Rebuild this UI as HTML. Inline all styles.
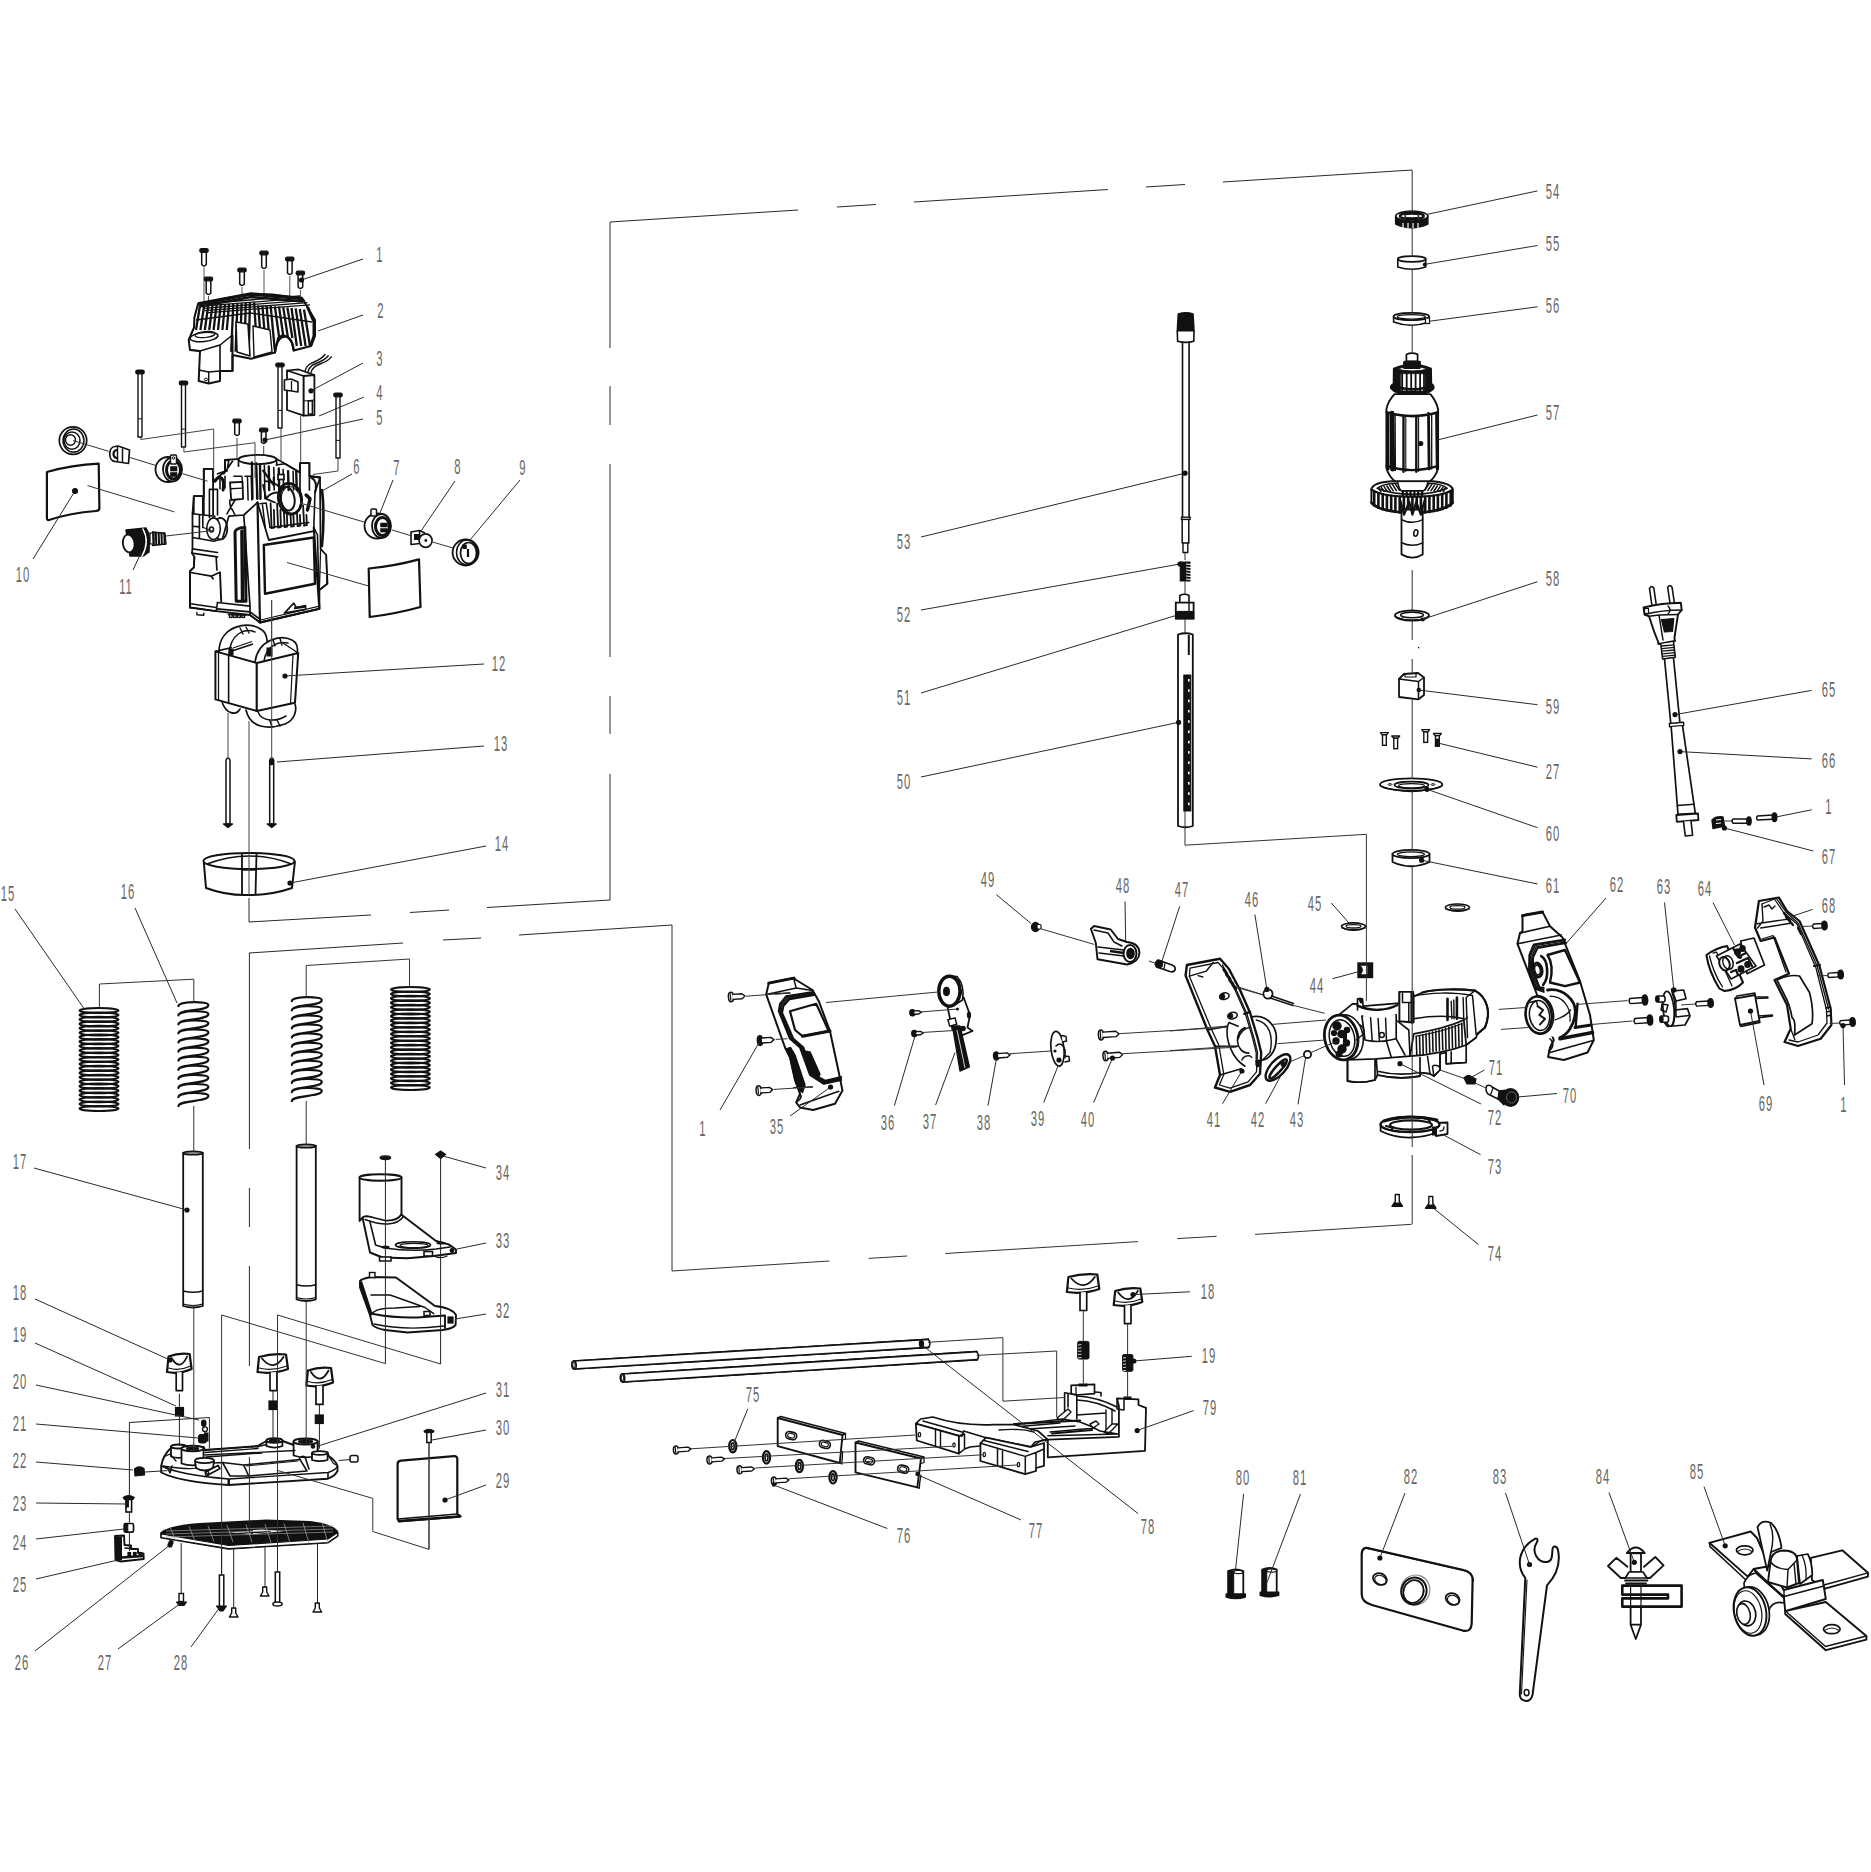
<!DOCTYPE html>
<html><head><meta charset="utf-8"><title>Exploded parts diagram</title>
<style>
html,body{margin:0;padding:0;background:#fff;}
svg{display:block}
text{font-family:"Liberation Sans",sans-serif;font-size:22.5px;fill:#666;letter-spacing:2px;}
</style></head><body>
<svg width="1871" height="1872" viewBox="0 0 1871 1872">
<rect x="0" y="0" width="1871" height="1872" fill="#fff"/>
<rect x="199.8" y="248.7" width="8.4" height="3.6" rx="1.6" fill="#111" stroke="#111" stroke-width="1.2"/>
<path d="M201.7,252.3 V264.5 Q204,267.5 206.3,264.5 V252.3" fill="none" stroke="#111" stroke-width="1.5" stroke-linejoin="round" stroke-linecap="round"/>
<line x1="204" y1="267.5" x2="204" y2="302" stroke="#555" stroke-width="1"/>
<rect x="204.3" y="277.2" width="8.4" height="3.6" rx="1.6" fill="#111" stroke="#111" stroke-width="1.2"/>
<path d="M206.2,280.8 V293 Q208.5,296 210.8,293 V280.8" fill="none" stroke="#111" stroke-width="1.5" stroke-linejoin="round" stroke-linecap="round"/>
<line x1="208.5" y1="296" x2="208.5" y2="303" stroke="#555" stroke-width="1"/>
<rect x="237.8" y="268.2" width="8.4" height="3.6" rx="1.6" fill="#111" stroke="#111" stroke-width="1.2"/>
<path d="M239.7,271.8 V284 Q242,287 244.3,284 V271.8" fill="none" stroke="#111" stroke-width="1.5" stroke-linejoin="round" stroke-linecap="round"/>
<line x1="242" y1="287" x2="242" y2="297" stroke="#555" stroke-width="1"/>
<rect x="259.8" y="251.2" width="8.4" height="3.6" rx="1.6" fill="#111" stroke="#111" stroke-width="1.2"/>
<path d="M261.7,254.8 V267 Q264,270 266.3,267 V254.8" fill="none" stroke="#111" stroke-width="1.5" stroke-linejoin="round" stroke-linecap="round"/>
<line x1="264" y1="270" x2="264" y2="295" stroke="#555" stroke-width="1"/>
<rect x="285.6" y="257.2" width="8.4" height="3.6" rx="1.6" fill="#111" stroke="#111" stroke-width="1.2"/>
<path d="M287.5,260.8 V273 Q289.8,276 292.1,273 V260.8" fill="none" stroke="#111" stroke-width="1.5" stroke-linejoin="round" stroke-linecap="round"/>
<line x1="289.8" y1="276" x2="289.8" y2="297" stroke="#555" stroke-width="1"/>
<rect x="296.2" y="271.2" width="8.4" height="3.6" rx="1.6" fill="#111" stroke="#111" stroke-width="1.2"/>
<path d="M298.1,274.8 V287 Q300.4,290 302.7,287 V274.8" fill="none" stroke="#111" stroke-width="1.5" stroke-linejoin="round" stroke-linecap="round"/>
<line x1="300.4" y1="290" x2="300.4" y2="298" stroke="#555" stroke-width="1"/>
<polygon points="198,304 222,299 251,294 272.5,294.5 302.5,298.5 307.5,307.5 315,320 315,336 311,346 293.7,350.5 292,343 288,337 282.5,335 278,338 275,352.5 251,358.7 232.5,355 232.5,371 220,371 220,381 208.7,383.5 198.7,381 200,351 190,350 188.7,340 194,327.5 194.4,317.5" fill="#fff" stroke="#111" stroke-width="2" stroke-linejoin="round"/>
<line x1="200" y1="305.5" x2="196" y2="330" stroke="#111" stroke-width="2.3"/>
<line x1="204.2" y1="305.3" x2="200.4" y2="330" stroke="#111" stroke-width="2.3"/>
<line x1="208.3" y1="305" x2="204.8" y2="330" stroke="#111" stroke-width="2.3"/>
<line x1="212.5" y1="304.8" x2="209.2" y2="330" stroke="#111" stroke-width="2.3"/>
<line x1="216.6" y1="304.5" x2="213.6" y2="330" stroke="#111" stroke-width="2.3"/>
<line x1="220.8" y1="304.3" x2="218" y2="330" stroke="#111" stroke-width="2.3"/>
<line x1="225" y1="304.1" x2="222.4" y2="330" stroke="#111" stroke-width="2.3"/>
<line x1="229.1" y1="303.8" x2="226.8" y2="330" stroke="#111" stroke-width="2.3"/>
<line x1="233.3" y1="303.6" x2="231.2" y2="351.9" stroke="#111" stroke-width="2.3"/>
<line x1="237.4" y1="303.3" x2="235.6" y2="351.7" stroke="#111" stroke-width="2.3"/>
<line x1="241.6" y1="303.1" x2="240" y2="351.5" stroke="#111" stroke-width="2.3"/>
<line x1="245.8" y1="302.9" x2="244.4" y2="351.3" stroke="#111" stroke-width="2.3"/>
<line x1="249.9" y1="302.6" x2="248.8" y2="351.1" stroke="#111" stroke-width="2.3"/>
<line x1="254.1" y1="302.4" x2="257.2" y2="350.9" stroke="#111" stroke-width="2.3"/>
<line x1="258.2" y1="305.3" x2="261.6" y2="350.7" stroke="#111" stroke-width="2.3"/>
<line x1="262.4" y1="305.5" x2="266" y2="350.5" stroke="#111" stroke-width="2.3"/>
<line x1="266.6" y1="305.8" x2="270.4" y2="350.3" stroke="#111" stroke-width="2.3"/>
<line x1="270.7" y1="306" x2="274.8" y2="350.1" stroke="#111" stroke-width="2.3"/>
<line x1="274.9" y1="306.4" x2="279.2" y2="338" stroke="#111" stroke-width="2.3"/>
<line x1="279" y1="306.7" x2="283.6" y2="338" stroke="#111" stroke-width="2.3"/>
<line x1="283.2" y1="307.1" x2="288" y2="338" stroke="#111" stroke-width="2.3"/>
<line x1="287.4" y1="307.5" x2="292.4" y2="338" stroke="#111" stroke-width="2.3"/>
<line x1="291.5" y1="308" x2="296.8" y2="346" stroke="#111" stroke-width="2.3"/>
<line x1="295.7" y1="308.4" x2="301.2" y2="346" stroke="#111" stroke-width="2.3"/>
<line x1="299.8" y1="309" x2="305.6" y2="346" stroke="#111" stroke-width="2.3"/>
<line x1="304" y1="309.5" x2="310" y2="346" stroke="#111" stroke-width="2.3"/>
<line x1="200" y1="304" x2="300" y2="296" stroke="#111" stroke-width="1.3"/>
<line x1="201.5" y1="306.2" x2="302.5" y2="298.2" stroke="#111" stroke-width="1.3"/>
<line x1="203" y1="308.4" x2="305" y2="300.4" stroke="#111" stroke-width="1.3"/>
<line x1="204.5" y1="310.6" x2="307.5" y2="302.6" stroke="#111" stroke-width="1.3"/>
<line x1="206" y1="312.8" x2="310" y2="304.8" stroke="#111" stroke-width="1.3"/>
<polyline points="198,304 251,294 302.5,298.5" fill="none" stroke="#111" stroke-width="3.4" stroke-linejoin="round"/>
<polyline points="200,306.5 251,297 303,301.5" fill="none" stroke="#111" stroke-width="2.4" stroke-linejoin="round"/>
<polyline points="196,320 250,313 312,322" fill="none" stroke="#111" stroke-width="1.4" stroke-linejoin="round"/>
<polyline points="232.5,335 232.5,371" fill="none" stroke="#111" stroke-width="2" stroke-linejoin="round"/>
<polygon points="236,322 237,352 250,356 248,324" fill="#fff" stroke="#111" stroke-width="1.6" stroke-linejoin="round"/>
<polygon points="253,326 254,357 272,352 270,330" fill="#fff" stroke="#111" stroke-width="1.4" stroke-linejoin="round"/>
<polyline points="190,350 200,351 220,345 232.5,335" fill="none" stroke="#111" stroke-width="1.6" stroke-linejoin="round"/>
<ellipse cx="204" cy="337" rx="14" ry="4.5" fill="#fff" stroke="#111" stroke-width="1.6" transform="rotate(-6 204 337)"/>
<ellipse cx="205" cy="334.5" rx="10" ry="3" fill="none" stroke="#111" stroke-width="1.2" transform="rotate(-6 205 334.5)"/>
<polyline points="220,345 220,371" fill="none" stroke="#111" stroke-width="1.6" stroke-linejoin="round"/>
<polyline points="208.7,383.5 208.7,372 220,371" fill="none" stroke="#111" stroke-width="1.4" stroke-linejoin="round"/>
<polyline points="198.7,370 208.7,372" fill="none" stroke="#111" stroke-width="1.4" stroke-linejoin="round"/>
<ellipse cx="206" cy="379.5" rx="1.6" ry="1.3" fill="none" stroke="#111" stroke-width="1"/>
<path d="M275,352.5 C276,333 292,330 293.7,350.5" fill="none" stroke="#111" stroke-width="2.2" stroke-linejoin="round" stroke-linecap="round"/>
<path d="M308,308 L314,322 L314,336 L311,345" fill="none" stroke="#111" stroke-width="3" stroke-linejoin="round" stroke-linecap="round"/>
<polygon points="287,370.5 303.7,376 303.7,415.6 287,410" fill="#fff" stroke="#111" stroke-width="1.8" stroke-linejoin="round"/>
<polygon points="303.7,376 314.4,375 314.4,415 303.7,415.6" fill="#fff" stroke="#111" stroke-width="1.8" stroke-linejoin="round"/>
<polyline points="287,370.5 298.7,369.4 314.4,375" fill="none" stroke="#111" stroke-width="1.6" stroke-linejoin="round"/>
<polygon points="284.4,380 291,379 298,382 298,392 291.5,391 284.4,390" fill="#fff" stroke="#111" stroke-width="1.6" stroke-linejoin="round"/>
<line x1="291.5" y1="381" x2="291.5" y2="391" stroke="#111" stroke-width="1.3"/>
<rect x="308.3" y="401" width="4" height="13" rx="0" fill="none" stroke="#111" stroke-width="1.4"/>
<line x1="303.7" y1="401" x2="314.4" y2="400" stroke="#111" stroke-width="1.2"/>
<path d="M305,371.0 C308,360 318,364 325.0,354.5" fill="none" stroke="#111" stroke-width="1.4" stroke-linejoin="round" stroke-linecap="round"/>
<path d="M308,371.8 C311,361 321,365 328.2,355.7" fill="none" stroke="#111" stroke-width="1.4" stroke-linejoin="round" stroke-linecap="round"/>
<path d="M311,372.6 C314,362 324,366 331.4,356.9" fill="none" stroke="#111" stroke-width="1.4" stroke-linejoin="round" stroke-linecap="round"/>
<line x1="300.7" y1="416" x2="300.7" y2="462" stroke="#444" stroke-width="1"/>
<rect x="135.8" y="370" width="8.4" height="3.8" rx="1.6" fill="#111" stroke="#111" stroke-width="1.2"/>
<path d="M138,374 V437 H142 V374" fill="none" stroke="#111" stroke-width="1.4" stroke-linejoin="round" stroke-linecap="round"/>
<line x1="138" y1="418.8" x2="142" y2="418.8" stroke="#111" stroke-width="1"/>
<rect x="179.3" y="381" width="8.4" height="3.8" rx="1.6" fill="#111" stroke="#111" stroke-width="1.2"/>
<path d="M181.5,385 V447 H185.5 V385" fill="none" stroke="#111" stroke-width="1.4" stroke-linejoin="round" stroke-linecap="round"/>
<line x1="181.5" y1="429.1" x2="185.5" y2="429.1" stroke="#111" stroke-width="1"/>
<rect x="275.8" y="363" width="8.4" height="3.8" rx="1.6" fill="#111" stroke="#111" stroke-width="1.2"/>
<path d="M278,367 V428 H282 V367" fill="none" stroke="#111" stroke-width="1.4" stroke-linejoin="round" stroke-linecap="round"/>
<line x1="278" y1="410.4" x2="282" y2="410.4" stroke="#111" stroke-width="1"/>
<rect x="333.8" y="393" width="8.4" height="3.8" rx="1.6" fill="#111" stroke="#111" stroke-width="1.2"/>
<path d="M336,397 V458 H340 V397" fill="none" stroke="#111" stroke-width="1.4" stroke-linejoin="round" stroke-linecap="round"/>
<line x1="336" y1="440.4" x2="340" y2="440.4" stroke="#111" stroke-width="1"/>
<rect x="232.8" y="419.2" width="8.4" height="3.6" rx="1.6" fill="#111" stroke="#111" stroke-width="1.2"/>
<path d="M234.7,422.8 V434 Q237,437 239.3,434 V422.8" fill="none" stroke="#111" stroke-width="1.5" stroke-linejoin="round" stroke-linecap="round"/>
<rect x="259.5" y="428.2" width="8.4" height="3.6" rx="1.6" fill="#111" stroke="#111" stroke-width="1.2"/>
<path d="M261.4,431.8 V442 Q263.7,445 266,442 V431.8" fill="none" stroke="#111" stroke-width="1.5" stroke-linejoin="round" stroke-linecap="round"/>
<line x1="237" y1="438" x2="237" y2="492" stroke="#444" stroke-width="1"/>
<line x1="263.7" y1="446" x2="263.7" y2="484" stroke="#444" stroke-width="1"/>
<path d="M190 571.2 L193.8 567.5 L194.4 556.9 L191.9 553.1 L192.5 548.8 L192.5 513.8 L193.8 496.2 L203.8 496.2 L203.8 468.8 L213.1 468.8 L213.1 481.2 L225 471.2 L225 460 L240 458.8 Q257.5 453.8 276.2 458.8 L285 463.8 L300 472.5 L300 463.1 L309.4 463.1 L309.4 476.2 L320 477.5 L320.6 548.8 L326.2 555 L327.5 583.8 L319.4 590 L319.4 608.8 L260 622.5 L250 615 L216.2 611.2 L190 607.5 Z" fill="#fff" stroke="#111" stroke-width="1.8" stroke-linejoin="round" stroke-linecap="round"/>
<path d="M257.5 502.5 L260 622.5 L319.4 608.8 L313.8 527.5" fill="none" stroke="#111" stroke-width="2.2" stroke-linejoin="round" stroke-linecap="round"/>
<path d="M257.5 502.5 L268.8 540 L313.8 531.2" fill="none" stroke="#111" stroke-width="1.8" stroke-linejoin="round" stroke-linecap="round"/>
<path d="M263.8 545 L313.8 537.5 L315 583.8 L265 593.8 Z" fill="none" stroke="#111" stroke-width="2.4" stroke-linejoin="round" stroke-linecap="round"/>
<path d="M260.6 620 L319.4 606.2" fill="none" stroke="#111" stroke-width="1.2" stroke-linejoin="round" stroke-linecap="round"/>
<path d="M284.4 613.1 L293.8 603.1 L296.2 607.5 L305.6 605.6 L305.6 609.4 Z" fill="none" stroke="#111" stroke-width="1.6" stroke-linejoin="round" stroke-linecap="round"/>
<path d="M295 608.1 L305 606.6" fill="none" stroke="#111" stroke-width="2.4" stroke-linejoin="round" stroke-linecap="round"/>
<path d="M313.8 527.5 L317.5 535 L318.8 590 L319.4 590 M320 477.5 L315 492.5 L313.8 527.5" fill="none" stroke="#111" stroke-width="1.6" stroke-linejoin="round" stroke-linecap="round"/>
<path d="M320.6 548.8 L319.4 590 M326.2 555 L326.9 583.8 L320 589.4" fill="none" stroke="#111" stroke-width="1.3" stroke-linejoin="round" stroke-linecap="round"/>
<path d="M321.9 490 C323.8 502.5 324 527.5 321.9 546.2" fill="none" stroke="#111" stroke-width="2.6" stroke-linejoin="round" stroke-linecap="round"/>
<path d="M310 476.2 L320 477.5 M311.2 477.5 Q318.1 481.2 315 492.5" fill="none" stroke="#111" stroke-width="2" stroke-linejoin="round" stroke-linecap="round"/>
<path d="M270.6 503.1 L271.6 528.1 L274.4 527.5 L273.9 510" fill="none" stroke="#111" stroke-width="1.8" stroke-linejoin="round" stroke-linecap="round"/>
<path d="M277.1 503.6 L278.1 527.6 L280.9 527 L280.4 510" fill="none" stroke="#111" stroke-width="1.8" stroke-linejoin="round" stroke-linecap="round"/>
<path d="M283.6 504.1 L284.6 527.1 L287.4 526.5 L286.9 515" fill="none" stroke="#111" stroke-width="1.8" stroke-linejoin="round" stroke-linecap="round"/>
<path d="M290.1 504.6 L291.1 526.6 L293.9 526 L293.4 515" fill="none" stroke="#111" stroke-width="1.8" stroke-linejoin="round" stroke-linecap="round"/>
<path d="M296.6 505.1 L297.6 526.1 L300.4 525.5 L299.9 515" fill="none" stroke="#111" stroke-width="1.8" stroke-linejoin="round" stroke-linecap="round"/>
<path d="M303.1 505.6 L304.1 525.6 L306.9 525 L306.4 515" fill="none" stroke="#111" stroke-width="1.8" stroke-linejoin="round" stroke-linecap="round"/>
<path d="M270 527.5 L308.8 522.5" fill="none" stroke="#111" stroke-width="1.6" stroke-linejoin="round" stroke-linecap="round"/>
<path d="M260 503.8 L266.2 503.1 L270 527.5 M262.5 505 L265.2 527.5" fill="none" stroke="#111" stroke-width="1.5" stroke-linejoin="round" stroke-linecap="round"/>
<ellipse cx="290" cy="498.7" rx="11.5" ry="15.5" fill="#fff" stroke="#111" stroke-width="2.8" transform="rotate(-10 290 498.7)"/>
<ellipse cx="287.5" cy="498.7" rx="7" ry="12" fill="#fff" stroke="#111" stroke-width="2" transform="rotate(-10 287.5 498.7)"/>
<ellipse cx="291" cy="500" rx="9.5" ry="13.5" fill="none" stroke="#111" stroke-width="1" transform="rotate(-10 291 500)"/>
<path d="M265 481.2 Q273.8 481.2 280 487.5 M266.2 498.8 Q270 492.5 277.5 492.5 M263.1 485 L266.2 498.8 L275 502.5" fill="none" stroke="#111" stroke-width="1.8" stroke-linejoin="round" stroke-linecap="round"/>
<path d="M306.2 495 L310 498.8 L307.5 510" fill="none" stroke="#111" stroke-width="3.4" stroke-linejoin="round" stroke-linecap="round"/>
<ellipse cx="257.5" cy="459.5" rx="19" ry="4.6" fill="#fff" stroke="#111" stroke-width="1.9"/>
<path d="M238.5 460 L238.5 466.2 M276.5 460 L276.9 465" fill="none" stroke="#111" stroke-width="1.7" stroke-linejoin="round" stroke-linecap="round"/>
<path d="M251.9 462.5 L252.4 498.8" fill="none" stroke="#111" stroke-width="2.4" stroke-linejoin="round" stroke-linecap="round"/>
<path d="M256.2 463.5 L256.8 498.8" fill="none" stroke="#111" stroke-width="1.6" stroke-linejoin="round" stroke-linecap="round"/>
<path d="M260 464.5 L260.5 498.8" fill="none" stroke="#111" stroke-width="2.4" stroke-linejoin="round" stroke-linecap="round"/>
<path d="M264.4 465.5 L264.9 498.8" fill="none" stroke="#111" stroke-width="1.6" stroke-linejoin="round" stroke-linecap="round"/>
<path d="M268.8 466.5 L269.2 490" fill="none" stroke="#111" stroke-width="2.4" stroke-linejoin="round" stroke-linecap="round"/>
<path d="M273.8 467.5 L274.2 490" fill="none" stroke="#111" stroke-width="1.6" stroke-linejoin="round" stroke-linecap="round"/>
<path d="M278.8 468.5 L279.2 490" fill="none" stroke="#111" stroke-width="2.4" stroke-linejoin="round" stroke-linecap="round"/>
<path d="M283.1 469.5 L283.6 490" fill="none" stroke="#111" stroke-width="1.6" stroke-linejoin="round" stroke-linecap="round"/>
<path d="M288.1 471.2 L288.6 490" fill="none" stroke="#111" stroke-width="2.4" stroke-linejoin="round" stroke-linecap="round"/>
<path d="M293.1 471.2 L293.6 490" fill="none" stroke="#111" stroke-width="1.6" stroke-linejoin="round" stroke-linecap="round"/>
<path d="M296.2 471.2 L296.8 490" fill="none" stroke="#111" stroke-width="2.4" stroke-linejoin="round" stroke-linecap="round"/>
<path d="M263.1 470.6 L273.8 485 L273.8 477.5 M256.2 463.1 L257.5 498.8" fill="none" stroke="#111" stroke-width="2.2" stroke-linejoin="round" stroke-linecap="round"/>
<rect x="278" y="474.5" width="6" height="5" rx="0" fill="#fff" stroke="#111" stroke-width="1.7"/>
<path d="M276.2 465 L285 463.8 L300 472.5" fill="none" stroke="#111" stroke-width="1.6" stroke-linejoin="round" stroke-linecap="round"/>
<path d="M300 463.1 L300 492.5 M309.4 463.1 L309.4 490 M300 463.1 L309.4 463.1" fill="none" stroke="#111" stroke-width="1.7" stroke-linejoin="round" stroke-linecap="round"/>
<path d="M225 460 L225 471.2 L217.5 473.8 M225 460 L228.8 460.6 L226.9 471.2 M232.5 461.2 L223.8 473.8" fill="none" stroke="#111" stroke-width="1.7" stroke-linejoin="round" stroke-linecap="round"/>
<path d="M215 481.2 C220 473.8 225 477.5 223.1 490" fill="none" stroke="#111" stroke-width="3" stroke-linejoin="round" stroke-linecap="round"/>
<path d="M220 477.5 L220 488.8 M225 476.2 L225 488.1" fill="none" stroke="#111" stroke-width="1.6" stroke-linejoin="round" stroke-linecap="round"/>
<path d="M230 482.5 L242.5 481.9 L243.1 498.8 L231.2 500 Z" fill="#fff" stroke="#111" stroke-width="1.8" stroke-linejoin="round" stroke-linecap="round"/>
<path d="M233.8 476.2 L241.9 476.2 L242.5 481.9 M230.6 488.8 L242.8 488.1" fill="none" stroke="#111" stroke-width="1.4" stroke-linejoin="round" stroke-linecap="round"/>
<path d="M245 476.2 L251.2 476.2 L251.9 500 M247.5 477.5 L248.1 500" fill="none" stroke="#111" stroke-width="1.5" stroke-linejoin="round" stroke-linecap="round"/>
<path d="M230 500 Q228.8 505 232.5 510 L235 515 M226.9 513.8 L235 500" fill="none" stroke="#111" stroke-width="1.6" stroke-linejoin="round" stroke-linecap="round"/>
<path d="M203.8 468.8 L203.8 515 M213.1 468.8 L213.1 515 M203.8 468.8 L213.1 468.8" fill="none" stroke="#111" stroke-width="1.8" stroke-linejoin="round" stroke-linecap="round"/>
<path d="M209.4 489.4 L209.4 517.5 M217.5 489.4 L217.5 515 M209.4 489.4 L217.5 489.4" fill="none" stroke="#111" stroke-width="1.6" stroke-linejoin="round" stroke-linecap="round"/>
<path d="M193.8 496.2 L193.8 513.8 M193.8 496.2 L203.8 496.2 M202.8 496.9 L202.8 513.8" fill="none" stroke="#111" stroke-width="1.7" stroke-linejoin="round" stroke-linecap="round"/>
<path d="M192.5 513.8 L215 516.2 M192.5 526.2 L199.4 526.9 M199.4 515 L199.4 537.5 M202.8 515.6 L202.8 527.5 M192.5 537.5 L200 538.8 L213.8 541.2 L222.5 538.8" fill="none" stroke="#111" stroke-width="1.6" stroke-linejoin="round" stroke-linecap="round"/>
<ellipse cx="220.5" cy="528.7" rx="6.8" ry="10.8" fill="#fff" stroke="#111" stroke-width="1.8"/>
<ellipse cx="213.5" cy="528.7" rx="6.8" ry="10.8" fill="#fff" stroke="#111" stroke-width="1.6"/>
<ellipse cx="211.5" cy="529.5" rx="2" ry="2.4" fill="none" stroke="#111" stroke-width="1.5"/>
<path d="M203.1 527.5 L210 530" fill="none" stroke="#111" stroke-width="1.3" stroke-linejoin="round" stroke-linecap="round"/>
<path d="M192.5 548.8 L217.5 552.5 M191.9 553.1 L217.5 556.9 M194.4 556.9 L193.8 567.5 M216.2 557.5 L216.9 570" fill="none" stroke="#111" stroke-width="1.7" stroke-linejoin="round" stroke-linecap="round"/>
<path d="M190 571.2 L193.8 567.5 M190.6 572.5 L211.2 576.2 L219.4 572.5 L220 572.5 M211.2 576.2 L213.1 578.8" fill="none" stroke="#111" stroke-width="1.7" stroke-linejoin="round" stroke-linecap="round"/>
<path d="M190 571.2 L190 607.5 M220 572.5 L221.2 601.2" fill="none" stroke="#111" stroke-width="1.9" stroke-linejoin="round" stroke-linecap="round"/>
<path d="M190 607.5 L216.2 611.2 M190.6 603.8 L216.2 607.5 M216.2 611.2 L217.5 602.5" fill="none" stroke="#111" stroke-width="1.6" stroke-linejoin="round" stroke-linecap="round"/>
<path d="M196.9 612.5 L196.9 614.8 L203.8 615.2 L203.8 613.1" fill="none" stroke="#111" stroke-width="1.4" stroke-linejoin="round" stroke-linecap="round"/>
<path d="M222.5 538.8 L228.8 516.2 L243.8 515 L257.5 502.5 M243.8 515 L250 606.2" fill="none" stroke="#111" stroke-width="1.7" stroke-linejoin="round" stroke-linecap="round"/>
<path d="M235 532.5 Q235 529.4 240 528.1 L244.8 527.5 L246 601.2 L236.2 601.2 Z" fill="none" stroke="#111" stroke-width="3" stroke-linejoin="round" stroke-linecap="round"/>
<path d="M241.9 531.2 L242.5 600" fill="none" stroke="#111" stroke-width="3.4" stroke-linejoin="round" stroke-linecap="round"/>
<path d="M217.5 602.5 L250 606.2 M216.9 608.8 L250 611.9 M250 606.2 L250 615 L260 622.5 M250 611.9 L259.4 618.8" fill="none" stroke="#111" stroke-width="1.7" stroke-linejoin="round" stroke-linecap="round"/>
<path d="M229.4 614.4 L229.4 617.2 L232.1 617.5 L232.1 614.8" fill="none" stroke="#111" stroke-width="1.4" stroke-linejoin="round" stroke-linecap="round"/>
<path d="M233.5 614.4 L233.5 617.2 L236.2 617.5 L236.2 614.8" fill="none" stroke="#111" stroke-width="1.4" stroke-linejoin="round" stroke-linecap="round"/>
<path d="M237.6 614.4 L237.6 617.2 L240.4 617.5 L240.4 614.8" fill="none" stroke="#111" stroke-width="1.4" stroke-linejoin="round" stroke-linecap="round"/>
<path d="M241.8 614.4 L241.8 617.2 L244.5 617.5 L244.5 614.8" fill="none" stroke="#111" stroke-width="1.4" stroke-linejoin="round" stroke-linecap="round"/>
<path d="M228.5 614.4 L245.6 615" fill="none" stroke="#111" stroke-width="1.8" stroke-linejoin="round" stroke-linecap="round"/>
<line x1="271.6" y1="600" x2="271.6" y2="640" stroke="#444" stroke-width="1"/>
<ellipse cx="73" cy="440.6" rx="13.7" ry="13.7" fill="#fff" stroke="#111" stroke-width="1.7"/>
<ellipse cx="73.5" cy="440.6" rx="10.5" ry="11.5" fill="none" stroke="#111" stroke-width="1.5"/>
<ellipse cx="72" cy="440.6" rx="8" ry="8.7" fill="none" stroke="#111" stroke-width="1.5"/>
<ellipse cx="70.5" cy="440" rx="5" ry="5.3" fill="none" stroke="#111" stroke-width="1.4"/>
<path d="M115,446.5 C108,447 108,461 115,461.5 L128.5,463.5 L129.5,450 L118,446 Z" fill="#fff" stroke="#111" stroke-width="1.7" stroke-linejoin="round" stroke-linecap="round"/>
<polyline points="117.5,447 117.5,461.8" fill="none" stroke="#111" stroke-width="1.5" stroke-linejoin="round"/>
<polyline points="122.5,448.5 122.5,462.5" fill="none" stroke="#111" stroke-width="1.5" stroke-linejoin="round"/>
<path d="M116.5,450 C112.5,451 112.5,457 116.5,458" fill="none" stroke="#111" stroke-width="2.2" stroke-linejoin="round" stroke-linecap="round"/>
<ellipse cx="168" cy="469.5" rx="12.5" ry="12.5" fill="#fff" stroke="#111" stroke-width="1.8"/>
<ellipse cx="172.5" cy="469.5" rx="9.5" ry="12" fill="#fff" stroke="#111" stroke-width="1.8"/>
<ellipse cx="173.5" cy="470" rx="7" ry="9" fill="#fff" stroke="#111" stroke-width="3"/>
<rect x="170.5" y="455" width="6" height="9" rx="1" fill="#fff" stroke="#111" stroke-width="1.5"/>
<ellipse cx="173.5" cy="458" rx="1.2" ry="1.2" fill="none" stroke="#111" stroke-width="1"/>
<rect x="171" y="467" width="5.5" height="3.5" rx="0" fill="#111" stroke="#111" stroke-width="1.6"/>
<rect x="171" y="473" width="5.5" height="3" rx="0" fill="#111" stroke="#111" stroke-width="1.6"/>
<path d="M46.9,472 Q72,465 98.7,463.7 L99.4,508 Q99.4,510.8 96,511 Q70,513 49,520 Q46.9,520.6 46.9,518 Z" fill="#fff" stroke="#111" stroke-width="2.2" stroke-linejoin="round" stroke-linecap="round"/>
<circle cx="75" cy="491" r="3" fill="#111"/>
<path d="M126,530 L146,528 L149,534 L149,552 L143,556 L130,556 Z" fill="#111" stroke="#111" stroke-width="1.5" stroke-linejoin="round" stroke-linecap="round"/>
<ellipse cx="128.7" cy="543.5" rx="5.8" ry="9" fill="#fff" stroke="#111" stroke-width="1.8" transform="rotate(-8 128.7 543.5)"/>
<path d="M143,529 Q150,542 142,556" fill="none" stroke="#fff" stroke-width="1.5" stroke-linejoin="round" stroke-linecap="round"/>
<path d="M145,529.5 C151,533 151,552 144,555.5" fill="none" stroke="#111" stroke-width="1.4" stroke-linejoin="round" stroke-linecap="round"/>
<rect x="150" y="533" width="4" height="11" rx="0" fill="#fff" stroke="#111" stroke-width="1.2"/>
<line x1="153" y1="531.5" x2="153.5" y2="545.5" stroke="#111" stroke-width="2"/>
<line x1="155.8" y1="531.7" x2="156.3" y2="545.3" stroke="#111" stroke-width="2"/>
<line x1="158.6" y1="531.9" x2="159.1" y2="545.1" stroke="#111" stroke-width="2"/>
<line x1="161.4" y1="532.1" x2="161.9" y2="544.9" stroke="#111" stroke-width="2"/>
<line x1="164.2" y1="532.3" x2="164.7" y2="544.7" stroke="#111" stroke-width="2"/>
<polyline points="152,532 165,533.5 166,544 152,545.5" fill="none" stroke="#111" stroke-width="1.3" stroke-linejoin="round"/>
<ellipse cx="377" cy="526" rx="12.5" ry="12.5" fill="#fff" stroke="#111" stroke-width="1.8"/>
<ellipse cx="381.5" cy="526" rx="9.5" ry="12" fill="#fff" stroke="#111" stroke-width="1.8"/>
<ellipse cx="382.5" cy="526.5" rx="7" ry="9" fill="#fff" stroke="#111" stroke-width="3"/>
<rect x="371" y="509" width="5.5" height="7" rx="1" fill="#fff" stroke="#111" stroke-width="1.5"/>
<rect x="381" y="523.5" width="6" height="3" rx="0" fill="#111" stroke="#111" stroke-width="1.5"/>
<rect x="381" y="529" width="6" height="2.6" rx="0" fill="#111" stroke="#111" stroke-width="1.5"/>
<polygon points="411,532 419.5,530.5 420,543.5 411,544.5" fill="#fff" stroke="#111" stroke-width="1.6" stroke-linejoin="round"/>
<ellipse cx="425.6" cy="540.6" rx="6.5" ry="6.8" fill="#fff" stroke="#111" stroke-width="1.7"/>
<circle cx="425.8" cy="540.5" r="1.4" fill="#111"/>
<rect x="414.5" y="534.5" width="4.5" height="5" rx="0" fill="#111" stroke="#111" stroke-width="1"/>
<polyline points="419.5,530.5 425,533" fill="none" stroke="#111" stroke-width="1.4" stroke-linejoin="round"/>
<ellipse cx="465.6" cy="552.5" rx="13" ry="13" fill="#fff" stroke="#111" stroke-width="1.8"/>
<ellipse cx="467" cy="552.5" rx="10.5" ry="12.5" fill="none" stroke="#111" stroke-width="1.5"/>
<ellipse cx="468.5" cy="553" rx="8" ry="10.5" fill="none" stroke="#111" stroke-width="1.7"/>
<line x1="468" y1="549" x2="468" y2="557" stroke="#111" stroke-width="2.2"/>
<rect x="463" y="545" width="3.2" height="3.5" rx="0" fill="#111" stroke="#111" stroke-width="1"/>
<path d="M368.7,568.5 Q395,566 419,559.4 L420.5,607 Q395,614 369.7,617 Z" fill="#fff" stroke="#111" stroke-width="2.2" stroke-linejoin="round" stroke-linecap="round"/>
<path d="M219,652 C219,625 250,620 262,630 C268,634 268,645 266,652" fill="#fff" stroke="#111" stroke-width="1.7" stroke-linejoin="round" stroke-linecap="round"/>
<path d="M229,655 C230,633 245,628 255,632" fill="none" stroke="#111" stroke-width="1.5" stroke-linejoin="round" stroke-linecap="round"/>
<path d="M240,628 L243,634 M246,627 L249,633" fill="none" stroke="#111" stroke-width="1.4" stroke-linejoin="round" stroke-linecap="round"/>
<path d="M255,662 C258,640 280,634 292,640 C298,643 298,650 297,655" fill="#fff" stroke="#111" stroke-width="1.7" stroke-linejoin="round" stroke-linecap="round"/>
<path d="M264,661 C266,646 278,641 288,643" fill="none" stroke="#111" stroke-width="1.5" stroke-linejoin="round" stroke-linecap="round"/>
<path d="M273,640 L275,646 M280,638.5 L282,645" fill="none" stroke="#111" stroke-width="1.4" stroke-linejoin="round" stroke-linecap="round"/>
<polyline points="232,651 253,644" fill="none" stroke="#111" stroke-width="1.6" stroke-linejoin="round"/>
<polyline points="233,648 252,641.5" fill="none" stroke="#111" stroke-width="1.2" stroke-linejoin="round"/>
<path d="M222,702 C226,714 236,716 240,709" fill="none" stroke="#111" stroke-width="1.6" stroke-linejoin="round" stroke-linecap="round"/>
<path d="M246,710 C250,728 268,730 285,724 C295,720 297,710 295,704" fill="#fff" stroke="#111" stroke-width="1.7" stroke-linejoin="round" stroke-linecap="round"/>
<path d="M258,712 C262,722 276,722 286,716" fill="none" stroke="#111" stroke-width="1.5" stroke-linejoin="round" stroke-linecap="round"/>
<path d="M270,721 L272,727 M277,720 L280,726" fill="none" stroke="#111" stroke-width="1.4" stroke-linejoin="round" stroke-linecap="round"/>
<polygon points="215.4,651.4 256.8,663 256.8,711 215.4,699.4" fill="#fff" stroke="#111" stroke-width="2" stroke-linejoin="round"/>
<polygon points="256.8,663 298.2,653 295,702.7 256.8,711" fill="#fff" stroke="#111" stroke-width="2" stroke-linejoin="round"/>
<polyline points="215.4,651.4 232,647.5" fill="none" stroke="#111" stroke-width="1.6" stroke-linejoin="round"/>
<polyline points="283,643 298.2,653" fill="none" stroke="#111" stroke-width="1.4" stroke-linejoin="round"/>
<line x1="228.6" y1="655" x2="228.6" y2="703" stroke="#111" stroke-width="1.6"/>
<line x1="218.5" y1="652.5" x2="218.5" y2="700.5" stroke="#111" stroke-width="1.3"/>
<line x1="293" y1="654.5" x2="290.5" y2="703.5" stroke="#111" stroke-width="1.2"/>
<rect x="229" y="649" width="4" height="6" rx="0" fill="#111" stroke="#111" stroke-width="1"/>
<rect x="267" y="648" width="5" height="8" rx="0" fill="#111" stroke="#111" stroke-width="1"/>
<path d="M226,760 V824 H230 V760 Q228,756 226,760" fill="#fff" stroke="#111" stroke-width="1.5" stroke-linejoin="round" stroke-linecap="round"/>
<path d="M223.5,824 H232.5 L228,827.5 Z" fill="#111" stroke="#111" stroke-width="1.3" stroke-linejoin="round" stroke-linecap="round"/>
<path d="M269.7,760 V824 H273.7 V760 Q271.7,756 269.7,760" fill="#fff" stroke="#111" stroke-width="1.5" stroke-linejoin="round" stroke-linecap="round"/>
<path d="M267.2,824 H276.2 L271.7,827.5 Z" fill="#111" stroke="#111" stroke-width="1.3" stroke-linejoin="round" stroke-linecap="round"/>
<ellipse cx="271.7" cy="762" rx="2" ry="3" fill="#111" stroke="#111" stroke-width="1"/>
<path d="M203.8,862 L206,888 Q228,896 249,895 Q272,895 292,888 L294.9,862" fill="#fff" stroke="#111" stroke-width="2" stroke-linejoin="round" stroke-linecap="round"/>
<ellipse cx="249" cy="861" rx="45.6" ry="8" fill="#fff" stroke="#111" stroke-width="2"/>
<path d="M207,864 Q249,848 291.5,864" fill="none" stroke="#111" stroke-width="1.5" stroke-linejoin="round" stroke-linecap="round"/>
<polyline points="242,853.5 242,895" fill="none" stroke="#111" stroke-width="1.8" stroke-linejoin="round"/>
<polyline points="256.5,853.5 255.5,895" fill="none" stroke="#111" stroke-width="1.8" stroke-linejoin="round"/>
<polyline points="242,870 256,870" fill="none" stroke="#111" stroke-width="1.4" stroke-linejoin="round"/>
<line x1="249" y1="853" x2="249" y2="895" stroke="#444" stroke-width="1"/>
<ellipse cx="99" cy="1010.5" rx="19.5" ry="2.6" fill="none" stroke="#111" stroke-width="2"/>
<ellipse cx="99" cy="1015" rx="19.5" ry="2.6" fill="none" stroke="#111" stroke-width="2"/>
<ellipse cx="99" cy="1019.4" rx="19.5" ry="2.6" fill="none" stroke="#111" stroke-width="2"/>
<ellipse cx="99" cy="1023.9" rx="19.5" ry="2.6" fill="none" stroke="#111" stroke-width="2"/>
<ellipse cx="99" cy="1028.3" rx="19.5" ry="2.6" fill="none" stroke="#111" stroke-width="2"/>
<ellipse cx="99" cy="1032.8" rx="19.5" ry="2.6" fill="none" stroke="#111" stroke-width="2"/>
<ellipse cx="99" cy="1037.2" rx="19.5" ry="2.6" fill="none" stroke="#111" stroke-width="2"/>
<ellipse cx="99" cy="1041.7" rx="19.5" ry="2.6" fill="none" stroke="#111" stroke-width="2"/>
<ellipse cx="99" cy="1046.1" rx="19.5" ry="2.6" fill="none" stroke="#111" stroke-width="2"/>
<ellipse cx="99" cy="1050.6" rx="19.5" ry="2.6" fill="none" stroke="#111" stroke-width="2"/>
<ellipse cx="99" cy="1055" rx="19.5" ry="2.6" fill="none" stroke="#111" stroke-width="2"/>
<ellipse cx="99" cy="1059.5" rx="19.5" ry="2.6" fill="none" stroke="#111" stroke-width="2"/>
<ellipse cx="99" cy="1064" rx="19.5" ry="2.6" fill="none" stroke="#111" stroke-width="2"/>
<ellipse cx="99" cy="1068.4" rx="19.5" ry="2.6" fill="none" stroke="#111" stroke-width="2"/>
<ellipse cx="99" cy="1072.9" rx="19.5" ry="2.6" fill="none" stroke="#111" stroke-width="2"/>
<ellipse cx="99" cy="1077.3" rx="19.5" ry="2.6" fill="none" stroke="#111" stroke-width="2"/>
<ellipse cx="99" cy="1081.8" rx="19.5" ry="2.6" fill="none" stroke="#111" stroke-width="2"/>
<ellipse cx="99" cy="1086.2" rx="19.5" ry="2.6" fill="none" stroke="#111" stroke-width="2"/>
<ellipse cx="99" cy="1090.7" rx="19.5" ry="2.6" fill="none" stroke="#111" stroke-width="2"/>
<ellipse cx="99" cy="1095.1" rx="19.5" ry="2.6" fill="none" stroke="#111" stroke-width="2"/>
<ellipse cx="99" cy="1099.6" rx="19.5" ry="2.6" fill="none" stroke="#111" stroke-width="2"/>
<ellipse cx="99" cy="1104" rx="19.5" ry="2.6" fill="none" stroke="#111" stroke-width="2"/>
<ellipse cx="99" cy="1108.5" rx="19.5" ry="2.6" fill="none" stroke="#111" stroke-width="2"/>
<ellipse cx="410.4" cy="989.5" rx="19.5" ry="2.6" fill="none" stroke="#111" stroke-width="2"/>
<ellipse cx="410.4" cy="994" rx="19.5" ry="2.6" fill="none" stroke="#111" stroke-width="2"/>
<ellipse cx="410.4" cy="998.4" rx="19.5" ry="2.6" fill="none" stroke="#111" stroke-width="2"/>
<ellipse cx="410.4" cy="1002.9" rx="19.5" ry="2.6" fill="none" stroke="#111" stroke-width="2"/>
<ellipse cx="410.4" cy="1007.3" rx="19.5" ry="2.6" fill="none" stroke="#111" stroke-width="2"/>
<ellipse cx="410.4" cy="1011.8" rx="19.5" ry="2.6" fill="none" stroke="#111" stroke-width="2"/>
<ellipse cx="410.4" cy="1016.2" rx="19.5" ry="2.6" fill="none" stroke="#111" stroke-width="2"/>
<ellipse cx="410.4" cy="1020.7" rx="19.5" ry="2.6" fill="none" stroke="#111" stroke-width="2"/>
<ellipse cx="410.4" cy="1025.1" rx="19.5" ry="2.6" fill="none" stroke="#111" stroke-width="2"/>
<ellipse cx="410.4" cy="1029.6" rx="19.5" ry="2.6" fill="none" stroke="#111" stroke-width="2"/>
<ellipse cx="410.4" cy="1034" rx="19.5" ry="2.6" fill="none" stroke="#111" stroke-width="2"/>
<ellipse cx="410.4" cy="1038.5" rx="19.5" ry="2.6" fill="none" stroke="#111" stroke-width="2"/>
<ellipse cx="410.4" cy="1043" rx="19.5" ry="2.6" fill="none" stroke="#111" stroke-width="2"/>
<ellipse cx="410.4" cy="1047.4" rx="19.5" ry="2.6" fill="none" stroke="#111" stroke-width="2"/>
<ellipse cx="410.4" cy="1051.9" rx="19.5" ry="2.6" fill="none" stroke="#111" stroke-width="2"/>
<ellipse cx="410.4" cy="1056.3" rx="19.5" ry="2.6" fill="none" stroke="#111" stroke-width="2"/>
<ellipse cx="410.4" cy="1060.8" rx="19.5" ry="2.6" fill="none" stroke="#111" stroke-width="2"/>
<ellipse cx="410.4" cy="1065.2" rx="19.5" ry="2.6" fill="none" stroke="#111" stroke-width="2"/>
<ellipse cx="410.4" cy="1069.7" rx="19.5" ry="2.6" fill="none" stroke="#111" stroke-width="2"/>
<ellipse cx="410.4" cy="1074.1" rx="19.5" ry="2.6" fill="none" stroke="#111" stroke-width="2"/>
<ellipse cx="410.4" cy="1078.6" rx="19.5" ry="2.6" fill="none" stroke="#111" stroke-width="2"/>
<ellipse cx="410.4" cy="1083" rx="19.5" ry="2.6" fill="none" stroke="#111" stroke-width="2"/>
<ellipse cx="410.4" cy="1087.5" rx="19.5" ry="2.6" fill="none" stroke="#111" stroke-width="2"/>
<path d="M178.4,1006.3 C178.4,1001 208.4,1001 208.4,1004.9 C208.4,1011.5 178.4,1008.8 178.4,1015.4 M178.4,1015.4 C178.4,1010.1 208.4,1010.1 208.4,1014 C208.4,1020.6 178.4,1017.9 178.4,1024.5 M178.4,1024.5 C178.4,1019.2 208.4,1019.2 208.4,1023.1 C208.4,1029.7 178.4,1027 178.4,1033.5 M178.4,1033.5 C178.4,1028.3 208.4,1028.3 208.4,1032.2 C208.4,1038.8 178.4,1036.1 178.4,1042.6 M178.4,1042.6 C178.4,1037.4 208.4,1037.4 208.4,1041.3 C208.4,1047.9 178.4,1045.2 178.4,1051.7 M178.4,1051.7 C178.4,1046.5 208.4,1046.5 208.4,1050.4 C208.4,1057 178.4,1054.3 178.4,1060.8 M178.4,1060.8 C178.4,1055.5 208.4,1055.5 208.4,1059.5 C208.4,1066.1 178.4,1063.4 178.4,1069.9 M178.4,1069.9 C178.4,1064.6 208.4,1064.6 208.4,1068.5 C208.4,1075.2 178.4,1072.5 178.4,1079 M178.4,1079 C178.4,1073.7 208.4,1073.7 208.4,1077.6 C208.4,1084.3 178.4,1081.5 178.4,1088.1 M178.4,1088.1 C178.4,1082.8 208.4,1082.8 208.4,1086.7 C208.4,1093.4 178.4,1090.6 178.4,1097.2 M178.4,1097.2 C178.4,1091.9 208.4,1091.9 208.4,1095.8 C208.4,1102.5 178.4,1099.7 178.4,1106.3 " fill="none" stroke="#111" stroke-width="2.1" stroke-linejoin="round" stroke-linecap="round"/>
<path d="M291.8,1001.3 C291.8,996 321.8,996 321.8,999.9 C321.8,1006.5 291.8,1003.8 291.8,1010.4 M291.8,1010.4 C291.8,1005.1 321.8,1005.1 321.8,1009 C321.8,1015.6 291.8,1012.9 291.8,1019.5 M291.8,1019.5 C291.8,1014.2 321.8,1014.2 321.8,1018.1 C321.8,1024.7 291.8,1022 291.8,1028.5 M291.8,1028.5 C291.8,1023.3 321.8,1023.3 321.8,1027.2 C321.8,1033.8 291.8,1031.1 291.8,1037.6 M291.8,1037.6 C291.8,1032.4 321.8,1032.4 321.8,1036.3 C321.8,1042.9 291.8,1040.2 291.8,1046.7 M291.8,1046.7 C291.8,1041.5 321.8,1041.5 321.8,1045.4 C321.8,1052 291.8,1049.3 291.8,1055.8 M291.8,1055.8 C291.8,1050.5 321.8,1050.5 321.8,1054.5 C321.8,1061.1 291.8,1058.4 291.8,1064.9 M291.8,1064.9 C291.8,1059.6 321.8,1059.6 321.8,1063.5 C321.8,1070.2 291.8,1067.5 291.8,1074 M291.8,1074 C291.8,1068.7 321.8,1068.7 321.8,1072.6 C321.8,1079.3 291.8,1076.5 291.8,1083.1 M291.8,1083.1 C291.8,1077.8 321.8,1077.8 321.8,1081.7 C321.8,1088.4 291.8,1085.6 291.8,1092.2 M291.8,1092.2 C291.8,1086.9 321.8,1086.9 321.8,1090.8 C321.8,1097.5 291.8,1094.7 291.8,1101.3 " fill="none" stroke="#111" stroke-width="2.1" stroke-linejoin="round" stroke-linecap="round"/>
<path d="M183.2,1153 V1306 Q193.0,1309 202.8,1306 V1153" fill="#fff" stroke="#111" stroke-width="1.8" stroke-linejoin="round" stroke-linecap="round"/>
<ellipse cx="193" cy="1153" rx="9.8" ry="1.6" fill="#fff" stroke="#111" stroke-width="2"/>
<path d="M183.2,1291 Q193.0,1293.5 202.8,1291" fill="none" stroke="#111" stroke-width="1.4" stroke-linejoin="round" stroke-linecap="round"/>
<path d="M183.2,1304 Q193.0,1307 202.8,1304" fill="none" stroke="#111" stroke-width="1.2" stroke-linejoin="round" stroke-linecap="round"/>
<path d="M296.6,1146 V1299.5 Q306.20000000000005,1302.5 315.8,1299.5 V1146" fill="#fff" stroke="#111" stroke-width="1.8" stroke-linejoin="round" stroke-linecap="round"/>
<ellipse cx="306.2" cy="1146" rx="9.6" ry="1.6" fill="#fff" stroke="#111" stroke-width="2"/>
<path d="M296.6,1284.7 Q306.20000000000005,1287.2 315.8,1284.7" fill="none" stroke="#111" stroke-width="1.4" stroke-linejoin="round" stroke-linecap="round"/>
<path d="M296.6,1297.5 Q306.20000000000005,1300.5 315.8,1297.5" fill="none" stroke="#111" stroke-width="1.2" stroke-linejoin="round" stroke-linecap="round"/>
<path d="M359.6,1177.5 V1221 L362.5,1217.5 L370,1252.5 L382.5,1257.5 L407.5,1258.3 L433.7,1256 L456,1253 L456,1249.5 L448.7,1244.4 L436,1241 L402.5,1215.6 L401.5,1215 V1177.5 Z" fill="#fff" stroke="#111" stroke-width="1.9" stroke-linejoin="round" stroke-linecap="round"/>
<ellipse cx="380.5" cy="1177.5" rx="21" ry="3.2" fill="#fff" stroke="#111" stroke-width="1.9"/>
<path d="M362.5,1217.5 C366,1214 372,1218 385,1220.5 C394,1221 399,1219 401.5,1214" fill="none" stroke="#111" stroke-width="1.7" stroke-linejoin="round" stroke-linecap="round"/>
<path d="M370,1222 L375.6,1245 L385,1248 Q410,1252 436,1249 L450,1247" fill="none" stroke="#111" stroke-width="1.6" stroke-linejoin="round" stroke-linecap="round"/>
<path d="M365,1219.5 C372,1222 380,1224.5 388,1224 C396,1223.5 401,1220 403,1217" fill="none" stroke="#111" stroke-width="1.4" stroke-linejoin="round" stroke-linecap="round"/>
<ellipse cx="413" cy="1245" rx="17.5" ry="3.2" fill="none" stroke="#111" stroke-width="1.6"/>
<ellipse cx="414" cy="1245.5" rx="14" ry="2.2" fill="none" stroke="#111" stroke-width="1.2"/>
<ellipse cx="385.5" cy="1247" rx="3.5" ry="1" fill="#111" stroke="#111" stroke-width="1.2"/>
<ellipse cx="441" cy="1243" rx="4" ry="1" fill="#111" stroke="#111" stroke-width="1.2"/>
<rect x="379.5" y="1257" width="11.5" height="4" rx="0" fill="#fff" stroke="#111" stroke-width="1.5"/>
<rect x="424" y="1251.5" width="8.5" height="4.5" rx="0" fill="#fff" stroke="#111" stroke-width="1.6"/>
<path d="M435,1256.5 Q441,1259 447,1256" fill="none" stroke="#111" stroke-width="1.3" stroke-linejoin="round" stroke-linecap="round"/>
<circle cx="452" cy="1250.5" r="2.4" fill="#111"/>
<path d="M360,1281 Q361,1279 371,1277 L396,1277.5 L435,1306 Q452,1308 456,1315 L455.6,1325 Q452,1329 442.5,1330 L407.5,1332.5 L385,1330 Q375,1328 372.5,1325 L370,1315 L360,1287.5 Z" fill="#fff" stroke="#111" stroke-width="1.9" stroke-linejoin="round" stroke-linecap="round"/>
<path d="M361,1283 L371,1314" fill="none" stroke="#111" stroke-width="3.2" stroke-linejoin="round" stroke-linecap="round"/>
<path d="M371,1295 L390,1295 Q410,1302 425,1307.5 L433.7,1313.7" fill="none" stroke="#111" stroke-width="1.5" stroke-linejoin="round" stroke-linecap="round"/>
<path d="M372,1313.7 Q376,1308 395,1308 L420,1306.5" fill="none" stroke="#111" stroke-width="1.4" stroke-linejoin="round" stroke-linecap="round"/>
<path d="M372,1313.7 Q400,1319 424,1317 L445,1315.5 L445,1328" fill="none" stroke="#111" stroke-width="1.9" stroke-linejoin="round" stroke-linecap="round"/>
<path d="M374,1324 Q405,1331 444,1326" fill="none" stroke="#111" stroke-width="1.3" stroke-linejoin="round" stroke-linecap="round"/>
<rect x="369.5" y="1272.5" width="5.5" height="5" rx="0" fill="#fff" stroke="#111" stroke-width="1.4"/>
<rect x="424" y="1311.5" width="6" height="4" rx="0" fill="#fff" stroke="#111" stroke-width="1.5"/>
<rect x="448" y="1317" width="5" height="6" rx="0" fill="#111" stroke="#111" stroke-width="1.2"/>
<ellipse cx="385.4" cy="1157.7" rx="5.2" ry="1.8" fill="#111" stroke="#111" stroke-width="1.3"/>
<path d="M435.5,1154.4 L440.6,1151 L445.7,1154.4 L440.6,1158.5 Z" fill="#111" stroke="#111" stroke-width="1.2" stroke-linejoin="round" stroke-linecap="round"/>
<path d="M168.5,1356.5 Q179.05,1352.5 189.6,1354 L191.6,1369 Q179.05,1374.5 167.0,1372 Z" fill="#fff" stroke="#111" stroke-width="2.2" stroke-linejoin="round" stroke-linecap="round"/>
<path d="M171.5,1358 Q180.05,1372 187.1,1356.5" fill="none" stroke="#111" stroke-width="1.8" stroke-linejoin="round" stroke-linecap="round"/>
<path d="M168.5,1368 Q179.05,1371.5 190.6,1366" fill="none" stroke="#111" stroke-width="1.2" stroke-linejoin="round" stroke-linecap="round"/>
<path d="M176.2,1372.5 V1390.6 H182.5 V1372" fill="#fff" stroke="#111" stroke-width="1.7" stroke-linejoin="round" stroke-linecap="round"/>
<path d="M259,1357.0 Q272.5,1353.0 286,1354.5 L288,1369 Q272.5,1374.5 257.5,1372 Z" fill="#fff" stroke="#111" stroke-width="2.2" stroke-linejoin="round" stroke-linecap="round"/>
<path d="M262,1358.5 Q273.5,1372.5 283.5,1357.0" fill="none" stroke="#111" stroke-width="1.8" stroke-linejoin="round" stroke-linecap="round"/>
<path d="M259,1368 Q272.5,1371.5 287,1366" fill="none" stroke="#111" stroke-width="1.2" stroke-linejoin="round" stroke-linecap="round"/>
<path d="M270,1372.5 V1390.6 H276.9 V1372" fill="#fff" stroke="#111" stroke-width="1.7" stroke-linejoin="round" stroke-linecap="round"/>
<path d="M307.9,1370.5 Q319.45,1366.5 331,1368 L333,1382.5 Q319.45,1388.0 306.4,1385.5 Z" fill="#fff" stroke="#111" stroke-width="2.2" stroke-linejoin="round" stroke-linecap="round"/>
<path d="M310.9,1372 Q320.45,1386 328.5,1370.5" fill="none" stroke="#111" stroke-width="1.8" stroke-linejoin="round" stroke-linecap="round"/>
<path d="M307.9,1381.5 Q319.45,1385.0 332,1379.5" fill="none" stroke="#111" stroke-width="1.2" stroke-linejoin="round" stroke-linecap="round"/>
<path d="M316,1386.0 V1404.4 H323 V1385.5" fill="#fff" stroke="#111" stroke-width="1.7" stroke-linejoin="round" stroke-linecap="round"/>
<rect x="175.5" y="1407.5" width="8" height="8.5" rx="0" fill="#111" stroke="#111" stroke-width="1.2"/>
<rect x="269" y="1401" width="8" height="8.5" rx="0" fill="#111" stroke="#111" stroke-width="1.2"/>
<rect x="315.3" y="1415" width="8" height="8.5" rx="0" fill="#111" stroke="#111" stroke-width="1.2"/>
<rect x="201.5" y="1420" width="4.5" height="6.5" rx="2" fill="#111" stroke="#111" stroke-width="1"/>
<ellipse cx="205" cy="1429.3" rx="2.4" ry="2.4" fill="#fff" stroke="#111" stroke-width="1.4"/>
<rect x="198.5" y="1434.5" width="8" height="8.5" rx="2" fill="#111" stroke="#111" stroke-width="1"/>
<rect x="204.5" y="1433" width="3.5" height="8" rx="0" fill="#111" stroke="#111" stroke-width="1"/>
<path d="M134.5,1469 Q139,1465 144,1468.5 L144.5,1475 L135,1476 Z" fill="#111" stroke="#111" stroke-width="1.2" stroke-linejoin="round" stroke-linecap="round"/>
<path d="M123.2,1497.5 Q128.7,1493.5 134.2,1497.5 L133,1499.5 H124.5 Z" fill="#111" stroke="#111" stroke-width="1.2" stroke-linejoin="round" stroke-linecap="round"/>
<rect x="126" y="1499.5" width="5.6" height="12.5" rx="0" fill="#fff" stroke="#111" stroke-width="1.6"/>
<rect x="126" y="1500" width="2.4" height="7" rx="0" fill="#111" stroke="#111" stroke-width="1"/>
<rect x="124.3" y="1523.5" width="9.2" height="8.7" rx="1.5" fill="#fff" stroke="#111" stroke-width="1.7"/>
<rect x="124.3" y="1524" width="3.5" height="7.5" rx="0" fill="#111" stroke="#111" stroke-width="1"/>
<path d="M115,1536 L124,1535.5 L124.5,1545 L131,1545.5 V1549 L138,1549 L138,1553 L143.5,1553.5 L143.7,1559 L121,1561.5 L115.5,1560 Z" fill="#fff" stroke="#111" stroke-width="1.9" stroke-linejoin="round" stroke-linecap="round"/>
<rect x="116.5" y="1537" width="5" height="23" rx="0" fill="#111" stroke="#111" stroke-width="1"/>
<line x1="122" y1="1557.5" x2="143" y2="1556" stroke="#111" stroke-width="2.4"/>
<rect x="128" y="1552.5" width="2.6" height="3.6" rx="0" fill="#111" stroke="#111" stroke-width="1.2"/>
<rect x="133.5" y="1552.5" width="2.6" height="3.6" rx="0" fill="#111" stroke="#111" stroke-width="1.2"/>
<rect x="139" y="1552.5" width="2.6" height="3.6" rx="0" fill="#111" stroke="#111" stroke-width="1.2"/>
<line x1="124.5" y1="1548" x2="131" y2="1548.5" stroke="#111" stroke-width="1.5"/>
<path d="M161.2,1466 Q163,1455 171,1448 L186,1446 L203.7,1447 L205,1450 L257.5,1446 L266.5,1441 L282.5,1441 L293.7,1445 L293.7,1441 L317.5,1441 L317.5,1452.5 L327.5,1452.5 L328.7,1456 Q336,1461 337.5,1466 L337.5,1471 Q335,1476 328,1478.7 L228.7,1485 Q180,1482 161.2,1472.5 Z" fill="#fff" stroke="#111" stroke-width="1.9" stroke-linejoin="round" stroke-linecap="round"/>
<path d="M161.2,1466 Q180,1475 228.7,1479 L328,1472.5 Q336,1470 337.5,1466" fill="none" stroke="#111" stroke-width="1.4" stroke-linejoin="round" stroke-linecap="round"/>
<line x1="228.7" y1="1479" x2="228.7" y2="1485" stroke="#111" stroke-width="2.4"/>
<line x1="328" y1="1472.5" x2="328" y2="1478.7" stroke="#111" stroke-width="1.6"/>
<path d="M171.0,1446.5 V1456.5 Q178.5,1459.1 186.0,1456.5 V1446.5" fill="#fff" stroke="#111" stroke-width="1.8" stroke-linejoin="round" stroke-linecap="round"/>
<ellipse cx="178.5" cy="1446.5" rx="7.5" ry="2" fill="#fff" stroke="#111" stroke-width="1.8"/>
<path d="M181.5,1448.5 V1463.5 Q192.5,1467.14 203.5,1463.5 V1448.5" fill="#fff" stroke="#111" stroke-width="1.8" stroke-linejoin="round" stroke-linecap="round"/>
<ellipse cx="192.5" cy="1448.5" rx="11" ry="2.8" fill="#fff" stroke="#111" stroke-width="1.8"/>
<path d="M266.4,1440.5 V1446.0 Q274.4,1449.12 282.4,1446.0 V1440.5" fill="#fff" stroke="#111" stroke-width="1.8" stroke-linejoin="round" stroke-linecap="round"/>
<ellipse cx="274.4" cy="1440.5" rx="8" ry="2.4" fill="#fff" stroke="#111" stroke-width="1.8"/>
<path d="M293.6,1441.5 V1455.5 Q305.6,1459.4 317.6,1455.5 V1441.5" fill="#fff" stroke="#111" stroke-width="1.8" stroke-linejoin="round" stroke-linecap="round"/>
<ellipse cx="305.6" cy="1441.5" rx="12" ry="3" fill="#fff" stroke="#111" stroke-width="1.8"/>
<path d="M312.0,1453 V1460 Q319.8,1462.34 327.6,1460 V1453" fill="#fff" stroke="#111" stroke-width="1.8" stroke-linejoin="round" stroke-linecap="round"/>
<ellipse cx="319.8" cy="1453" rx="7.8" ry="1.8" fill="#fff" stroke="#111" stroke-width="1.8"/>
<ellipse cx="192.5" cy="1448.5" rx="6" ry="1.6" fill="#111" stroke="#111" stroke-width="1.3"/>
<ellipse cx="305.6" cy="1441.5" rx="7" ry="1.8" fill="#111" stroke="#111" stroke-width="1.3"/>
<ellipse cx="274.4" cy="1440.5" rx="5" ry="1.4" fill="#111" stroke="#111" stroke-width="1.2"/>
<path d="M195,1461 Q204.5,1456 214,1460.5 L213,1468 Q204,1473 196,1468 Z" fill="#fff" stroke="#111" stroke-width="1.8" stroke-linejoin="round" stroke-linecap="round"/>
<ellipse cx="204.5" cy="1460.5" rx="9.5" ry="2.6" fill="#fff" stroke="#111" stroke-width="1.6"/>
<path d="M205,1450 L257.5,1446.5 M205,1452.5 L258,1448.5 M205,1455 L295,1450.5 M206,1457 L262,1453" fill="none" stroke="#111" stroke-width="1.3" stroke-linejoin="round" stroke-linecap="round"/>
<polyline points="258,1446.5 267,1444.5" fill="none" stroke="#111" stroke-width="1.3" stroke-linejoin="round"/>
<ellipse cx="255" cy="1447.5" rx="3" ry="1" fill="none" stroke="#111" stroke-width="1"/>
<polyline points="222.5,1462.5 230,1476 248.7,1476 243.7,1465" fill="none" stroke="#111" stroke-width="1.6" stroke-linejoin="round"/>
<polyline points="214,1463 222.5,1462.5 243.7,1465 300,1459.5 307,1471 248.7,1476" fill="none" stroke="#111" stroke-width="1.5" stroke-linejoin="round"/>
<polyline points="246,1466 298,1461" fill="none" stroke="#111" stroke-width="1.1" stroke-linejoin="round"/>
<path d="M299,1459.5 Q301,1455 305,1457 L309,1469" fill="none" stroke="#111" stroke-width="1.6" stroke-linejoin="round" stroke-linecap="round"/>
<path d="M166,1456 L170,1454 L176,1461 M163,1466 Q190,1470 196,1468" fill="none" stroke="#111" stroke-width="1.3" stroke-linejoin="round" stroke-linecap="round"/>
<path d="M205.5,1472 L218,1465.5 L220,1468.5 L208,1475 Z" fill="#fff" stroke="#111" stroke-width="1.7" stroke-linejoin="round" stroke-linecap="round"/>
<ellipse cx="207" cy="1473.5" rx="1.8" ry="2.3" fill="none" stroke="#111" stroke-width="1.2"/>
<path d="M167,1467 L170,1473 L172,1466" fill="none" stroke="#111" stroke-width="1.5" stroke-linejoin="round" stroke-linecap="round"/>
<polyline points="328.7,1456 333,1463 336,1465" fill="none" stroke="#111" stroke-width="1.3" stroke-linejoin="round"/>
<circle cx="313" cy="1446.5" r="2.3" fill="#111"/>
<rect x="350" y="1455.5" width="8" height="6.5" rx="2" fill="#fff" stroke="#111" stroke-width="1.5"/>
<line x1="339" y1="1460.5" x2="350" y2="1459.5" stroke="#222" stroke-width="1"/>
<path d="M161.2,1533 Q170,1526 200,1524 L266,1520.6 L310,1522 Q334,1525 337.5,1532.5 L337.5,1536 L328,1542.5 L228.7,1548.7 L161.2,1537.5 Z" fill="#111" stroke="#111" stroke-width="2" stroke-linejoin="round" stroke-linecap="round"/>
<path d="M161.2,1537.5 L228.7,1548.7 L328,1542.5 L337.5,1536 L337.5,1532.5 L328,1539 L228.7,1545.5 L161.2,1534 Z" fill="#fff" stroke="#111" stroke-width="1.2" stroke-linejoin="round" stroke-linecap="round"/>
<path d="M218,1531.5 L262,1529 L290,1531 L250,1535 Z" fill="#fff" stroke="#111" stroke-width="1" stroke-linejoin="round" stroke-linecap="round"/>
<path d="M222,1532 L250,1530.5 M230,1534 L270,1531.5 M252,1528 L252,1535" fill="none" stroke="#111" stroke-width="1.4" stroke-linejoin="round" stroke-linecap="round"/>
<line x1="170" y1="1527" x2="176" y2="1541" stroke="#999" stroke-width="0.8"/>
<line x1="189" y1="1526.4" x2="195" y2="1541.3" stroke="#999" stroke-width="0.8"/>
<line x1="208" y1="1525.8" x2="214" y2="1541.6" stroke="#999" stroke-width="0.8"/>
<line x1="227" y1="1525.2" x2="233" y2="1541.9" stroke="#999" stroke-width="0.8"/>
<line x1="246" y1="1524.6" x2="252" y2="1542.2" stroke="#999" stroke-width="0.8"/>
<line x1="265" y1="1524" x2="271" y2="1542.5" stroke="#999" stroke-width="0.8"/>
<line x1="284" y1="1523.4" x2="290" y2="1542.8" stroke="#999" stroke-width="0.8"/>
<line x1="303" y1="1522.8" x2="309" y2="1543.1" stroke="#999" stroke-width="0.8"/>
<line x1="322" y1="1522.2" x2="328" y2="1543.4" stroke="#999" stroke-width="0.8"/>
<line x1="166" y1="1531" x2="333" y2="1526" stroke="#999" stroke-width="0.7"/>
<line x1="166" y1="1534" x2="333" y2="1529" stroke="#999" stroke-width="0.7"/>
<line x1="166" y1="1537" x2="333" y2="1532" stroke="#999" stroke-width="0.7"/>
<circle cx="171" cy="1542.5" r="2.6" fill="#111"/>
<path d="M231.7,1608 V1613 L229.39999999999998,1617 H238.0 L235.7,1613 V1608 Z" fill="#fff" stroke="#111" stroke-width="1.4" stroke-linejoin="round" stroke-linecap="round"/>
<path d="M262.7,1587 V1592 L260.4,1596 H269.0 L266.7,1592 V1587 Z" fill="#fff" stroke="#111" stroke-width="1.4" stroke-linejoin="round" stroke-linecap="round"/>
<path d="M315.3,1603 V1608 L313.0,1612 H321.6 L319.3,1608 V1603 Z" fill="#fff" stroke="#111" stroke-width="1.4" stroke-linejoin="round" stroke-linecap="round"/>
<rect x="179" y="1593.5" width="4.5" height="8" rx="0" fill="#fff" stroke="#111" stroke-width="1.4"/>
<path d="M176.5,1602 H186.5 L184,1605.5 H179 Z" fill="#111" stroke="#111" stroke-width="1.2" stroke-linejoin="round" stroke-linecap="round"/>
<rect x="219.4" y="1575" width="4.4" height="32" rx="0" fill="#fff" stroke="#111" stroke-width="1.5"/>
<path d="M216.5,1606 H226.5 L223,1611 H220 Z" fill="#111" stroke="#111" stroke-width="1.2" stroke-linejoin="round" stroke-linecap="round"/>
<rect x="275.3" y="1572" width="4.4" height="31" rx="0" fill="#fff" stroke="#111" stroke-width="1.5"/>
<ellipse cx="277.5" cy="1604" rx="4.6" ry="2" fill="#fff" stroke="#111" stroke-width="1.5"/>
<path d="M397.6,1464 Q397.6,1461 401,1460.7 L454,1456.2 Q457.3,1456 457.3,1459 L457.3,1514 L460.6,1516.5 L399,1521.5 L397.6,1519 Z" fill="#fff" stroke="#111" stroke-width="2.2" stroke-linejoin="round" stroke-linecap="round"/>
<path d="M397.6,1519 L457.3,1514" fill="none" stroke="#111" stroke-width="1.4" stroke-linejoin="round" stroke-linecap="round"/>
<line x1="399" y1="1521" x2="460" y2="1516.5" stroke="#111" stroke-width="2.6"/>
<line x1="429" y1="1443" x2="429" y2="1549" stroke="#333" stroke-width="1"/>
<path d="M424,1431 Q429,1427.5 434,1431 L433,1432.5 H425 Z" fill="#111" stroke="#111" stroke-width="1.2" stroke-linejoin="round" stroke-linecap="round"/>
<rect x="426.8" y="1432.5" width="4.4" height="10" rx="0" fill="#fff" stroke="#111" stroke-width="1.5"/>
<path d="M1178.3,314 Q1186,311.5 1193,314 L1194,331.5 H1177.3 Z" fill="#111" stroke="#111" stroke-width="1.6" stroke-linejoin="round" stroke-linecap="round"/>
<path d="M1177.3,331.5 L1177.6,341.2 Q1186,343.5 1193.8,341.2 L1194,331.5" fill="#fff" stroke="#111" stroke-width="1.6" stroke-linejoin="round" stroke-linecap="round"/>
<path d="M1182.5,342 V517.6 M1189.1,342 V517.6" fill="none" stroke="#111" stroke-width="1.6" stroke-linejoin="round" stroke-linecap="round"/>
<rect x="1181.5" y="517.2" width="8.6" height="2.2" rx="0" fill="#fff" stroke="#111" stroke-width="1.4"/>
<path d="M1182.2,520 V543 H1188.8 V520" fill="none" stroke="#111" stroke-width="1.5" stroke-linejoin="round" stroke-linecap="round"/>
<path d="M1183,543 V552.5 H1187.8 V543" fill="none" stroke="#111" stroke-width="1.4" stroke-linejoin="round" stroke-linecap="round"/>
<rect x="1180.2" y="562" width="9.8" height="19" rx="0" fill="#111" stroke="#111" stroke-width="1"/>
<line x1="1186" y1="564" x2="1191" y2="564.5" stroke="#fff" stroke-width="1"/>
<line x1="1186" y1="567" x2="1191" y2="567.5" stroke="#fff" stroke-width="1"/>
<line x1="1186" y1="570" x2="1191" y2="570.5" stroke="#fff" stroke-width="1"/>
<line x1="1186" y1="573" x2="1191" y2="573.5" stroke="#fff" stroke-width="1"/>
<line x1="1186" y1="576" x2="1191" y2="576.5" stroke="#fff" stroke-width="1"/>
<line x1="1186" y1="579" x2="1191" y2="579.5" stroke="#fff" stroke-width="1"/>
<path d="M1179.8,595.5 Q1184.5,593 1189,595.5 V603 H1179.8 Z" fill="#fff" stroke="#111" stroke-width="1.6" stroke-linejoin="round" stroke-linecap="round"/>
<rect x="1175.8" y="602.6" width="17.8" height="16" rx="0" fill="#fff" stroke="#111" stroke-width="1.8"/>
<rect x="1175.8" y="611.5" width="17.8" height="7.2" rx="0" fill="#111" stroke="#111" stroke-width="1.2"/>
<line x1="1189" y1="603" x2="1189" y2="612" stroke="#111" stroke-width="1.4"/>
<path d="M1178,634.5 Q1185.5,632 1192.8,634.5 V826 Q1185.5,828.5 1178,826 Z" fill="#fff" stroke="#111" stroke-width="1.8" stroke-linejoin="round" stroke-linecap="round"/>
<line x1="1188.8" y1="635" x2="1188.8" y2="655" stroke="#111" stroke-width="2"/>
<rect x="1183.8" y="675" width="7" height="136" rx="0" fill="#111" stroke="#111" stroke-width="1"/>
<rect x="1188" y="679" width="1.6" height="2.6" rx="0" fill="#fff" stroke="none" stroke-width="0"/>
<rect x="1188" y="689.3" width="1.6" height="2.6" rx="0" fill="#fff" stroke="none" stroke-width="0"/>
<rect x="1188" y="699.6" width="1.6" height="2.6" rx="0" fill="#fff" stroke="none" stroke-width="0"/>
<rect x="1188" y="709.9" width="1.6" height="2.6" rx="0" fill="#fff" stroke="none" stroke-width="0"/>
<rect x="1188" y="720.2" width="1.6" height="2.6" rx="0" fill="#fff" stroke="none" stroke-width="0"/>
<rect x="1188" y="730.5" width="1.6" height="2.6" rx="0" fill="#fff" stroke="none" stroke-width="0"/>
<rect x="1188" y="740.8" width="1.6" height="2.6" rx="0" fill="#fff" stroke="none" stroke-width="0"/>
<rect x="1188" y="751.1" width="1.6" height="2.6" rx="0" fill="#fff" stroke="none" stroke-width="0"/>
<rect x="1188" y="761.4" width="1.6" height="2.6" rx="0" fill="#fff" stroke="none" stroke-width="0"/>
<rect x="1188" y="771.7" width="1.6" height="2.6" rx="0" fill="#fff" stroke="none" stroke-width="0"/>
<rect x="1188" y="782" width="1.6" height="2.6" rx="0" fill="#fff" stroke="none" stroke-width="0"/>
<rect x="1188" y="792.3" width="1.6" height="2.6" rx="0" fill="#fff" stroke="none" stroke-width="0"/>
<rect x="1188" y="802.6" width="1.6" height="2.6" rx="0" fill="#fff" stroke="none" stroke-width="0"/>
<line x1="1185" y1="811" x2="1185" y2="826" stroke="#333" stroke-width="1"/>
<path d="M1395.7,216 V224 Q1412,231.5 1427.8,224 V216" fill="#111" stroke="#111" stroke-width="1.6" stroke-linejoin="round" stroke-linecap="round"/>
<ellipse cx="1411.8" cy="216" rx="16" ry="5" fill="#fff" stroke="#111" stroke-width="1.7"/>
<ellipse cx="1411.8" cy="216" rx="12" ry="3.2" fill="none" stroke="#111" stroke-width="2.4"/>
<ellipse cx="1411.8" cy="216" rx="7" ry="1.8" fill="none" stroke="#111" stroke-width="1.2"/>
<line x1="1403" y1="223" x2="1403" y2="228" stroke="#fff" stroke-width="1.2"/>
<line x1="1408" y1="223" x2="1408" y2="228" stroke="#fff" stroke-width="1.2"/>
<line x1="1413" y1="223" x2="1413" y2="228" stroke="#fff" stroke-width="1.2"/>
<line x1="1418" y1="223" x2="1418" y2="228" stroke="#fff" stroke-width="1.2"/>
<path d="M1397.8,259 V267 Q1412,271.5 1425.7,267 V259" fill="#fff" stroke="#111" stroke-width="1.6" stroke-linejoin="round" stroke-linecap="round"/>
<ellipse cx="1411.8" cy="259" rx="14" ry="2.8" fill="#fff" stroke="#111" stroke-width="1.7"/>
<circle cx="1424.8" cy="264.5" r="2" fill="#111"/>
<path d="M1393.6,316.5 V322 Q1411,328.5 1429,322 V316.5" fill="#fff" stroke="#111" stroke-width="1.6" stroke-linejoin="round" stroke-linecap="round"/>
<ellipse cx="1411.3" cy="316.5" rx="17.7" ry="3.6" fill="#fff" stroke="#111" stroke-width="1.8"/>
<ellipse cx="1411.3" cy="316.8" rx="14" ry="2.2" fill="none" stroke="#111" stroke-width="1.2"/>
<rect x="1425.5" y="318" width="4" height="5.5" rx="0" fill="#fff" stroke="#111" stroke-width="1.2"/>
<path d="M1406.4 361.4 L1406.4 354.4 Q1411.8 351.8 1417.6 354.4 L1417.6 361.4 Z" fill="#fff" stroke="#111" stroke-width="1.7" stroke-linejoin="round" stroke-linecap="round"/>
<path d="M1404.1 361.4 L1420.1 361.4 L1420.1 369.7 L1404.1 369.7 Z" fill="#111" stroke="#111" stroke-width="1.2" stroke-linejoin="round" stroke-linecap="round"/>
<path d="M1393.8 368.5 Q1412.4 360.8 1431 368.5 L1431.3 383.8 Q1434.2 385.1 1433.6 388.3 Q1429.7 394.1 1412.4 395.4 Q1395.1 394.1 1390.9 388.3 Q1390.3 385.1 1393.6 383.8 Z" fill="#111" stroke="#111" stroke-width="1.8" stroke-linejoin="round" stroke-linecap="round"/>
<path d="M1401.5 374.2 L1424.6 374.2 L1424.6 390.3 L1401.5 390.3 Z" fill="#fff" stroke="#fff" stroke-width="0.5" stroke-linejoin="round" stroke-linecap="round"/>
<path d="M1402.2 373.6 L1402.2 390.9" fill="none" stroke="#111" stroke-width="1.8" stroke-linejoin="round" stroke-linecap="round"/>
<path d="M1406.7 373.6 L1406.7 390.9" fill="none" stroke="#111" stroke-width="1.8" stroke-linejoin="round" stroke-linecap="round"/>
<path d="M1411.2 373.6 L1411.2 390.9" fill="none" stroke="#111" stroke-width="1.8" stroke-linejoin="round" stroke-linecap="round"/>
<path d="M1415.6 373.6 L1415.6 390.9" fill="none" stroke="#111" stroke-width="1.8" stroke-linejoin="round" stroke-linecap="round"/>
<path d="M1420.1 373.6 L1420.1 390.9" fill="none" stroke="#111" stroke-width="1.8" stroke-linejoin="round" stroke-linecap="round"/>
<path d="M1424 373.6 L1424 390.9" fill="none" stroke="#111" stroke-width="1.8" stroke-linejoin="round" stroke-linecap="round"/>
<path d="M1396.4 369.1 Q1412.4 363.6 1428.5 369.1 Q1412.4 372.9 1396.4 369.1 Z" fill="#fff" stroke="#111" stroke-width="1" stroke-linejoin="round" stroke-linecap="round"/>
<path d="M1404.1 368.5 L1420.1 368.5 L1420.1 362.1 L1404.1 362.1 Z" fill="#111" stroke="#111" stroke-width="1" stroke-linejoin="round" stroke-linecap="round"/>
<path d="M1400.3 387.7 Q1412.4 390.9 1425.3 387.7" fill="none" stroke="#111" stroke-width="2.6" stroke-linejoin="round" stroke-linecap="round"/>
<path d="M1394.5 394.1 Q1387.4 401.8 1386.4 409.5 L1386.4 468.5 Q1389.4 477.4 1396.4 482.6 L1428.5 482.6 Q1435.5 477.4 1438.1 468.5 L1438.1 409.5 Q1436.8 401.8 1430.4 394.1 Z" fill="#fff" stroke="#111" stroke-width="1.9" stroke-linejoin="round" stroke-linecap="round"/>
<path d="M1386.4 412.1 Q1412.4 419.7 1438.1 412.1 M1386.4 465.9 Q1412.4 474.2 1438.1 465.9" fill="none" stroke="#111" stroke-width="2.2" stroke-linejoin="round" stroke-linecap="round"/>
<path d="M1388.1 413.3 Q1412.4 420.4 1436.8 413.3" fill="none" stroke="#111" stroke-width="1.1" stroke-linejoin="round" stroke-linecap="round"/>
<path d="M1391.9 413.3 L1392.6 469.1" fill="none" stroke="#111" stroke-width="5" stroke-linejoin="round" stroke-linecap="round"/>
<path d="M1428.5 413.3 L1429.1 469.1" fill="none" stroke="#111" stroke-width="2.8" stroke-linejoin="round" stroke-linecap="round"/>
<path d="M1436.4 413.3 L1437.1 469.1" fill="none" stroke="#111" stroke-width="2.6" stroke-linejoin="round" stroke-linecap="round"/>
<path d="M1387.7 413.3 L1388.3 469.1" fill="none" stroke="#111" stroke-width="2.6" stroke-linejoin="round" stroke-linecap="round"/>
<path d="M1403.5 417.2 L1403.5 471.7" fill="none" stroke="#111" stroke-width="2.4" stroke-linejoin="round" stroke-linecap="round"/>
<path d="M1405.8 417.4 L1405.8 471.4" fill="none" stroke="#111" stroke-width="1.1" stroke-linejoin="round" stroke-linecap="round"/>
<path d="M1416.3 417.2 L1416.3 471.7" fill="none" stroke="#111" stroke-width="2.4" stroke-linejoin="round" stroke-linecap="round"/>
<path d="M1418.6 417.4 L1418.6 471.4" fill="none" stroke="#111" stroke-width="1.1" stroke-linejoin="round" stroke-linecap="round"/>
<path d="M1395.1 414.6 L1395.4 470.4 M1431.7 414.6 L1431.7 469.1" fill="none" stroke="#111" stroke-width="1.3" stroke-linejoin="round" stroke-linecap="round"/>
<circle cx="1420.7" cy="443.5" r="2.6" fill="#111"/>
<path d="M1371.4 489 Q1373.3 482.6 1391.3 481.3 L1432.3 481.3 Q1451.5 483.2 1452.8 489.6 L1452.8 503.1 Q1445.1 512.1 1412.4 513.3 Q1378.5 512.1 1371.4 503.1 Z" fill="#fff" stroke="#111" stroke-width="1.9" stroke-linejoin="round" stroke-linecap="round"/>
<path d="M1371.4 489.6 Q1382.3 496.7 1412.4 496.7 Q1442.6 496.7 1452.8 489.6" fill="none" stroke="#111" stroke-width="2.2" stroke-linejoin="round" stroke-linecap="round"/>
<path d="M1377.2 488.3 Q1382.3 483.8 1396.4 483.2 M1428.5 483.2 Q1442.6 483.8 1447.1 488.3 M1377.2 488.3 Q1391.3 494.1 1412.4 494.4 Q1433.6 494.1 1447.1 488.3" fill="none" stroke="#111" stroke-width="1.6" stroke-linejoin="round" stroke-linecap="round"/>
<path d="M1374.2 492 L1374.2 505.6" fill="none" stroke="#111" stroke-width="2.6" stroke-linejoin="round" stroke-linecap="round"/>
<path d="M1378.4 493.5 L1378.4 507.7" fill="none" stroke="#111" stroke-width="2.6" stroke-linejoin="round" stroke-linecap="round"/>
<path d="M1382.7 494.5 L1382.7 509.1" fill="none" stroke="#111" stroke-width="2.6" stroke-linejoin="round" stroke-linecap="round"/>
<path d="M1386.9 495.3 L1386.9 510.3" fill="none" stroke="#111" stroke-width="2.6" stroke-linejoin="round" stroke-linecap="round"/>
<path d="M1391.2 495.9 L1391.2 511.1" fill="none" stroke="#111" stroke-width="2.6" stroke-linejoin="round" stroke-linecap="round"/>
<path d="M1395.4 496.4 L1395.4 511.9" fill="none" stroke="#111" stroke-width="2.6" stroke-linejoin="round" stroke-linecap="round"/>
<path d="M1399.7 496.8 L1399.7 512.4" fill="none" stroke="#111" stroke-width="2.6" stroke-linejoin="round" stroke-linecap="round"/>
<path d="M1403.9 497.1 L1403.9 512.8" fill="none" stroke="#111" stroke-width="2.6" stroke-linejoin="round" stroke-linecap="round"/>
<path d="M1408.2 497.3 L1408.2 513" fill="none" stroke="#111" stroke-width="2.6" stroke-linejoin="round" stroke-linecap="round"/>
<path d="M1412.4 497.3 L1412.4 513.1" fill="none" stroke="#111" stroke-width="2.6" stroke-linejoin="round" stroke-linecap="round"/>
<path d="M1416.7 497.3 L1416.7 513" fill="none" stroke="#111" stroke-width="2.6" stroke-linejoin="round" stroke-linecap="round"/>
<path d="M1420.9 497.1 L1420.9 512.8" fill="none" stroke="#111" stroke-width="2.6" stroke-linejoin="round" stroke-linecap="round"/>
<path d="M1425.2 496.8 L1425.2 512.4" fill="none" stroke="#111" stroke-width="2.6" stroke-linejoin="round" stroke-linecap="round"/>
<path d="M1429.4 496.4 L1429.4 511.9" fill="none" stroke="#111" stroke-width="2.6" stroke-linejoin="round" stroke-linecap="round"/>
<path d="M1433.7 495.9 L1433.7 511.1" fill="none" stroke="#111" stroke-width="2.6" stroke-linejoin="round" stroke-linecap="round"/>
<path d="M1437.9 495.3 L1437.9 510.3" fill="none" stroke="#111" stroke-width="2.6" stroke-linejoin="round" stroke-linecap="round"/>
<path d="M1442.2 494.5 L1442.2 509.1" fill="none" stroke="#111" stroke-width="2.6" stroke-linejoin="round" stroke-linecap="round"/>
<path d="M1446.4 493.5 L1446.4 507.7" fill="none" stroke="#111" stroke-width="2.6" stroke-linejoin="round" stroke-linecap="round"/>
<path d="M1450.7 492 L1450.7 505.6" fill="none" stroke="#111" stroke-width="2.6" stroke-linejoin="round" stroke-linecap="round"/>
<path d="M1371.4 502.4 Q1378.5 511.4 1412.4 513.1 Q1445.1 511.4 1452.8 502.4" fill="none" stroke="#111" stroke-width="2.4" stroke-linejoin="round" stroke-linecap="round"/>
<path d="M1378.5 487.9 L1381 491.8" fill="none" stroke="#111" stroke-width="1.5" stroke-linejoin="round" stroke-linecap="round"/>
<path d="M1445.8 487.9 L1443.2 491.8" fill="none" stroke="#111" stroke-width="1.5" stroke-linejoin="round" stroke-linecap="round"/>
<path d="M1381.3 487.3 L1384.1 491.5" fill="none" stroke="#111" stroke-width="1.5" stroke-linejoin="round" stroke-linecap="round"/>
<path d="M1442.9 487.3 L1440.1 491.5" fill="none" stroke="#111" stroke-width="1.5" stroke-linejoin="round" stroke-linecap="round"/>
<path d="M1384.1 486.7 L1387.2 491.3" fill="none" stroke="#111" stroke-width="1.5" stroke-linejoin="round" stroke-linecap="round"/>
<path d="M1440.1 486.7 L1437.1 491.3" fill="none" stroke="#111" stroke-width="1.5" stroke-linejoin="round" stroke-linecap="round"/>
<path d="M1386.9 486 L1390.3 491" fill="none" stroke="#111" stroke-width="1.5" stroke-linejoin="round" stroke-linecap="round"/>
<path d="M1437.3 486 L1434 491" fill="none" stroke="#111" stroke-width="1.5" stroke-linejoin="round" stroke-linecap="round"/>
<path d="M1389.7 485.4 L1393.3 490.8" fill="none" stroke="#111" stroke-width="1.5" stroke-linejoin="round" stroke-linecap="round"/>
<path d="M1434.5 485.4 L1430.9 490.8" fill="none" stroke="#111" stroke-width="1.5" stroke-linejoin="round" stroke-linecap="round"/>
<path d="M1392.6 484.7 L1396.4 490.5" fill="none" stroke="#111" stroke-width="1.5" stroke-linejoin="round" stroke-linecap="round"/>
<path d="M1431.7 484.7 L1427.8 490.5" fill="none" stroke="#111" stroke-width="1.5" stroke-linejoin="round" stroke-linecap="round"/>
<path d="M1395.4 484.1 L1399.5 490.3" fill="none" stroke="#111" stroke-width="1.5" stroke-linejoin="round" stroke-linecap="round"/>
<path d="M1428.8 484.1 L1424.7 490.3" fill="none" stroke="#111" stroke-width="1.5" stroke-linejoin="round" stroke-linecap="round"/>
<path d="M1397.7 482.6 Q1399 489 1401.5 490.9 L1423.3 490.9 Q1426.5 489 1427.8 482.6" fill="#fff" stroke="#111" stroke-width="1.6" stroke-linejoin="round" stroke-linecap="round"/>
<path d="M1402.8 491.8 L1402.8 495.4" fill="none" stroke="#111" stroke-width="2.2" stroke-linejoin="round" stroke-linecap="round"/>
<path d="M1406.7 491.8 L1406.7 495.4" fill="none" stroke="#111" stroke-width="2.2" stroke-linejoin="round" stroke-linecap="round"/>
<path d="M1410.5 491.8 L1410.5 495.4" fill="none" stroke="#111" stroke-width="2.2" stroke-linejoin="round" stroke-linecap="round"/>
<path d="M1414.4 491.8 L1414.4 495.4" fill="none" stroke="#111" stroke-width="2.2" stroke-linejoin="round" stroke-linecap="round"/>
<path d="M1418.2 491.8 L1418.2 495.4" fill="none" stroke="#111" stroke-width="2.2" stroke-linejoin="round" stroke-linecap="round"/>
<path d="M1422.1 491.8 L1422.1 495.4" fill="none" stroke="#111" stroke-width="2.2" stroke-linejoin="round" stroke-linecap="round"/>
<path d="M1401.5 509.5 L1401.5 554.4 Q1412.4 560.8 1422.7 554.4 L1422.7 509.5 Z" fill="#fff" stroke="#111" stroke-width="1.8" stroke-linejoin="round" stroke-linecap="round"/>
<path d="M1401.5 519.7 Q1412.4 524.9 1422.7 519.7 M1401.5 542.8 Q1412.4 547.9 1422.7 542.8" fill="none" stroke="#111" stroke-width="1.5" stroke-linejoin="round" stroke-linecap="round"/>
<path d="M1400.3 500.5 L1404.1 514.6 L1409.2 501.8 L1412.4 514.6 L1416.3 501.8 L1420.8 514.6 L1424.6 500.5" fill="none" stroke="#111" stroke-width="2.2" stroke-linejoin="round" stroke-linecap="round"/>
<ellipse cx="1415.8" cy="533" rx="2" ry="3.2" fill="none" stroke="#111" stroke-width="1.5" transform="rotate(15 1415.8 533)"/>
<ellipse cx="1412" cy="615.5" rx="17" ry="5" fill="#fff" stroke="#111" stroke-width="1.8"/>
<ellipse cx="1412" cy="615" rx="11.5" ry="2.8" fill="none" stroke="#111" stroke-width="1.5"/>
<path d="M1395,616.5 Q1412,624 1429,616.5" fill="none" stroke="#111" stroke-width="1.3" stroke-linejoin="round" stroke-linecap="round"/>
<circle cx="1422.8" cy="619.4" r="2" fill="#111"/>
<rect x="1418" y="647" width="1.3" height="1.3" rx="0" fill="#111" stroke="none" stroke-width="0"/>
<path d="M1399,679 L1404,674 L1418,673 L1424,677.5 V695 L1418.5,699.3 L1399,697 Z" fill="#fff" stroke="#111" stroke-width="1.8" stroke-linejoin="round" stroke-linecap="round"/>
<path d="M1399,679 L1418.5,681.5 L1424,677.5 M1418.5,681.5 V699.3" fill="none" stroke="#111" stroke-width="1.5" stroke-linejoin="round" stroke-linecap="round"/>
<path d="M1405,673.5 V677 H1416 V673" fill="none" stroke="#111" stroke-width="1.2" stroke-linejoin="round" stroke-linecap="round"/>
<circle cx="1418.8" cy="690" r="2.3" fill="#111"/>
<path d="M1380.4,732.6 H1388.4 L1386.6000000000001,734.8000000000001 H1382.2 Z" fill="#fff" stroke="#111" stroke-width="1.3" stroke-linejoin="round" stroke-linecap="round"/>
<rect x="1382.5" y="734.8" width="3.8" height="10.5" rx="0" fill="#fff" stroke="#111" stroke-width="1.4"/>
<path d="M1391.7,736 H1399.7 L1397.9,738.2 H1393.5 Z" fill="#fff" stroke="#111" stroke-width="1.3" stroke-linejoin="round" stroke-linecap="round"/>
<rect x="1393.8" y="738.2" width="3.8" height="10.5" rx="0" fill="#fff" stroke="#111" stroke-width="1.4"/>
<path d="M1421.7,729.7 H1429.7 L1427.9,731.9000000000001 H1423.5 Z" fill="#fff" stroke="#111" stroke-width="1.3" stroke-linejoin="round" stroke-linecap="round"/>
<rect x="1423.8" y="731.9" width="3.8" height="10.5" rx="0" fill="#fff" stroke="#111" stroke-width="1.4"/>
<path d="M1433.4,733.5 H1441.4 L1439.6000000000001,735.7 H1435.2 Z" fill="#fff" stroke="#111" stroke-width="1.3" stroke-linejoin="round" stroke-linecap="round"/>
<rect x="1435.5" y="735.7" width="3.8" height="10.5" rx="0" fill="#fff" stroke="#111" stroke-width="1.4"/>
<rect x="1436" y="739" width="2.8" height="7" rx="0" fill="#111" stroke="#111" stroke-width="0.8"/>
<ellipse cx="1411.2" cy="784.5" rx="31.2" ry="6.2" fill="#fff" stroke="#111" stroke-width="1.8"/>
<path d="M1380.5,786 Q1411,797 1442,786" fill="none" stroke="#111" stroke-width="1.3" stroke-linejoin="round" stroke-linecap="round"/>
<ellipse cx="1411.5" cy="785" rx="17" ry="3.4" fill="none" stroke="#111" stroke-width="1.6"/>
<ellipse cx="1411.5" cy="785.8" rx="13" ry="2.2" fill="none" stroke="#111" stroke-width="1.2"/>
<ellipse cx="1390" cy="784.5" rx="2" ry="0.8" fill="none" stroke="#111" stroke-width="1"/>
<ellipse cx="1433" cy="784.5" rx="2" ry="0.8" fill="none" stroke="#111" stroke-width="1"/>
<path d="M1392.5,854 V862 Q1411,870.5 1429.5,862 V854" fill="#fff" stroke="#111" stroke-width="1.8" stroke-linejoin="round" stroke-linecap="round"/>
<ellipse cx="1411" cy="854" rx="18.5" ry="4.2" fill="#fff" stroke="#111" stroke-width="1.8"/>
<ellipse cx="1411" cy="854.2" rx="13.5" ry="2.4" fill="none" stroke="#111" stroke-width="1.3"/>
<ellipse cx="1353.5" cy="926.3" rx="12" ry="3.4" fill="#fff" stroke="#111" stroke-width="1.6"/>
<ellipse cx="1353.5" cy="926.3" rx="7.5" ry="1.7" fill="none" stroke="#111" stroke-width="1.3"/>
<path d="M1342,928 Q1354,933 1365,928" fill="none" stroke="#111" stroke-width="1.2" stroke-linejoin="round" stroke-linecap="round"/>
<ellipse cx="1457.4" cy="907.4" rx="12" ry="3.4" fill="#fff" stroke="#111" stroke-width="1.6"/>
<ellipse cx="1457.4" cy="907.4" rx="7.5" ry="1.7" fill="none" stroke="#111" stroke-width="1.3"/>
<path d="M1446,909 Q1458,914 1469,909" fill="none" stroke="#111" stroke-width="1.2" stroke-linejoin="round" stroke-linecap="round"/>
<rect x="1358" y="963" width="14.5" height="14.5" rx="0" fill="#111" stroke="#111" stroke-width="1.4"/>
<path d="M1361.5,966 H1367 V974 H1361.5 Q1365,970 1361.5,966" fill="#fff" stroke="#fff" stroke-width="0.5" stroke-linejoin="round" stroke-linecap="round"/>
<path d="M1649.5,588.5 Q1651.7,584.5 1653.9,588.5 L1656.7,608 H1652.3 Z" fill="#fff" stroke="#111" stroke-width="1.6" stroke-linejoin="round" stroke-linecap="round"/>
<path d="M1667.7,587.5 Q1669.9,583.5 1672.1000000000001,587.5 L1675.0,607 H1670.6 Z" fill="#fff" stroke="#111" stroke-width="1.6" stroke-linejoin="round" stroke-linecap="round"/>
<path d="M1643.6,607.5 Q1662,603 1680.8,602.7 L1681.7,610 L1678,614.5 L1674.4,638 L1675,641 L1658.5,644 L1658,641.5 L1654.5,632.7 L1649,616.3 L1644.5,614.5 Z" fill="#fff" stroke="#111" stroke-width="1.9" stroke-linejoin="round" stroke-linecap="round"/>
<path d="M1644.5,614.5 Q1662,610 1681.7,610 M1649,616.3 L1659,615 L1678,614.5 M1659,615 L1663,640" fill="none" stroke="#111" stroke-width="1.5" stroke-linejoin="round" stroke-linecap="round"/>
<path d="M1661.5,619.5 L1673.8,618.5 L1672.5,631.5 L1664.5,632 Z" fill="#111" stroke="#111" stroke-width="1.2" stroke-linejoin="round" stroke-linecap="round"/>
<path d="M1668,606 Q1672,610 1668,614" fill="none" stroke="#111" stroke-width="1.4" stroke-linejoin="round" stroke-linecap="round"/>
<rect x="1644.5" y="608.5" width="4" height="5" rx="0" fill="none" stroke="#111" stroke-width="1.2"/>
<path d="M1660.8,644 L1662.6,659 L1675.3,657.2 L1673.5,642" fill="#fff" stroke="#111" stroke-width="1.6" stroke-linejoin="round" stroke-linecap="round"/>
<line x1="1661.5" y1="646" x2="1674" y2="644.8" stroke="#111" stroke-width="1.3"/>
<line x1="1661.8" y1="648.6" x2="1674.3" y2="647.4" stroke="#111" stroke-width="1.3"/>
<line x1="1662.1" y1="651.2" x2="1674.6" y2="650" stroke="#111" stroke-width="1.3"/>
<line x1="1662.4" y1="653.8" x2="1674.9" y2="652.6" stroke="#111" stroke-width="1.3"/>
<line x1="1662.7" y1="656.4" x2="1675.2" y2="655.2" stroke="#111" stroke-width="1.3"/>
<path d="M1664.5,659 L1670.8,723.5 M1673.5,658 L1679.9,722.6" fill="none" stroke="#111" stroke-width="1.7" stroke-linejoin="round" stroke-linecap="round"/>
<path d="M1669.3,723.5 L1683.5,722.3 L1683.8,725.5 L1669.6,726.8 Z" fill="#fff" stroke="#111" stroke-width="1.4" stroke-linejoin="round" stroke-linecap="round"/>
<path d="M1671.2,727 L1678,814.3 L1695.3,813.4 L1682.6,726.2" fill="#fff" stroke="#111" stroke-width="1.7" stroke-linejoin="round" stroke-linecap="round"/>
<path d="M1677.3,805.5 L1694,804.3" fill="none" stroke="#111" stroke-width="1.4" stroke-linejoin="round" stroke-linecap="round"/>
<path d="M1676.3,815 L1698,813.5 L1698.4,820 L1676.8,821.8 Z" fill="#fff" stroke="#111" stroke-width="1.8" stroke-linejoin="round" stroke-linecap="round"/>
<path d="M1683.5,821.6 L1685.3,836 L1692.6,835.2 L1691,821" fill="#fff" stroke="#111" stroke-width="1.6" stroke-linejoin="round" stroke-linecap="round"/>
<path d="M1712,820 Q1716,816 1723,817 L1724.5,826 L1713,828.5 Z" fill="#111" stroke="#111" stroke-width="1.4" stroke-linejoin="round" stroke-linecap="round"/>
<line x1="1716" y1="820" x2="1721" y2="819.5" stroke="#fff" stroke-width="1"/>
<line x1="1716" y1="823.5" x2="1721" y2="823" stroke="#fff" stroke-width="1"/>
<line x1="1724" y1="821" x2="1733" y2="821" stroke="#333" stroke-width="1"/>
<path d="M1733,819 H1748 M1733,823.2 H1748 M1733,819 Q1731,821 1733,823.2" fill="none" stroke="#111" stroke-width="1.4" stroke-linejoin="round" stroke-linecap="round"/>
<ellipse cx="1749" cy="821" rx="2.2" ry="4.2" fill="#111" stroke="#111" stroke-width="1.3"/>
<path d="M1757.5,816 L1773,815 M1757.5,820 L1773,819.3 M1757.5,816 Q1755.5,818 1757.5,820" fill="none" stroke="#111" stroke-width="1.4" stroke-linejoin="round" stroke-linecap="round"/>
<ellipse cx="1774.5" cy="817.2" rx="2.4" ry="4.4" fill="#111" stroke="#111" stroke-width="1.3"/>
<path d="M768.8 983.1 L793.8 978.1 L796.2 980 L812.5 990 L818.8 1001.2 L830 1031.2 L838.8 1072.5 L842.5 1090.6 L835 1103.8 L813.1 1110 L800 1107.5 L796.2 1102.5 L800 1093.8 L795 1080 L790 1057.5 L785 1047.5 L766.2 994.4 Z" fill="#fff" stroke="#111" stroke-width="2" stroke-linejoin="round" stroke-linecap="round"/>
<path d="M768.8 983.1 L793.8 978.1" fill="none" stroke="#111" stroke-width="3" stroke-linejoin="round" stroke-linecap="round"/>
<path d="M766.2 994.4 L796.2 988.1 L793.8 978.8 M796.2 988.1 L812.5 990.6 M775 993.8 L790 993.1" fill="none" stroke="#111" stroke-width="1.5" stroke-linejoin="round" stroke-linecap="round"/>
<path d="M813.1 991.9 L786.2 996.2 L780 1003.8 L778.8 1011.2 L790 1038.8 L800 1047.5 L810 1075 L823.8 1083.8 L841.2 1080" fill="none" stroke="#111" stroke-width="2.0" stroke-linejoin="round" stroke-linecap="round"/>
<path d="M813.5 992.9 L787.4 997.2 L781.1 1004.5 L779.9 1011.8 L791.1 1038.8 L801.1 1047.5 L811.1 1074.7 L824.3 1082.8 L841.2 1079" fill="none" stroke="#111" stroke-width="1.5" stroke-linejoin="round" stroke-linecap="round"/>
<path d="M813.8 993.9 L788.5 998.2 L782.2 1005.4 L781 1012.2 L792.2 1038.8 L802.2 1047.5 L812.2 1074.4 L824.9 1081.8 L841.2 1078" fill="none" stroke="#111" stroke-width="1.5" stroke-linejoin="round" stroke-linecap="round"/>
<path d="M814.1 994.9 L789.6 999.2 L783.4 1006.1 L782.1 1012.8 L793.4 1038.8 L803.4 1047.5 L813.4 1074.1 L825.4 1080.8 L841.2 1077" fill="none" stroke="#111" stroke-width="2.0" stroke-linejoin="round" stroke-linecap="round"/>
<path d="M790 1011.2 L816.2 1003.8 L828.8 1031.2 L802.5 1036.2 L795 1030 Z" fill="#fff" stroke="#111" stroke-width="2.2" stroke-linejoin="round" stroke-linecap="round"/>
<path d="M802.5 1036.2 L830 1031" fill="none" stroke="#111" stroke-width="3" stroke-linejoin="round" stroke-linecap="round"/>
<path d="M786.2 1048.8 L790.6 1047.5 L795 1055 L805 1085 L802.5 1092.5 L798.8 1090 L795 1080 L790 1057.5 Z" fill="#111" stroke="#111" stroke-width="1.4" stroke-linejoin="round" stroke-linecap="round"/>
<path d="M805 1051.2 L810 1051.9 L820 1074.4 L818.8 1076.2 L810 1073.1 Z" fill="#111" stroke="#111" stroke-width="1.4" stroke-linejoin="round" stroke-linecap="round"/>
<path d="M800 1105 L838.8 1091.2 M800 1093.8 Q803.1 1097.5 796.9 1101.9" fill="none" stroke="#111" stroke-width="1.6" stroke-linejoin="round" stroke-linecap="round"/>
<path d="M793.8 1087.5 L812.5 1086.9" fill="none" stroke="#111" stroke-width="1.2" stroke-linejoin="round" stroke-linecap="round"/>
<g transform="rotate(-4 731 997)">
<ellipse cx="731" cy="997" rx="2.6" ry="4.8" fill="#fff" stroke="#111" stroke-width="1.5"/>
<line x1="730.5" y1="993.2" x2="730.5" y2="1000.8" stroke="#111" stroke-width="1.2"/>
<path d="M733,994.5 H742 L745,997 L742,999.5 H733" fill="#fff" stroke="#111" stroke-width="1.4" stroke-linejoin="round" stroke-linecap="round"/>
</g>
<g transform="rotate(-4 760 1040.6)">
<ellipse cx="760" cy="1040.6" rx="2.6" ry="4.8" fill="#111" stroke="#111" stroke-width="1.5"/>
<path d="M762,1038.1 H771 L774,1040.6 L771,1043.1 H762" fill="#fff" stroke="#111" stroke-width="1.4" stroke-linejoin="round" stroke-linecap="round"/>
</g>
<g transform="rotate(-4 758.7 1090.6)">
<ellipse cx="758.7" cy="1090.6" rx="2.6" ry="4.8" fill="#fff" stroke="#111" stroke-width="1.5"/>
<line x1="758.2" y1="1086.8" x2="758.2" y2="1094.3" stroke="#111" stroke-width="1.2"/>
<path d="M760.7,1088.1 H769.7 L772.7,1090.6 L769.7,1093.1 H760.7" fill="#fff" stroke="#111" stroke-width="1.4" stroke-linejoin="round" stroke-linecap="round"/>
</g>
<g transform="rotate(-4 912.5 1012.7)">
<ellipse cx="912.5" cy="1012.7" rx="2.6" ry="3" fill="#111" stroke="#111" stroke-width="1.5"/>
<path d="M914.5,1011 H918.5 L921.5,1012.7 L918.5,1014.4 H914.5" fill="#fff" stroke="#111" stroke-width="1.4" stroke-linejoin="round" stroke-linecap="round"/>
</g>
<g transform="rotate(-4 914.4 1033.5)">
<ellipse cx="914.4" cy="1033.5" rx="2.6" ry="3" fill="#111" stroke="#111" stroke-width="1.5"/>
<path d="M916.4,1031.8 H920.4 L923.4,1033.5 L920.4,1035.2 H916.4" fill="#fff" stroke="#111" stroke-width="1.4" stroke-linejoin="round" stroke-linecap="round"/>
</g>
<path d="M947.5,1006.9 L963.7,997.5 L970,1015 L967.5,1027.5 L972.5,1031 L961.2,1035.6 L952.5,1030 Z" fill="#fff" stroke="#111" stroke-width="1.8" stroke-linejoin="round" stroke-linecap="round"/>
<path d="M952.5,1026 L960,1071 L969.4,1066.9 L960,1026 Z" fill="#111" stroke="#111" stroke-width="1.4" stroke-linejoin="round" stroke-linecap="round"/>
<line x1="957" y1="1030" x2="965" y2="1068" stroke="#fff" stroke-width="0.8"/>
<rect x="948.7" y="1018.7" width="7.3" height="6.5" rx="0" fill="#fff" stroke="#111" stroke-width="1.5" transform="rotate(-15 952.4 1022)"/>
<path d="M949,976 L957,976.5 Q965,985 962.5,1000 L953,1006" fill="#fff" stroke="#111" stroke-width="1.6" stroke-linejoin="round" stroke-linecap="round"/>
<rect x="956.5" y="981" width="3" height="4" rx="0" fill="#111" stroke="#111" stroke-width="1"/>
<rect x="958.5" y="990" width="3" height="4" rx="0" fill="#111" stroke="#111" stroke-width="1"/>
<ellipse cx="949.4" cy="991.2" rx="10.6" ry="15" fill="#fff" stroke="#111" stroke-width="3.4"/>
<ellipse cx="946.5" cy="991.5" rx="2.8" ry="4" fill="#111" stroke="#111" stroke-width="1.3"/>
<circle cx="963" cy="1028.5" r="2.8" fill="#111"/>
<circle cx="957.5" cy="1009" r="1.6" fill="#111"/>
<ellipse cx="969" cy="1015" rx="1.5" ry="3" fill="#111" stroke="#111" stroke-width="1.2"/>
<g transform="rotate(-5 996.2 1056)">
<ellipse cx="996.2" cy="1056" rx="2.6" ry="4" fill="#111" stroke="#111" stroke-width="1.5"/>
<path d="M998.2,1053.8 H1007.2 L1010.2,1056 L1007.2,1058.2 H998.2" fill="#fff" stroke="#111" stroke-width="1.4" stroke-linejoin="round" stroke-linecap="round"/>
</g>
<ellipse cx="1057.5" cy="1048.7" rx="6.5" ry="17.5" fill="#fff" stroke="#111" stroke-width="1.7" transform="rotate(-6 1057.5 1048.7)"/>
<path d="M1062,1035.5 L1066,1036.5 L1066.5,1041 L1062.5,1042" fill="#fff" stroke="#111" stroke-width="1.5" stroke-linejoin="round" stroke-linecap="round"/>
<path d="M1064,1056 L1069,1056.5 L1069.4,1061 L1065,1062" fill="#fff" stroke="#111" stroke-width="1.5" stroke-linejoin="round" stroke-linecap="round"/>
<path d="M1056,1046 Q1060,1042 1063,1046 L1065,1050 L1065,1058" fill="none" stroke="#111" stroke-width="1.6" stroke-linejoin="round" stroke-linecap="round"/>
<circle cx="1059" cy="1060" r="2.6" fill="#111"/>
<circle cx="1055" cy="1051" r="1.6" fill="#111"/>
<g transform="rotate(-4 1101 1035)">
<ellipse cx="1101" cy="1035" rx="2.6" ry="5" fill="#fff" stroke="#111" stroke-width="1.5"/>
<line x1="1100.5" y1="1031" x2="1100.5" y2="1039" stroke="#111" stroke-width="1.2"/>
<path d="M1103,1032.3 H1116 L1119,1035 L1116,1037.7 H1103" fill="#fff" stroke="#111" stroke-width="1.4" stroke-linejoin="round" stroke-linecap="round"/>
</g>
<g transform="rotate(-5 1105.6 1056)">
<ellipse cx="1105.6" cy="1056" rx="2.6" ry="4.8" fill="#fff" stroke="#111" stroke-width="1.5"/>
<line x1="1105.1" y1="1052.2" x2="1105.1" y2="1059.8" stroke="#111" stroke-width="1.2"/>
<path d="M1107.6,1053.4 H1119.6 L1122.6,1056 L1119.6,1058.6 H1107.6" fill="#fff" stroke="#111" stroke-width="1.4" stroke-linejoin="round" stroke-linecap="round"/>
</g>
<ellipse cx="1035.5" cy="927" rx="4" ry="4.5" fill="#111" stroke="#111" stroke-width="1.3"/>
<rect x="1037" y="924.5" width="4" height="4.5" rx="1" fill="#fff" stroke="#111" stroke-width="1.2"/>
<path d="M1090.9,929 L1094,926 L1110.7,929.5 L1118,939 L1127,942 Q1139,943 1139.5,953 Q1139,962 1127,964.5 L1097.5,959.3 L1095.8,942.8 Z" fill="#fff" stroke="#111" stroke-width="1.9" stroke-linejoin="round" stroke-linecap="round"/>
<path d="M1094,930 L1108,933 L1114,942 L1122,946" fill="none" stroke="#111" stroke-width="1.5" stroke-linejoin="round" stroke-linecap="round"/>
<path d="M1098,947 L1124,950 L1124,956 L1099,953" fill="none" stroke="#111" stroke-width="1.5" stroke-linejoin="round" stroke-linecap="round"/>
<ellipse cx="1130" cy="953.5" rx="6.5" ry="8.5" fill="#fff" stroke="#111" stroke-width="2"/>
<ellipse cx="1130.5" cy="953.5" rx="3.5" ry="5" fill="#111" stroke="#111" stroke-width="1.6"/>
<line x1="1110" y1="951" x2="1124" y2="953" stroke="#111" stroke-width="2.6"/>
<path d="M1158,960 L1172,965 Q1176,966.5 1175,970 Q1173.5,972.5 1170,971.5 L1156.5,967 Q1153.5,963.5 1158,960 Z" fill="#fff" stroke="#111" stroke-width="1.7" stroke-linejoin="round" stroke-linecap="round"/>
<ellipse cx="1159.5" cy="964" rx="3" ry="3.6" fill="#111" stroke="#111" stroke-width="1.2"/>
<line x1="1165" y1="962.5" x2="1164" y2="969.5" stroke="#111" stroke-width="1.2"/>
<ellipse cx="1268" cy="994" rx="4.6" ry="4.6" fill="#fff" stroke="#111" stroke-width="1.8"/>
<path d="M1270,998 L1293,1005.5 M1271.5,996 L1293.5,1003.5" fill="none" stroke="#111" stroke-width="1.5" stroke-linejoin="round" stroke-linecap="round"/>
<path d="M1251.2 1016.9 C1267.5 1013.8 1277.5 1027.5 1276.2 1040 C1275.6 1052.5 1268.8 1060 1260 1060.6 Z" fill="#fff" stroke="#111" stroke-width="1.8" stroke-linejoin="round" stroke-linecap="round"/>
<path d="M1256.2 1020 C1268.8 1022.5 1273.8 1035 1270 1052.5 L1263.1 1059.4" fill="none" stroke="#111" stroke-width="1.4" stroke-linejoin="round" stroke-linecap="round"/>
<path d="M1186.9 965 L1220 958.8 L1228.8 968.8 L1240 990 L1250 1012.5 L1257.5 1037.5 L1261.2 1052.5 L1260 1073.8 L1250 1085 L1230 1091.9 L1215 1087.5 L1220 1075 L1215 1046.2 L1207.5 1030 L1185.6 975.6 Z" fill="#fff" stroke="#111" stroke-width="2.4" stroke-linejoin="round" stroke-linecap="round"/>
<path d="M1190 968.1 L1218.1 962.5 L1225.6 971.2 L1236.9 991.2 L1246.9 1013.8 L1254 1038.1 L1257.5 1052.5 L1256.5 1071.9 L1248.1 1081.9 L1230 1088.1 L1219.4 1085 L1223.8 1074.4 L1218.8 1045 L1211.2 1028.8 L1189.4 976.2 Z" fill="none" stroke="#111" stroke-width="1.3" stroke-linejoin="round" stroke-linecap="round"/>
<path d="M1189.4 976.2 L1206.2 971.2 L1213.1 962.5 M1198.1 975.6 L1202.8 977" fill="none" stroke="#111" stroke-width="1.4" stroke-linejoin="round" stroke-linecap="round"/>
<path d="M1222.5 965 L1235 990 L1245 1012.5 L1252.5 1037.5 L1256.2 1052.5 L1256.2 1065" fill="none" stroke="#111" stroke-width="1.3" stroke-linejoin="round" stroke-linecap="round"/>
<path d="M1223.8 969.4 L1226.9 973.8 M1226.5 974.5 L1230 979 M1229.6 979.8 L1232.8 984 M1232.8 984.8 L1235.9 988.5" fill="none" stroke="#111" stroke-width="3" stroke-linejoin="round" stroke-linecap="round"/>
<path d="M1244.4 1013.8 L1250 1011.9" fill="none" stroke="#111" stroke-width="2.4" stroke-linejoin="round" stroke-linecap="round"/>
<path d="M1207.5 1030 L1227.5 1026.2 L1229 1022.5 L1238.1 1026.2 M1215 1046.2 L1237.5 1046.2 M1227.5 1026.2 C1225 1040 1232.5 1058.8 1245 1066.2 M1220 1075 L1241.2 1068.8" fill="none" stroke="#111" stroke-width="1.6" stroke-linejoin="round" stroke-linecap="round"/>
<path d="M1245 1027.5 C1234.4 1031.2 1234.4 1052.5 1248.8 1053.1 M1250 1027.5 C1245 1027.5 1240 1032.5 1238.1 1038.8" fill="none" stroke="#111" stroke-width="1.6" stroke-linejoin="round" stroke-linecap="round"/>
<path d="M1241.9 1060 C1243.8 1055.6 1250 1054.4 1251.9 1057.5" fill="none" stroke="#111" stroke-width="1.4" stroke-linejoin="round" stroke-linecap="round"/>
<ellipse cx="1224.4" cy="996.2" rx="4.8" ry="3.2" fill="#fff" stroke="#111" stroke-width="1.6" transform="rotate(-15 1224.4 996.2)"/>
<ellipse cx="1222.6" cy="996.5" rx="2.2" ry="2.4" fill="#111" stroke="#111" stroke-width="1"/>
<ellipse cx="1232.5" cy="1015.6" rx="4.8" ry="3.2" fill="#fff" stroke="#111" stroke-width="1.6" transform="rotate(-15 1232.5 1015.6)"/>
<ellipse cx="1230.7" cy="1015.9" rx="2.2" ry="2.4" fill="#111" stroke="#111" stroke-width="1"/>
<path d="M1256.2 1060.6 L1259.4 1060 L1259.8 1066.2 L1256.9 1066.9 Z" fill="#111" stroke="#111" stroke-width="1" stroke-linejoin="round" stroke-linecap="round"/>
<g transform="rotate(-48 1278 1067.5)">
<ellipse cx="1278" cy="1067.5" rx="16.5" ry="7.5" fill="#fff" stroke="#111" stroke-width="2.4"/>
<ellipse cx="1277" cy="1068.5" rx="12.5" ry="3" fill="none" stroke="#111" stroke-width="2.4"/>
<ellipse cx="1284" cy="1069.5" rx="2.5" ry="2.2" fill="#111" stroke="#111" stroke-width="1"/>
</g>
<ellipse cx="1307.5" cy="1054.4" rx="3.6" ry="3.6" fill="#fff" stroke="#111" stroke-width="1.8"/>
<path d="M1338.8 1015 L1352.5 1003.8 L1357.5 1003.8 L1357.5 998.8 L1362.5 998.8 L1363.1 1006.2 L1399.4 1003.1 L1399.4 991.9 L1413.1 991.9 L1413.8 996.2 L1422.5 992.5 C1435 988.8 1460 988.8 1475 990.6 C1487.5 997.5 1491.2 1012.5 1485 1027.5 L1477.5 1033.8 L1476.2 1037.5 L1466.2 1045 L1466.2 1062.5 L1446.2 1063.8 L1446.2 1052.5 L1440 1053.8 L1440 1070 L1433.8 1076.2 L1430 1073.8 L1420 1072.5 L1420 1076.2 Q1397.5 1080 1377.5 1075 L1375 1080 Q1361.2 1083.8 1347.5 1081.2 L1347.5 1060 L1335 1055 L1325 1040 Z" fill="#fff" stroke="#111" stroke-width="1.7" stroke-linejoin="round" stroke-linecap="round"/>
<path d="M1422.5 992.5 C1435 988.8 1460 988.8 1475 990.6 C1487.5 997.5 1491.2 1012.5 1485 1027.5 L1477.5 1033.8" fill="none" stroke="#111" stroke-width="2.2" stroke-linejoin="round" stroke-linecap="round"/>
<path d="M1413.8 996.2 C1428.8 992.5 1453.8 991.9 1472.5 995.6 L1476.2 1035 M1475 990.6 L1466.2 997.5 L1467.5 1037.5 M1413.8 1018.8 C1428.8 1016.2 1447.5 1015 1463.8 1018.8 M1413.8 996.2 L1413.8 1022.5" fill="none" stroke="#111" stroke-width="1.5" stroke-linejoin="round" stroke-linecap="round"/>
<path d="M1447.5 998.8 L1447.5 1020 M1456.9 997.5 L1456.9 1018.8" fill="none" stroke="#111" stroke-width="2.6" stroke-linejoin="round" stroke-linecap="round"/>
<path d="M1451.2 1001.2 L1451.9 1018.8 M1463.1 997.5 L1463.8 1020 M1453.8 1000 L1454 1018.8" fill="none" stroke="#111" stroke-width="1.4" stroke-linejoin="round" stroke-linecap="round"/>
<path d="M1399.4 991.9 L1413.1 991.9 L1413.1 1022.5 L1399.4 1021.2 Z" fill="#fff" stroke="#111" stroke-width="1.9" stroke-linejoin="round" stroke-linecap="round"/>
<path d="M1402.5 993.1 L1402.5 1002.5 L1411.9 1002.5 M1408.8 1002.5 L1408.8 1022.5" fill="none" stroke="#111" stroke-width="1.5" stroke-linejoin="round" stroke-linecap="round"/>
<path d="M1411.9 992.8 L1411.9 1021.9" fill="none" stroke="#111" stroke-width="3" stroke-linejoin="round" stroke-linecap="round"/>
<path d="M1357.5 1005.6 C1372.5 1012.5 1387.5 1010 1397.5 1005" fill="none" stroke="#111" stroke-width="2.4" stroke-linejoin="round" stroke-linecap="round"/>
<path d="M1352.5 1003.8 L1357.5 1003.8 L1357.5 1010 M1361.9 1016.2 C1375 1020 1387.5 1018.8 1396.2 1015" fill="none" stroke="#111" stroke-width="1.6" stroke-linejoin="round" stroke-linecap="round"/>
<path d="M1361.9 1016.2 L1365 1040 C1375 1042.5 1387.5 1041.2 1396.2 1038.8 L1396.2 1015" fill="#fff" stroke="#111" stroke-width="1.7" stroke-linejoin="round" stroke-linecap="round"/>
<path d="M1370.6 1017.8 L1372.2 1040.6 M1378.1 1018.5 L1379.4 1041.2 M1385.6 1018.2 L1386.5 1041" fill="none" stroke="#111" stroke-width="1.5" stroke-linejoin="round" stroke-linecap="round"/>
<ellipse cx="1381.9" cy="1035" rx="2.4" ry="2.4" fill="none" stroke="#111" stroke-width="1.5"/>
<path d="M1360 999 L1361.2 1001.9" fill="none" stroke="#111" stroke-width="3" stroke-linejoin="round" stroke-linecap="round"/>
<path d="M1397.5 1021.2 L1408.8 1030 L1410 1056.2 M1396.2 1038.8 L1405 1055 M1386.2 1040.6 L1391.2 1056.9" fill="none" stroke="#111" stroke-width="1.6" stroke-linejoin="round" stroke-linecap="round"/>
<path d="M1413.8 1033.8 C1428.8 1031.2 1447.5 1027.5 1463.8 1020 L1466.2 1045 C1453.8 1050 1428.8 1055 1410 1056.2 Z" fill="#fff" stroke="#111" stroke-width="1.8" stroke-linejoin="round" stroke-linecap="round"/>
<path d="M1416.2 1036.2 C1428.8 1034 1447.5 1030.2 1461.9 1023.5" fill="none" stroke="#111" stroke-width="1.2" stroke-linejoin="round" stroke-linecap="round"/>
<path d="M1416.2 1036.5 L1416.8 1055" fill="none" stroke="#111" stroke-width="1.6" stroke-linejoin="round" stroke-linecap="round"/>
<path d="M1419.5 1035.6 L1420 1054.3" fill="none" stroke="#111" stroke-width="1.6" stroke-linejoin="round" stroke-linecap="round"/>
<path d="M1422.8 1034.6 L1423.2 1053.7" fill="none" stroke="#111" stroke-width="1.6" stroke-linejoin="round" stroke-linecap="round"/>
<path d="M1426 1033.7 L1426.5 1053" fill="none" stroke="#111" stroke-width="1.6" stroke-linejoin="round" stroke-linecap="round"/>
<path d="M1429.2 1032.8 L1429.8 1052.4" fill="none" stroke="#111" stroke-width="1.6" stroke-linejoin="round" stroke-linecap="round"/>
<path d="M1432.5 1031.8 L1433 1051.8" fill="none" stroke="#111" stroke-width="1.6" stroke-linejoin="round" stroke-linecap="round"/>
<path d="M1435.8 1030.9 L1436.2 1051.1" fill="none" stroke="#111" stroke-width="1.6" stroke-linejoin="round" stroke-linecap="round"/>
<path d="M1439 1029.9 L1439.5 1050.5" fill="none" stroke="#111" stroke-width="1.6" stroke-linejoin="round" stroke-linecap="round"/>
<path d="M1442.2 1029 L1442.8 1049.8" fill="none" stroke="#111" stroke-width="1.6" stroke-linejoin="round" stroke-linecap="round"/>
<path d="M1445.5 1028.1 L1446 1049.2" fill="none" stroke="#111" stroke-width="1.6" stroke-linejoin="round" stroke-linecap="round"/>
<path d="M1448.8 1027.1 L1449.2 1048.5" fill="none" stroke="#111" stroke-width="1.6" stroke-linejoin="round" stroke-linecap="round"/>
<path d="M1452 1026.2 L1452.5 1047.8" fill="none" stroke="#111" stroke-width="1.6" stroke-linejoin="round" stroke-linecap="round"/>
<path d="M1455.2 1025.2 L1455.8 1047.2" fill="none" stroke="#111" stroke-width="1.6" stroke-linejoin="round" stroke-linecap="round"/>
<path d="M1458.5 1024.3 L1459 1046.5" fill="none" stroke="#111" stroke-width="1.6" stroke-linejoin="round" stroke-linecap="round"/>
<path d="M1461.8 1023.4 L1462.2 1045.9" fill="none" stroke="#111" stroke-width="1.6" stroke-linejoin="round" stroke-linecap="round"/>
<path d="M1466.2 1045 L1476.2 1037.5 M1463.8 1020 L1467.5 1017.5" fill="none" stroke="#111" stroke-width="1.5" stroke-linejoin="round" stroke-linecap="round"/>
<path d="M1335 1055 L1346.2 1060 L1376.2 1058.8 L1410 1056.2" fill="none" stroke="#111" stroke-width="1.7" stroke-linejoin="round" stroke-linecap="round"/>
<path d="M1347.5 1060 L1347.5 1081.2 Q1361.2 1083.8 1375 1080 L1375 1060 M1376.2 1058.8 L1377.5 1075 Q1397.5 1080 1420 1076.2 L1420 1057.5 M1377.5 1071.2 Q1397.5 1076.2 1420 1072.5" fill="none" stroke="#111" stroke-width="1.7" stroke-linejoin="round" stroke-linecap="round"/>
<path d="M1420 1072.5 L1430 1073.8 L1427.5 1056.2 M1432.5 1066.2 C1435 1063.8 1441.2 1066.2 1440 1070 L1433.8 1076.2 Z" fill="none" stroke="#111" stroke-width="1.5" stroke-linejoin="round" stroke-linecap="round"/>
<path d="M1446.2 1052.5 L1446.2 1063.8 L1466.2 1062.5 M1451.2 1051.9 L1451.2 1063.1 M1440 1053.8 L1440 1067.5" fill="none" stroke="#111" stroke-width="1.6" stroke-linejoin="round" stroke-linecap="round"/>
<ellipse cx="1346.5" cy="1037" rx="16.5" ry="22.5" fill="#fff" stroke="#111" stroke-width="1.6" transform="rotate(-12 1346.5 1037)"/>
<ellipse cx="1341.2" cy="1037.5" rx="16.5" ry="22.5" fill="#fff" stroke="#111" stroke-width="2.8" transform="rotate(-12 1341.2 1037.5)"/>
<ellipse cx="1342" cy="1038" rx="12.5" ry="18.5" fill="none" stroke="#111" stroke-width="1.5" transform="rotate(-12 1342 1038)"/>
<ellipse cx="1337" cy="1026" rx="3.6" ry="3.6" fill="#111" stroke="#111" stroke-width="2.2"/>
<ellipse cx="1341.5" cy="1034" rx="3.2" ry="3.2" fill="#111" stroke="#111" stroke-width="2.2"/>
<ellipse cx="1336" cy="1041" rx="2.6" ry="2.6" fill="#111" stroke="#111" stroke-width="2.2"/>
<ellipse cx="1342" cy="1049" rx="3.6" ry="3.6" fill="#111" stroke="#111" stroke-width="2.2"/>
<ellipse cx="1346.5" cy="1043" rx="2.6" ry="2.6" fill="#111" stroke="#111" stroke-width="2.2"/>
<ellipse cx="1339" cy="1054" rx="2.4" ry="2.4" fill="#111" stroke="#111" stroke-width="2.2"/>
<ellipse cx="1347" cy="1030" rx="2.2" ry="2.2" fill="#111" stroke="#111" stroke-width="2.2"/>
<ellipse cx="1334" cy="1033" rx="2" ry="2" fill="#111" stroke="#111" stroke-width="2.2"/>
<rect x="1343.5" y="1032" width="3" height="13" rx="0" fill="#111" stroke="#111" stroke-width="1"/>
<path d="M1360 1025 Q1365 1027.5 1363.8 1033.8 L1356.2 1040" fill="none" stroke="#111" stroke-width="1.4" stroke-linejoin="round" stroke-linecap="round"/>
<path d="M1464,1078 Q1468,1073.5 1472,1077 L1476,1079 L1475,1084 L1467,1084 Z" fill="#111" stroke="#111" stroke-width="1.2" stroke-linejoin="round" stroke-linecap="round"/>
<path d="M1486.5,1086 Q1490,1084 1492,1087 L1501,1092 L1498,1099 L1488,1094 Q1485,1091 1486.5,1086 Z" fill="#fff" stroke="#111" stroke-width="1.5" stroke-linejoin="round" stroke-linecap="round"/>
<line x1="1493" y1="1088" x2="1490.5" y2="1095" stroke="#111" stroke-width="1.2"/>
<path d="M1499,1091 L1505,1090 L1504,1105 L1498,1099 Z" fill="#111" stroke="#111" stroke-width="1.2" stroke-linejoin="round" stroke-linecap="round"/>
<ellipse cx="1510.5" cy="1097.5" rx="8" ry="8.8" fill="#111" stroke="#111" stroke-width="1.5"/>
<ellipse cx="1511.5" cy="1097.5" rx="5" ry="5.6" fill="none" stroke="#777" stroke-width="0.8"/>
<path d="M1380.6,1124 V1131 Q1395,1138 1411,1137.5 Q1425,1137 1435,1133 L1436,1136 L1447.5,1134 V1122.5 L1436,1123" fill="#fff" stroke="#111" stroke-width="1.8" stroke-linejoin="round" stroke-linecap="round"/>
<ellipse cx="1410" cy="1124.5" rx="29.5" ry="7.5" fill="#fff" stroke="#111" stroke-width="2.4"/>
<ellipse cx="1411" cy="1125" rx="21" ry="4.6" fill="none" stroke="#111" stroke-width="2.2"/>
<path d="M1384,1121 Q1410,1113.5 1437,1120" fill="none" stroke="#111" stroke-width="3" stroke-linejoin="round" stroke-linecap="round"/>
<path d="M1386,1126 L1392,1127.5 L1392,1130 M1395,1119 L1405,1117.5 M1418,1117 L1428,1119 L1430,1122" fill="none" stroke="#111" stroke-width="2.2" stroke-linejoin="round" stroke-linecap="round"/>
<rect x="1432.5" y="1127" width="4" height="8" rx="0" fill="#111" stroke="#111" stroke-width="1"/>
<path d="M1440,1131 Q1444,1131 1444,1127" fill="none" stroke="#111" stroke-width="1.3" stroke-linejoin="round" stroke-linecap="round"/>
<path d="M1522.5 915.6 L1542.5 911.9 L1550 926.2 L1562.5 937.5 L1580 981.2 L1590 1015 L1593.8 1040 L1587.5 1052.5 L1563.8 1060 L1548.1 1056.9 L1550 1047.5 L1553.8 1040 L1536.2 992.5 L1517.5 943.8 L1520 933.1 L1522.5 931.2 Z" fill="#fff" stroke="#111" stroke-width="2" stroke-linejoin="round" stroke-linecap="round"/>
<path d="M1522.5 915.6 L1542.5 911.9" fill="none" stroke="#111" stroke-width="3" stroke-linejoin="round" stroke-linecap="round"/>
<path d="M1520 933.1 L1550 926.2 M1517.5 943.8 L1561.2 935" fill="none" stroke="#111" stroke-width="1.6" stroke-linejoin="round" stroke-linecap="round"/>
<path d="M1565 939.4 L1533.8 944.4 L1529.4 955 L1529 970 L1535.6 988.8 L1543.8 991.9" fill="none" stroke="#111" stroke-width="2.0" stroke-linejoin="round" stroke-linecap="round"/>
<path d="M1565.4 940.6 L1535 945.6 L1530.6 955.8 L1530.2 970 L1536.9 988.2 L1543.8 990.6" fill="none" stroke="#111" stroke-width="1.4" stroke-linejoin="round" stroke-linecap="round"/>
<path d="M1565.8 941.9 L1536.2 946.9 L1531.9 956.5 L1531.5 970 L1538.1 987.8 L1543.8 989.4" fill="none" stroke="#111" stroke-width="1.4" stroke-linejoin="round" stroke-linecap="round"/>
<path d="M1566.1 943.1 L1537.5 948.1 L1533.1 957.2 L1532.8 970 L1539.4 987.2 L1543.8 988.1" fill="none" stroke="#111" stroke-width="2.0" stroke-linejoin="round" stroke-linecap="round"/>
<path d="M1541.2 956.2 C1548.1 960 1549.4 977.5 1543.1 985" fill="none" stroke="#111" stroke-width="2.6" stroke-linejoin="round" stroke-linecap="round"/>
<ellipse cx="1537.5" cy="970" rx="4.4" ry="7" fill="#fff" stroke="#111" stroke-width="3" transform="rotate(-12 1537.5 970)"/>
<ellipse cx="1537.5" cy="970" rx="2.6" ry="4.8" fill="none" stroke="#111" stroke-width="1.3" transform="rotate(-12 1537.5 970)"/>
<path d="M1547.5 955 L1565 950 L1580 982.5 L1565 986.2 L1550 982.5 C1552.5 972.5 1552.5 962.5 1547.5 955 Z" fill="#fff" stroke="#111" stroke-width="2.4" stroke-linejoin="round" stroke-linecap="round"/>
<path d="M1547.5 990 C1562.5 987.5 1577.5 1000 1575 1015 C1573.8 1025 1567.5 1035 1560 1037.5 L1541.2 1033.8 Z" fill="#fff" stroke="#fff" stroke-width="1" stroke-linejoin="round" stroke-linecap="round"/>
<path d="M1547.5 990 C1562.5 987.5 1577.5 1000 1575 1015 C1573.8 1025 1567.5 1035 1560 1037.5" fill="none" stroke="#111" stroke-width="2.8" stroke-linejoin="round" stroke-linecap="round"/>
<path d="M1550 996.2 C1562.5 996.2 1571.2 1006.2 1570 1021.2 M1555 1020 Q1566.2 1016.2 1570.6 1010" fill="none" stroke="#111" stroke-width="1.3" stroke-linejoin="round" stroke-linecap="round"/>
<path d="M1575 1027.5 L1591.2 1025" fill="none" stroke="#111" stroke-width="3" stroke-linejoin="round" stroke-linecap="round"/>
<path d="M1560 1038.8 L1592.5 1032.5" fill="none" stroke="#111" stroke-width="3.6" stroke-linejoin="round" stroke-linecap="round"/>
<path d="M1577.5 1003.8 L1575.6 1027.5" fill="none" stroke="#111" stroke-width="2.4" stroke-linejoin="round" stroke-linecap="round"/>
<path d="M1550 1052.5 L1593.1 1040.6 M1550 1038.8 C1555 1043.8 1552.5 1048.8 1548.8 1051.2" fill="none" stroke="#111" stroke-width="1.6" stroke-linejoin="round" stroke-linecap="round"/>
<ellipse cx="1540" cy="1015" rx="13.5" ry="19" fill="#fff" stroke="#111" stroke-width="1.6" transform="rotate(-8 1540 1015)"/>
<ellipse cx="1538.7" cy="1015" rx="13" ry="18.7" fill="#fff" stroke="#111" stroke-width="2.6" transform="rotate(-8 1538.7 1015)"/>
<ellipse cx="1539.5" cy="1015.5" rx="10" ry="15" fill="none" stroke="#111" stroke-width="1.5" transform="rotate(-8 1539.5 1015.5)"/>
<path d="M1537.5 1006.2 L1543.1 1010 L1539.4 1015 L1545 1018.8 L1540 1024.4" fill="none" stroke="#111" stroke-width="2" stroke-linejoin="round" stroke-linecap="round"/>
<path d="M1530 1002.5 L1536.2 1000.6 L1537.5 1005" fill="none" stroke="#111" stroke-width="1.5" stroke-linejoin="round" stroke-linecap="round"/>
<g transform="rotate(-4 1645 1000)">
<path d="M1643,997.4 H1630 Q1628,1000 1630,1002.6 H1643" fill="#fff" stroke="#111" stroke-width="1.4" stroke-linejoin="round" stroke-linecap="round"/>
<ellipse cx="1645" cy="1000" rx="2.6" ry="5" fill="#111" stroke="#111" stroke-width="1.5"/>
</g>
<g transform="rotate(-4 1650 1020)">
<path d="M1648,1017.4 H1635 Q1633,1020 1635,1022.6 H1648" fill="#fff" stroke="#111" stroke-width="1.4" stroke-linejoin="round" stroke-linecap="round"/>
<ellipse cx="1650" cy="1020" rx="2.6" ry="5" fill="#111" stroke="#111" stroke-width="1.5"/>
</g>
<path d="M1672.5,991 L1683.7,990 L1686,998.7 L1676,1001 Z" fill="#fff" stroke="#111" stroke-width="1.6" stroke-linejoin="round" stroke-linecap="round"/>
<path d="M1675,1010 L1687.5,1008.7 L1690,1016 L1685,1025 L1667.5,1026.5 L1664,1022 Z" fill="#fff" stroke="#111" stroke-width="1.7" stroke-linejoin="round" stroke-linecap="round"/>
<polyline points="1676,1017 1689,1015.5" fill="none" stroke="#111" stroke-width="1.3" stroke-linejoin="round"/>
<polyline points="1676,1001 1676,1017" fill="none" stroke="#111" stroke-width="1.4" stroke-linejoin="round"/>
<ellipse cx="1668.5" cy="1008.7" rx="5.5" ry="17.5" fill="#fff" stroke="#111" stroke-width="1.8" transform="rotate(-6 1668.5 1008.7)"/>
<path d="M1672,992 Q1678,1008 1673,1025" fill="none" stroke="#111" stroke-width="1.5" stroke-linejoin="round" stroke-linecap="round"/>
<rect x="1656" y="996" width="9" height="6" rx="2" fill="#fff" stroke="#111" stroke-width="1.6"/>
<rect x="1660" y="1016" width="8.5" height="6.2" rx="2" fill="#fff" stroke="#111" stroke-width="1.6"/>
<ellipse cx="1657.5" cy="999" rx="1.6" ry="3" fill="#111" stroke="#111" stroke-width="1.2"/>
<ellipse cx="1661.5" cy="1019" rx="1.6" ry="3" fill="#111" stroke="#111" stroke-width="1.2"/>
<path d="M1662,1004 L1668,1005 L1666,1012 L1661,1010 Z" fill="none" stroke="#111" stroke-width="1.4" stroke-linejoin="round" stroke-linecap="round"/>
<circle cx="1673.7" cy="990" r="2.8" fill="#111"/>
<g transform="rotate(-4 1710.6 1003)">
<path d="M1708.6,1000.8 H1696.6 Q1694.6,1003 1696.6,1005.2 H1708.6" fill="#fff" stroke="#111" stroke-width="1.4" stroke-linejoin="round" stroke-linecap="round"/>
<ellipse cx="1710.6" cy="1003" rx="2.6" ry="4.2" fill="#111" stroke="#111" stroke-width="1.5"/>
</g>
<path d="M1740.7,941 L1754,938 L1764.5,965 L1747,973.7 Z" fill="#fff" stroke="#111" stroke-width="1.7" stroke-linejoin="round" stroke-linecap="round"/>
<path d="M1706.4,955 Q1716,948 1727,946 L1743,982.5 Q1736,990 1724.5,991 L1719.5,988.7 Q1709,972 1706.4,955 Z" fill="#fff" stroke="#111" stroke-width="2" stroke-linejoin="round" stroke-linecap="round"/>
<path d="M1709.5,956 Q1713,972 1722.5,987 M1713,953 L1716.5,952 L1732,986" fill="none" stroke="#111" stroke-width="1.3" stroke-linejoin="round" stroke-linecap="round"/>
<path d="M1716.5,956 L1740,944 L1756,966 L1731,979 Z" fill="#fff" stroke="#111" stroke-width="1.6" stroke-linejoin="round" stroke-linecap="round"/>
<ellipse cx="1724.5" cy="963.7" rx="5" ry="7" fill="#fff" stroke="#111" stroke-width="2" transform="rotate(-20 1724.5 963.7)"/>
<ellipse cx="1728" cy="962.5" rx="5" ry="7" fill="none" stroke="#111" stroke-width="1.5" transform="rotate(-20 1728 962.5)"/>
<path d="M1733,948 L1738,957 L1746,953 M1737,963 L1748,958 L1752,966 M1731,972 L1736,970 L1738,975" fill="none" stroke="#111" stroke-width="2.2" stroke-linejoin="round" stroke-linecap="round"/>
<ellipse cx="1737.5" cy="952" rx="2.8" ry="3" fill="#111" stroke="#111" stroke-width="1.4"/>
<ellipse cx="1742.5" cy="948.5" rx="2.6" ry="2.8" fill="#111" stroke="#111" stroke-width="1.4"/>
<ellipse cx="1741" cy="969" rx="2.8" ry="3" fill="#111" stroke="#111" stroke-width="1.4"/>
<ellipse cx="1747.5" cy="964.5" rx="2.6" ry="2.8" fill="#111" stroke="#111" stroke-width="1.4"/>
<ellipse cx="1740" cy="957" rx="1.6" ry="1.6" fill="#111" stroke="#111" stroke-width="1"/>
<path d="M1755,998.7 L1768,998 M1755,996.8 L1768,997 M1759,1017.8 L1772.6,1016 M1759,1016 L1772.6,1015" fill="none" stroke="#111" stroke-width="1.3" stroke-linejoin="round" stroke-linecap="round"/>
<path d="M1735,998.7 L1755,995 L1759.5,1021 L1740,1025 Z" fill="#fff" stroke="#111" stroke-width="1.8" stroke-linejoin="round" stroke-linecap="round"/>
<path d="M1735,998.7 L1737,996 L1755,993 L1755,995" fill="none" stroke="#111" stroke-width="1.4" stroke-linejoin="round" stroke-linecap="round"/>
<path d="M1740,1025 L1741,1026.5 L1760,1022.5 L1759.5,1021" fill="none" stroke="#111" stroke-width="1.4" stroke-linejoin="round" stroke-linecap="round"/>
<polygon points="1758.9,901 1778.9,897.5 1787,911 1799.5,921 1819.5,966 1830.7,1008.7 1831.4,1025 1820.7,1038.7 1798,1046 1784.5,1042 1790.7,1028.7 1787,1005 1774.5,980 1789,973.7 1774.5,937.5 1760.7,941 1755,927.5" fill="#fff" stroke="#111" stroke-width="2.2" stroke-linejoin="round"/>
<path d="M1762,904 L1774.5,899 L1784,913 L1797,924 L1816,968 L1826.5,1010 L1827,1023 L1818,1035 L1798,1042 L1789,1040" fill="none" stroke="#111" stroke-width="1.3" stroke-linejoin="round" stroke-linecap="round"/>
<path d="M1776.5,898.5 L1786,912 L1798,923 L1817.5,967 L1828.5,1009" fill="none" stroke="#111" stroke-width="1.3" stroke-linejoin="round" stroke-linecap="round"/>
<path d="M1762,904 L1763,921 L1757.5,928 M1757,923.7 L1790.7,918.7 M1760.7,928 L1792,923" fill="none" stroke="#111" stroke-width="1.4" stroke-linejoin="round" stroke-linecap="round"/>
<path d="M1764,907 L1769,905 L1772,909 L1775,906" fill="none" stroke="#111" stroke-width="1.4" stroke-linejoin="round" stroke-linecap="round"/>
<path d="M1762,939 L1773,935.5 L1786,972" fill="none" stroke="#111" stroke-width="1.3" stroke-linejoin="round" stroke-linecap="round"/>
<path d="M1777,980 Q1790,974 1799.5,976 L1809.5,992.5 Q1814,1010 1812,1023.7 L1794.5,1035 Q1796,1020 1792,1017.5 Q1790,1005 1784.5,995 Z" fill="#fff" stroke="#111" stroke-width="1.7" stroke-linejoin="round" stroke-linecap="round"/>
<path d="M1784,913 L1790,921 M1786,917 L1793,925" fill="none" stroke="#111" stroke-width="2.4" stroke-linejoin="round" stroke-linecap="round"/>
<path d="M1798,928 L1801,934" fill="none" stroke="#111" stroke-width="2.2" stroke-linejoin="round" stroke-linecap="round"/>
<path d="M1814,966 L1820,965" fill="none" stroke="#111" stroke-width="2" stroke-linejoin="round" stroke-linecap="round"/>
<path d="M1826,1008 L1830.5,1007 M1826.5,1012 L1831,1011 M1827,1016 L1831,1015" fill="none" stroke="#111" stroke-width="1.6" stroke-linejoin="round" stroke-linecap="round"/>
<polyline points="1790.7,1028.7 1795,1040" fill="none" stroke="#111" stroke-width="1.3" stroke-linejoin="round"/>
<g transform="rotate(-4 1824.5 925.5)">
<path d="M1822.5,923.3 H1813.5 Q1811.5,925.5 1813.5,927.7 H1822.5" fill="#fff" stroke="#111" stroke-width="1.4" stroke-linejoin="round" stroke-linecap="round"/>
<ellipse cx="1824.5" cy="925.5" rx="2.6" ry="4.2" fill="#111" stroke="#111" stroke-width="1.5"/>
</g>
<g transform="rotate(-4 1840.7 974.5)">
<path d="M1838.7,972.3 H1828.7 Q1826.7,974.5 1828.7,976.7 H1838.7" fill="#fff" stroke="#111" stroke-width="1.4" stroke-linejoin="round" stroke-linecap="round"/>
<ellipse cx="1840.7" cy="974.5" rx="2.6" ry="4.2" fill="#111" stroke="#111" stroke-width="1.5"/>
</g>
<g transform="rotate(-4 1852.6 1022)">
<path d="M1850.6,1019.8 H1840.6 Q1838.6,1022 1840.6,1024.2 H1850.6" fill="#fff" stroke="#111" stroke-width="1.4" stroke-linejoin="round" stroke-linecap="round"/>
<ellipse cx="1852.6" cy="1022" rx="2.6" ry="4.2" fill="#111" stroke="#111" stroke-width="1.5"/>
</g>
<path d="M1395.3,1194.5 V1201.5 L1392.3,1206.0 H1402.3 L1399.3,1201.5 V1194.5 Z" fill="#fff" stroke="#111" stroke-width="1.4" stroke-linejoin="round" stroke-linecap="round"/>
<path d="M1392.1,1206.5 H1402.5 L1399.7,1203.0 H1394.8999999999999 Z" fill="#111" stroke="#111" stroke-width="1" stroke-linejoin="round" stroke-linecap="round"/>
<path d="M1428.8,1196.5 V1203.5 L1425.8,1208.0 H1435.8 L1432.8,1203.5 V1196.5 Z" fill="#fff" stroke="#111" stroke-width="1.4" stroke-linejoin="round" stroke-linecap="round"/>
<path d="M1425.6,1208.5 H1436.0 L1433.2,1205.0 H1428.3999999999999 Z" fill="#111" stroke="#111" stroke-width="1" stroke-linejoin="round" stroke-linecap="round"/>
<path d="M574.2,1369 L928.7,1347.3 M573.8,1361 L928.3,1339.3" fill="none" stroke="#111" stroke-width="1.7" stroke-linejoin="round" stroke-linecap="round"/>
<polygon points="574.2,1369 928.7,1347.3 928.3,1339.3 573.8,1361" fill="#fff" stroke="none" stroke-width="0" stroke-linejoin="round"/>
<path d="M574.2,1369 L928.7,1347.3 M573.8,1361 L928.3,1339.3" fill="none" stroke="#111" stroke-width="1.7" stroke-linejoin="round" stroke-linecap="round"/>
<ellipse cx="574" cy="1365" rx="2.2" ry="4" fill="#fff" stroke="#111" stroke-width="1.6" transform="rotate(-4 574 1365)"/>
<ellipse cx="574" cy="1365" rx="1.2" ry="2.4" fill="none" stroke="#111" stroke-width="1" transform="rotate(-4 574 1365)"/>
<path d="M928.7,1347.3 Q931.5,1343.3 928.3,1339.3" fill="#fff" stroke="#111" stroke-width="1.6" stroke-linejoin="round" stroke-linecap="round"/>
<path d="M622.8,1382 L977.3,1359.7 M622.2,1374 L976.7,1351.7" fill="none" stroke="#111" stroke-width="1.7" stroke-linejoin="round" stroke-linecap="round"/>
<polygon points="622.8,1382 977.3,1359.7 976.7,1351.7 622.2,1374" fill="#fff" stroke="none" stroke-width="0" stroke-linejoin="round"/>
<path d="M622.8,1382 L977.3,1359.7 M622.2,1374 L976.7,1351.7" fill="none" stroke="#111" stroke-width="1.7" stroke-linejoin="round" stroke-linecap="round"/>
<ellipse cx="622.5" cy="1378" rx="2.2" ry="4" fill="#fff" stroke="#111" stroke-width="1.6" transform="rotate(-4 622.5 1378)"/>
<ellipse cx="622.5" cy="1378" rx="1.2" ry="2.4" fill="none" stroke="#111" stroke-width="1" transform="rotate(-4 622.5 1378)"/>
<path d="M977.3,1359.7 Q980,1355.7 976.7,1351.7" fill="#fff" stroke="#111" stroke-width="1.6" stroke-linejoin="round" stroke-linecap="round"/>
<ellipse cx="921.5" cy="1344" rx="2.2" ry="3.4" fill="#111" stroke="#111" stroke-width="1" transform="rotate(-4 921.5 1344)"/>
<path d="M1117,1398.4 L1138.5,1399.4 L1138.5,1405 L1146,1407.8 L1145,1450.8 L1047.8,1457.3 L1047.8,1439.6 L1118.9,1436.8 L1118.9,1406 Z" fill="#fff" stroke="#111" stroke-width="1.8" stroke-linejoin="round" stroke-linecap="round"/>
<polyline points="1117,1398.4 1117,1409 1124,1410 1124,1400" fill="none" stroke="#111" stroke-width="1.5" stroke-linejoin="round"/>
<rect x="1124" y="1397" width="7" height="2.5" rx="0" fill="#111" stroke="#111" stroke-width="1"/>
<circle cx="1137.2" cy="1430.6" r="2.6" fill="#111"/>
<path d="M1071.2,1385.3 L1094.5,1384.4 L1094.5,1393.7 L1076,1395 L1071.2,1394 Z" fill="#fff" stroke="#111" stroke-width="1.7" stroke-linejoin="round" stroke-linecap="round"/>
<rect x="1079" y="1384" width="8" height="2" rx="0" fill="#111" stroke="#111" stroke-width="1"/>
<polyline points="1076,1386.5 1076,1395" fill="none" stroke="#111" stroke-width="1.3" stroke-linejoin="round"/>
<path d="M1064.6,1392.8 V1415 L1058,1420 M1076.8,1394.7 V1419 M1064.6,1392.8 L1076.8,1394.7 M1068,1393.5 V1407 M1094.5,1392 L1101,1392.5 V1396" fill="none" stroke="#111" stroke-width="1.6" stroke-linejoin="round" stroke-linecap="round"/>
<path d="M1077,1396 Q1097,1397 1117,1407 M1077,1400 Q1097,1401 1115,1411" fill="none" stroke="#111" stroke-width="1.6" stroke-linejoin="round" stroke-linecap="round"/>
<path d="M1106,1410 V1430 M1112,1409 V1428 M1076.8,1415 L1106,1413" fill="none" stroke="#111" stroke-width="1.4" stroke-linejoin="round" stroke-linecap="round"/>
<path d="M1057,1418 L1068,1409 L1071,1412 L1062,1421 Z M1118,1424 L1108,1434 L1104,1432 L1112,1424 Z M1090,1424 L1096,1421 L1099,1424 L1093,1428 Z" fill="#fff" stroke="#111" stroke-width="1.4" stroke-linejoin="round" stroke-linecap="round"/>
<path d="M1014,1424.6 L1062.7,1419 L1080,1422 L1090,1426 L1100,1431 L1118,1434 M1047.8,1435.8 L1118,1434 M1050,1432 L1095,1428 M1020,1426.5 L1060,1423 M1028,1429 L1075,1426" fill="none" stroke="#111" stroke-width="1.4" stroke-linejoin="round" stroke-linecap="round"/>
<path d="M1014,1424 L1080,1420.5" fill="none" stroke="#111" stroke-width="2.2" stroke-linejoin="round" stroke-linecap="round"/>
<path d="M1052,1433.5 L1092,1430" fill="none" stroke="#111" stroke-width="2.2" stroke-linejoin="round" stroke-linecap="round"/>
<path d="M920.6,1419 L932.7,1417 Q960,1426 993.5,1424.6 L1014,1424.6 L1038,1431 L1047.8,1439.6 L1035,1442 L1030.9,1447 L986,1437.7 L963.6,1431 L962,1436 L958.9,1435.8 L915.9,1423.7 Z" fill="#fff" stroke="#111" stroke-width="1.7" stroke-linejoin="round" stroke-linecap="round"/>
<path d="M915.9,1423.7 L958.9,1435.8 L958.9,1453.6 L916.8,1440.5 Z" fill="#fff" stroke="#111" stroke-width="1.8" stroke-linejoin="round" stroke-linecap="round"/>
<path d="M958.9,1435.8 L964.5,1434 L964.5,1449 L958.9,1453.6 M964.5,1449 L970,1447 L980,1446" fill="none" stroke="#111" stroke-width="1.5" stroke-linejoin="round" stroke-linecap="round"/>
<path d="M935.5,1429 V1446 M940.5,1430.5 V1447.5 M923,1421 L962,1432 M999,1430 Q1020,1428 1034,1432" fill="none" stroke="#111" stroke-width="1.4" stroke-linejoin="round" stroke-linecap="round"/>
<ellipse cx="919.5" cy="1434.5" rx="1.2" ry="2.2" fill="none" stroke="#111" stroke-width="1.2"/>
<ellipse cx="954" cy="1445" rx="1.2" ry="2.2" fill="none" stroke="#111" stroke-width="1.2"/>
<path d="M986,1437.7 L1030.9,1447 L1044,1443 L1044,1465.8 L1036,1468 L1036,1471 L1025.3,1474.2 L980.4,1461 L980.4,1443.3 Z" fill="#fff" stroke="#111" stroke-width="1.8" stroke-linejoin="round" stroke-linecap="round"/>
<path d="M980.4,1443.3 L1025.3,1456.4 L1025.3,1474.2 M1025.3,1456.4 L1036,1452.5 L1044,1449 M1036,1452.5 V1468 M997.5,1448 V1466 M1002.5,1449.5 V1467.5 M984,1440.5 L1028,1451.5" fill="none" stroke="#111" stroke-width="1.5" stroke-linejoin="round" stroke-linecap="round"/>
<ellipse cx="984.3" cy="1454.5" rx="1.2" ry="2.2" fill="none" stroke="#111" stroke-width="1.2"/>
<ellipse cx="1018.5" cy="1464.5" rx="1.2" ry="2.2" fill="none" stroke="#111" stroke-width="1.2"/>
<path d="M1033,1446 L1042,1440 L1047.8,1439.6" fill="none" stroke="#111" stroke-width="1.5" stroke-linejoin="round" stroke-linecap="round"/>
<polygon points="777.7,1418 842.5,1435 839.8,1463 777.7,1446.2" fill="#fff" stroke="#111" stroke-width="1.9" stroke-linejoin="round"/>
<polyline points="777.7,1418 780.7,1416.5 845.5,1433.5 842.5,1435" fill="none" stroke="#111" stroke-width="1.4" stroke-linejoin="round"/>
<polyline points="845.5,1433.5 845.5,1439 842.5,1440" fill="none" stroke="#111" stroke-width="1.3" stroke-linejoin="round"/>
<g transform="rotate(14 790.7 1435.5)">
<rect x="785.7" y="1431.9" width="11" height="7.2" rx="3.4" fill="#fff" stroke="#111" stroke-width="1.6"/>
<rect x="787.7" y="1433.5" width="7" height="4" rx="2" fill="none" stroke="#111" stroke-width="1.1"/>
</g>
<g transform="rotate(14 824.4 1444.3)">
<rect x="819.4" y="1440.7" width="11" height="7.2" rx="3.4" fill="#fff" stroke="#111" stroke-width="1.6"/>
<rect x="821.4" y="1442.3" width="7" height="4" rx="2" fill="none" stroke="#111" stroke-width="1.1"/>
</g>
<polyline points="839.8,1463 841.8,1464 842.3,1458 842.5,1451" fill="none" stroke="#111" stroke-width="1.3" stroke-linejoin="round"/>
<polygon points="855.5,1442.5 921,1458.5 917.3,1487.3 855.5,1472.4" fill="#fff" stroke="#111" stroke-width="1.9" stroke-linejoin="round"/>
<polyline points="855.5,1442.5 858.5,1441 924,1457 921,1458.5" fill="none" stroke="#111" stroke-width="1.4" stroke-linejoin="round"/>
<polyline points="924,1457 924,1462.5 921,1463.5" fill="none" stroke="#111" stroke-width="1.3" stroke-linejoin="round"/>
<g transform="rotate(14 868.6 1460.7)">
<rect x="863.6" y="1457.1" width="11" height="7.2" rx="3.4" fill="#fff" stroke="#111" stroke-width="1.6"/>
<rect x="865.6" y="1458.7" width="7" height="4" rx="2" fill="none" stroke="#111" stroke-width="1.1"/>
</g>
<g transform="rotate(14 902.7 1469)">
<rect x="897.7" y="1465.4" width="11" height="7.2" rx="3.4" fill="#fff" stroke="#111" stroke-width="1.6"/>
<rect x="899.7" y="1467" width="7" height="4" rx="2" fill="none" stroke="#111" stroke-width="1.1"/>
</g>
<polyline points="917.3,1487.3 919.3,1488.3 919.8,1482.3 921,1474.5" fill="none" stroke="#111" stroke-width="1.3" stroke-linejoin="round"/>
<circle cx="917.5" cy="1474" r="2.2" fill="#111"/>
<ellipse cx="732.8" cy="1446.2" rx="3.6" ry="6.2" fill="#fff" stroke="#111" stroke-width="2.2"/>
<ellipse cx="732.8" cy="1446.2" rx="1.4" ry="3.4" fill="none" stroke="#111" stroke-width="1.6"/>
<ellipse cx="766.5" cy="1457.4" rx="3.6" ry="6.2" fill="#fff" stroke="#111" stroke-width="2.2"/>
<ellipse cx="766.5" cy="1457.4" rx="1.4" ry="3.4" fill="none" stroke="#111" stroke-width="1.6"/>
<ellipse cx="799.4" cy="1466" rx="3.6" ry="6.2" fill="#fff" stroke="#111" stroke-width="2.2"/>
<ellipse cx="799.4" cy="1466" rx="1.4" ry="3.4" fill="none" stroke="#111" stroke-width="1.6"/>
<ellipse cx="833" cy="1477.3" rx="3.6" ry="6.2" fill="#fff" stroke="#111" stroke-width="2.2"/>
<ellipse cx="833" cy="1477.3" rx="1.4" ry="3.4" fill="none" stroke="#111" stroke-width="1.6"/>
<g transform="rotate(-4 676 1450)">
<ellipse cx="676" cy="1450" rx="2.6" ry="4" fill="#fff" stroke="#111" stroke-width="1.5"/>
<line x1="675.5" y1="1447" x2="675.5" y2="1453" stroke="#111" stroke-width="1.2"/>
<path d="M678,1448 H688 L691,1450 L688,1452 H678" fill="#fff" stroke="#111" stroke-width="1.4" stroke-linejoin="round" stroke-linecap="round"/>
</g>
<g transform="rotate(-4 709.6 1460)">
<ellipse cx="709.6" cy="1460" rx="2.6" ry="4" fill="#fff" stroke="#111" stroke-width="1.5"/>
<line x1="709.1" y1="1457" x2="709.1" y2="1463" stroke="#111" stroke-width="1.2"/>
<path d="M711.6,1458 H721.6 L724.6,1460 L721.6,1462 H711.6" fill="#fff" stroke="#111" stroke-width="1.4" stroke-linejoin="round" stroke-linecap="round"/>
</g>
<g transform="rotate(-4 739.6 1469.8)">
<ellipse cx="739.6" cy="1469.8" rx="2.6" ry="4" fill="#fff" stroke="#111" stroke-width="1.5"/>
<line x1="739.1" y1="1466.8" x2="739.1" y2="1472.8" stroke="#111" stroke-width="1.2"/>
<path d="M741.6,1467.8 H751.6 L754.6,1469.8 L751.6,1471.8 H741.6" fill="#fff" stroke="#111" stroke-width="1.4" stroke-linejoin="round" stroke-linecap="round"/>
</g>
<g transform="rotate(-4 774 1481)">
<ellipse cx="774" cy="1481" rx="2.6" ry="4" fill="#fff" stroke="#111" stroke-width="1.5"/>
<line x1="773.5" y1="1478" x2="773.5" y2="1484" stroke="#111" stroke-width="1.2"/>
<path d="M776,1479 H786 L789,1481 L786,1483 H776" fill="#fff" stroke="#111" stroke-width="1.4" stroke-linejoin="round" stroke-linecap="round"/>
</g>
<circle cx="774" cy="1484.5" r="2.2" fill="#111"/>
<path d="M1068.4,1277.0 Q1082.85,1273.0 1097.3,1274.5 L1099.3,1289 Q1082.85,1294.5 1066.9,1292 Z" fill="#fff" stroke="#111" stroke-width="2.2" stroke-linejoin="round" stroke-linecap="round"/>
<path d="M1071.4,1278.5 Q1083.85,1292.5 1094.8,1277.0" fill="none" stroke="#111" stroke-width="1.8" stroke-linejoin="round" stroke-linecap="round"/>
<path d="M1068.4,1288 Q1082.85,1291.5 1098.3,1286" fill="none" stroke="#111" stroke-width="1.2" stroke-linejoin="round" stroke-linecap="round"/>
<path d="M1080,1292.5 V1310.5 H1086.7 V1292" fill="#fff" stroke="#111" stroke-width="1.7" stroke-linejoin="round" stroke-linecap="round"/>
<path d="M1115.2,1291.0 Q1127.75,1287.0 1140.3,1288.5 L1142.3,1302 Q1127.75,1307.5 1113.7,1305 Z" fill="#fff" stroke="#111" stroke-width="2.2" stroke-linejoin="round" stroke-linecap="round"/>
<path d="M1118.2,1292.5 Q1128.75,1306.5 1137.8,1291.0" fill="none" stroke="#111" stroke-width="1.8" stroke-linejoin="round" stroke-linecap="round"/>
<path d="M1115.2,1301 Q1127.75,1304.5 1141.3,1299" fill="none" stroke="#111" stroke-width="1.2" stroke-linejoin="round" stroke-linecap="round"/>
<path d="M1124.5,1305.5 V1323.6 H1131 V1305" fill="#fff" stroke="#111" stroke-width="1.7" stroke-linejoin="round" stroke-linecap="round"/>
<rect x="1077.7" y="1341.4" width="11.3" height="17.6" rx="1.5" fill="#111" stroke="#111" stroke-width="1"/>
<rect x="1122.6" y="1354.5" width="10.3" height="16.8" rx="1.5" fill="#111" stroke="#111" stroke-width="1"/>
<line x1="1078" y1="1345" x2="1081.5" y2="1344.6" stroke="#fff" stroke-width="0.8"/>
<line x1="1123" y1="1358" x2="1126" y2="1357.6" stroke="#fff" stroke-width="0.8"/>
<line x1="1078" y1="1348.2" x2="1081.5" y2="1347.8" stroke="#fff" stroke-width="0.8"/>
<line x1="1123" y1="1361.2" x2="1126" y2="1360.8" stroke="#fff" stroke-width="0.8"/>
<line x1="1078" y1="1351.4" x2="1081.5" y2="1351" stroke="#fff" stroke-width="0.8"/>
<line x1="1123" y1="1364.4" x2="1126" y2="1364" stroke="#fff" stroke-width="0.8"/>
<line x1="1078" y1="1354.6" x2="1081.5" y2="1354.2" stroke="#fff" stroke-width="0.8"/>
<line x1="1123" y1="1367.6" x2="1126" y2="1367.2" stroke="#fff" stroke-width="0.8"/>
<line x1="1078" y1="1357.8" x2="1081.5" y2="1357.4" stroke="#fff" stroke-width="0.8"/>
<line x1="1123" y1="1370.8" x2="1126" y2="1370.4" stroke="#fff" stroke-width="0.8"/>
<path d="M1228.2,1571 Q1235.75,1568 1243.3,1571 V1595 H1228.2 Z" fill="#fff" stroke="#111" stroke-width="1.8" stroke-linejoin="round" stroke-linecap="round"/>
<rect x="1228.2" y="1571" width="5.5" height="24" rx="0" fill="#111" stroke="#111" stroke-width="1"/>
<ellipse cx="1238.5" cy="1572" rx="4.8" ry="1.6" fill="none" stroke="#111" stroke-width="1.3"/>
<path d="M1226.2,1594 H1245.3 V1597 Q1235.75,1600 1226.2,1597 Z" fill="#111" stroke="#111" stroke-width="1.4" stroke-linejoin="round" stroke-linecap="round"/>
<path d="M1262.2,1569.5 Q1269.45,1566.5 1276.7,1569.5 V1593.3 H1262.2 Z" fill="#fff" stroke="#111" stroke-width="1.8" stroke-linejoin="round" stroke-linecap="round"/>
<rect x="1262.2" y="1569.5" width="4.5" height="23.8" rx="0" fill="#111" stroke="#111" stroke-width="1"/>
<ellipse cx="1271.7" cy="1570.5" rx="5" ry="1.6" fill="none" stroke="#111" stroke-width="1.3"/>
<path d="M1260.2,1592.3 H1278.7 V1595.3 Q1269.45,1598.3 1260.2,1595.3 Z" fill="#111" stroke="#111" stroke-width="1.4" stroke-linejoin="round" stroke-linecap="round"/>
<path d="M1361.7,1554.5 Q1361.7,1546 1370,1548.5 L1463.5,1570 Q1472.6,1572 1472.6,1580 L1471.7,1623 Q1471.5,1632 1463.5,1630.8 L1372,1605 Q1361.7,1602 1361.7,1594.5 Z" fill="#fff" stroke="#111" stroke-width="2.2" stroke-linejoin="round" stroke-linecap="round"/>
<path d="M1364.5,1548 L1465,1571 Q1473.8,1573.5 1473.6,1581" fill="none" stroke="#111" stroke-width="1.2" stroke-linejoin="round" stroke-linecap="round"/>
<ellipse cx="1379.9" cy="1579" rx="7.2" ry="5.6" fill="none" stroke="#111" stroke-width="1.8" transform="rotate(25 1379.9 1579)"/>
<ellipse cx="1380.5" cy="1580" rx="6" ry="4.4" fill="none" stroke="#111" stroke-width="1.1" transform="rotate(25 1380.5 1580)"/>
<ellipse cx="1452.6" cy="1599" rx="7.2" ry="5.6" fill="none" stroke="#111" stroke-width="1.8" transform="rotate(25 1452.6 1599)"/>
<ellipse cx="1453.2" cy="1600" rx="6" ry="4.4" fill="none" stroke="#111" stroke-width="1.1" transform="rotate(25 1453.2 1600)"/>
<ellipse cx="1415.3" cy="1590" rx="14.5" ry="15" fill="none" stroke="#888" stroke-width="1.2" transform="rotate(20 1415.3 1590)"/>
<ellipse cx="1414" cy="1591" rx="12.5" ry="13.5" fill="none" stroke="#111" stroke-width="2" transform="rotate(20 1414 1591)"/>
<ellipse cx="1413.5" cy="1591.5" rx="10" ry="11.5" fill="none" stroke="#111" stroke-width="1.8" transform="rotate(20 1413.5 1591.5)"/>
<path d="M1525.3,1578 C1516,1566 1518,1548 1535.4,1538.6 C1538,1538 1538,1541 1536.5,1543 C1531,1552 1538,1563 1547,1562 C1553,1561 1552,1554 1552.5,1549 C1553,1545 1557,1546 1558,1550 C1561,1565 1556,1576 1547,1585.4 L1532.6,1694.4 Q1531,1701 1526,1701 Q1519.5,1700 1519.8,1694 Z" fill="#fff" stroke="#111" stroke-width="2" stroke-linejoin="round" stroke-linecap="round"/>
<path d="M1527,1580 L1521.5,1694" fill="none" stroke="#111" stroke-width="1.1" stroke-linejoin="round" stroke-linecap="round"/>
<ellipse cx="1526.6" cy="1692.6" rx="2.4" ry="3.2" fill="none" stroke="#111" stroke-width="1.5"/>
<path d="M1626.8,1553 Q1635.8,1542 1644.8,1553 Z" fill="#fff" stroke="#111" stroke-width="1.8" stroke-linejoin="round" stroke-linecap="round"/>
<rect x="1630.6" y="1553.3" width="10.4" height="19" rx="0" fill="#fff" stroke="#111" stroke-width="1.8"/>
<path d="M1627.5,1566.8 L1616.3,1557.8 L1608,1566 L1620.8,1578 L1625.3,1578 M1644,1566.8 L1655.3,1557 L1663.6,1565.3 L1650,1578 L1647,1578" fill="none" stroke="#111" stroke-width="1.8" stroke-linejoin="round" stroke-linecap="round"/>
<path d="M1625.3,1578 L1629,1572 L1643,1572 L1647,1578 Z" fill="#fff" stroke="#111" stroke-width="1.7" stroke-linejoin="round" stroke-linecap="round"/>
<path d="M1625,1580.5 H1647.5 M1626,1583.5 H1646" fill="none" stroke="#111" stroke-width="1.8" stroke-linejoin="round" stroke-linecap="round"/>
<path d="M1622.3,1585.6 H1681.6 V1606.6 H1622.3 V1598.4 H1668 V1594.6 H1622.3 Z" fill="#fff" stroke="#111" stroke-width="2.6" stroke-linejoin="round" stroke-linecap="round"/>
<path d="M1630.6,1607 V1624.7 L1635.8,1639 L1641,1624.7 V1607 M1630.6,1624.7 H1641" fill="none" stroke="#111" stroke-width="1.8" stroke-linejoin="round" stroke-linecap="round"/>
<line x1="1630.6" y1="1586" x2="1630.6" y2="1606" stroke="#111" stroke-width="1.2"/>
<line x1="1641" y1="1586" x2="1641" y2="1606" stroke="#111" stroke-width="1.2"/>
<path d="M1709.4,1542.8 L1750.7,1531.5 L1757,1538 L1770,1568 L1753.7,1569 L1747.7,1576.6 Z" fill="#fff" stroke="#111" stroke-width="1.9" stroke-linejoin="round" stroke-linecap="round"/>
<path d="M1709.4,1542.8 L1710,1546.6 L1746,1580" fill="none" stroke="#111" stroke-width="1.5" stroke-linejoin="round" stroke-linecap="round"/>
<ellipse cx="1744.7" cy="1550.3" rx="8.3" ry="4.5" fill="none" stroke="#111" stroke-width="1.7"/>
<path d="M1737.5,1551.5 Q1745,1546.5 1752,1551.5" fill="none" stroke="#111" stroke-width="1.1" stroke-linejoin="round" stroke-linecap="round"/>
<path d="M1810.8,1557.8 L1842.3,1550.3 L1867.9,1572.8 L1867.9,1576.6 L1825,1588.6 L1812,1580 Z" fill="#fff" stroke="#111" stroke-width="1.9" stroke-linejoin="round" stroke-linecap="round"/>
<path d="M1867.9,1572.8 L1824,1585" fill="none" stroke="#111" stroke-width="1.4" stroke-linejoin="round" stroke-linecap="round"/>
<path d="M1785.2,1611.1 L1825.8,1602 L1866.4,1636 L1866.4,1639.7 L1825.8,1650.2 L1785.2,1614 Z" fill="#fff" stroke="#111" stroke-width="1.9" stroke-linejoin="round" stroke-linecap="round"/>
<path d="M1866.4,1636 L1825.5,1646.5 L1786,1611.5" fill="none" stroke="#111" stroke-width="1.4" stroke-linejoin="round" stroke-linecap="round"/>
<ellipse cx="1831.8" cy="1629.2" rx="8.3" ry="4.5" fill="none" stroke="#111" stroke-width="1.7"/>
<path d="M1824.5,1630.5 Q1832,1625.5 1839,1630.5" fill="none" stroke="#111" stroke-width="1.1" stroke-linejoin="round" stroke-linecap="round"/>
<path d="M1753.7,1569 L1770,1566 L1783.7,1590 L1822.8,1580 L1825.8,1599 L1785.2,1611.1 L1784,1598 Z" fill="#fff" stroke="#111" stroke-width="1.9" stroke-linejoin="round" stroke-linecap="round"/>
<path d="M1755,1571.5 L1784,1596.5 L1824,1586 M1784,1590 L1784,1598" fill="none" stroke="#111" stroke-width="1.4" stroke-linejoin="round" stroke-linecap="round"/>
<path d="M1757.5,1527 Q1762,1519 1771,1523 Q1779,1530 1781.5,1548 L1771,1552 L1767.2,1570.6 Z" fill="#fff" stroke="#111" stroke-width="1.8" stroke-linejoin="round" stroke-linecap="round"/>
<path d="M1770,1524 Q1775,1535 1771,1552" fill="none" stroke="#111" stroke-width="1.4" stroke-linejoin="round" stroke-linecap="round"/>
<path d="M1797,1556 L1807.8,1554 Q1812,1562 1812.3,1575 L1800,1584 Z" fill="#fff" stroke="#111" stroke-width="1.7" stroke-linejoin="round" stroke-linecap="round"/>
<path d="M1802,1555 Q1807,1566 1806,1580" fill="none" stroke="#111" stroke-width="1.3" stroke-linejoin="round" stroke-linecap="round"/>
<path d="M1770.5,1562 Q1771,1551 1784,1550.5 Q1797,1551 1797,1560 L1799,1583 L1787,1587.5 L1768,1582 Z" fill="#fff" stroke="#111" stroke-width="1.9" stroke-linejoin="round" stroke-linecap="round"/>
<path d="M1770.5,1562 Q1776,1569 1788,1569.5 L1797,1560 M1788,1569.5 L1787,1587.5 M1794,1563 L1796,1584" fill="none" stroke="#111" stroke-width="1.4" stroke-linejoin="round" stroke-linecap="round"/>
<path d="M1744,1583 Q1748,1574 1756,1573 L1784,1598 L1784,1603 Q1772,1600 1768,1612 L1745,1600 Z" fill="#fff" stroke="#111" stroke-width="1.7" stroke-linejoin="round" stroke-linecap="round"/>
<ellipse cx="1752.5" cy="1611" rx="16.5" ry="24.5" fill="#fff" stroke="#111" stroke-width="1.7" transform="rotate(-12 1752.5 1611)"/>
<ellipse cx="1750" cy="1611.5" rx="16" ry="24.5" fill="#fff" stroke="#111" stroke-width="1.9" transform="rotate(-12 1750 1611.5)"/>
<ellipse cx="1748" cy="1612" rx="13.5" ry="21.5" fill="none" stroke="#111" stroke-width="1.2" transform="rotate(-12 1748 1612)"/>
<ellipse cx="1746.5" cy="1613.4" rx="9.2" ry="12.5" fill="#fff" stroke="#111" stroke-width="1.7" transform="rotate(-12 1746.5 1613.4)"/>
<ellipse cx="1743.5" cy="1614" rx="6.6" ry="10.5" fill="#fff" stroke="#111" stroke-width="1.6" transform="rotate(-12 1743.5 1614)"/>
<line x1="610" y1="222" x2="798" y2="210" stroke="#2a2a2a" stroke-width="1"/>
<line x1="837" y1="207" x2="876" y2="204.5" stroke="#2a2a2a" stroke-width="1"/>
<line x1="914" y1="202" x2="1108" y2="189.5" stroke="#2a2a2a" stroke-width="1"/>
<line x1="1146" y1="187" x2="1185" y2="184.5" stroke="#2a2a2a" stroke-width="1"/>
<line x1="1223" y1="182" x2="1412" y2="170" stroke="#2a2a2a" stroke-width="1"/>
<line x1="610" y1="222" x2="610" y2="348" stroke="#2a2a2a" stroke-width="1"/>
<line x1="610" y1="386" x2="610" y2="425" stroke="#2a2a2a" stroke-width="1"/>
<line x1="610" y1="464" x2="610" y2="657" stroke="#2a2a2a" stroke-width="1"/>
<line x1="610" y1="696" x2="610" y2="734" stroke="#2a2a2a" stroke-width="1"/>
<line x1="610" y1="774" x2="610" y2="900" stroke="#2a2a2a" stroke-width="1"/>
<line x1="610" y1="900" x2="487" y2="907.5" stroke="#2a2a2a" stroke-width="1"/>
<line x1="449" y1="910" x2="410" y2="912.5" stroke="#2a2a2a" stroke-width="1"/>
<line x1="371" y1="915" x2="249" y2="922" stroke="#2a2a2a" stroke-width="1"/>
<line x1="249" y1="922" x2="249" y2="898" stroke="#2a2a2a" stroke-width="1"/>
<line x1="249" y1="953" x2="403" y2="943" stroke="#2a2a2a" stroke-width="1"/>
<line x1="443" y1="940" x2="481" y2="938" stroke="#2a2a2a" stroke-width="1"/>
<line x1="519" y1="935" x2="672" y2="925" stroke="#2a2a2a" stroke-width="1"/>
<line x1="672" y1="925" x2="672" y2="1271" stroke="#2a2a2a" stroke-width="1"/>
<line x1="249.4" y1="953" x2="249.4" y2="1149" stroke="#2a2a2a" stroke-width="1"/>
<line x1="249.4" y1="1188" x2="249.4" y2="1227" stroke="#2a2a2a" stroke-width="1"/>
<line x1="249.4" y1="1266" x2="249.4" y2="1366" stroke="#2a2a2a" stroke-width="1"/>
<line x1="249.4" y1="1457" x2="249.4" y2="1533" stroke="#2a2a2a" stroke-width="1"/>
<line x1="140.8" y1="437" x2="140.8" y2="439.5" stroke="#444" stroke-width="1"/>
<line x1="140.8" y1="439.5" x2="213.7" y2="429" stroke="#444" stroke-width="1"/>
<line x1="213.7" y1="429" x2="213.7" y2="476" stroke="#444" stroke-width="1"/>
<line x1="183.9" y1="447" x2="183.9" y2="452" stroke="#444" stroke-width="1"/>
<line x1="183.9" y1="452" x2="255" y2="442.7" stroke="#444" stroke-width="1"/>
<line x1="255" y1="442.7" x2="255" y2="478" stroke="#444" stroke-width="1"/>
<line x1="281" y1="428" x2="281" y2="462" stroke="#444" stroke-width="1"/>
<line x1="338" y1="458" x2="338" y2="471" stroke="#444" stroke-width="1"/>
<line x1="338" y1="471" x2="313" y2="474.5" stroke="#444" stroke-width="1"/>
<line x1="73" y1="440.6" x2="108.7" y2="451.3" stroke="#333" stroke-width="1"/>
<line x1="130" y1="457.5" x2="156.2" y2="465.6" stroke="#333" stroke-width="1"/>
<line x1="182.5" y1="473.7" x2="207.5" y2="481.2" stroke="#333" stroke-width="1"/>
<line x1="87.5" y1="485.6" x2="174.4" y2="511.9" stroke="#333" stroke-width="1"/>
<line x1="166" y1="536" x2="212.5" y2="530.6" stroke="#333" stroke-width="1"/>
<line x1="300" y1="503" x2="364" y2="522" stroke="#333" stroke-width="1"/>
<line x1="392" y1="530" x2="410.6" y2="535.6" stroke="#333" stroke-width="1"/>
<line x1="432.5" y1="542" x2="453" y2="548" stroke="#333" stroke-width="1"/>
<line x1="287" y1="562.5" x2="368.7" y2="586" stroke="#333" stroke-width="1"/>
<line x1="228" y1="713" x2="228" y2="759" stroke="#444" stroke-width="1"/>
<line x1="271.7" y1="600" x2="271.7" y2="759" stroke="#444" stroke-width="1"/>
<line x1="249" y1="721" x2="249" y2="853" stroke="#444" stroke-width="1"/>
<line x1="99.4" y1="1008" x2="99.4" y2="984" stroke="#333" stroke-width="1"/>
<line x1="99.4" y1="984" x2="193.8" y2="979.2" stroke="#333" stroke-width="1"/>
<line x1="193.8" y1="979.2" x2="193.8" y2="1003" stroke="#333" stroke-width="1"/>
<line x1="306.2" y1="998" x2="306.2" y2="965.5" stroke="#333" stroke-width="1"/>
<line x1="306.2" y1="965.5" x2="409.5" y2="959" stroke="#333" stroke-width="1"/>
<line x1="409.5" y1="959" x2="409.5" y2="987" stroke="#333" stroke-width="1"/>
<line x1="193.8" y1="1106" x2="193.8" y2="1152" stroke="#333" stroke-width="1"/>
<line x1="306.2" y1="1101" x2="306.2" y2="1145" stroke="#333" stroke-width="1"/>
<line x1="193.8" y1="1306" x2="193.8" y2="1450" stroke="#333" stroke-width="1"/>
<line x1="306.2" y1="1300" x2="306.2" y2="1445" stroke="#333" stroke-width="1"/>
<line x1="221.6" y1="1315" x2="385.4" y2="1363.6" stroke="#333" stroke-width="1"/>
<line x1="277.5" y1="1315" x2="440.6" y2="1364" stroke="#333" stroke-width="1"/>
<line x1="221.6" y1="1315" x2="221.6" y2="1575" stroke="#333" stroke-width="1"/>
<line x1="277.5" y1="1315" x2="277.5" y2="1572" stroke="#333" stroke-width="1"/>
<line x1="385.4" y1="1158" x2="385.4" y2="1363.6" stroke="#222" stroke-width="1"/>
<line x1="440.6" y1="1156" x2="440.6" y2="1364" stroke="#222" stroke-width="1"/>
<line x1="179.4" y1="1393.7" x2="179.4" y2="1407.5" stroke="#222" stroke-width="1"/>
<line x1="179.4" y1="1416" x2="179.4" y2="1446" stroke="#222" stroke-width="1"/>
<line x1="273" y1="1391" x2="273" y2="1401" stroke="#222" stroke-width="1"/>
<line x1="273" y1="1409.5" x2="273" y2="1438.7" stroke="#222" stroke-width="1"/>
<line x1="319.4" y1="1405" x2="319.4" y2="1415" stroke="#222" stroke-width="1"/>
<line x1="319.4" y1="1423.5" x2="319.4" y2="1448.7" stroke="#222" stroke-width="1"/>
<line x1="129.4" y1="1422.5" x2="209.4" y2="1417.5" stroke="#222" stroke-width="1"/>
<line x1="209.4" y1="1417.5" x2="209.4" y2="1448.7" stroke="#222" stroke-width="1"/>
<line x1="129.4" y1="1422.5" x2="129.4" y2="1495" stroke="#222" stroke-width="1"/>
<line x1="129.4" y1="1512.5" x2="129.4" y2="1522.5" stroke="#222" stroke-width="1"/>
<line x1="129.4" y1="1532.5" x2="129.4" y2="1551" stroke="#222" stroke-width="1"/>
<line x1="145" y1="1472" x2="167.5" y2="1470.6" stroke="#222" stroke-width="1"/>
<line x1="181.2" y1="1543" x2="181.2" y2="1593" stroke="#222" stroke-width="1"/>
<line x1="233.7" y1="1549" x2="233.7" y2="1609" stroke="#222" stroke-width="1"/>
<line x1="265" y1="1547" x2="265" y2="1588" stroke="#222" stroke-width="1"/>
<line x1="317.5" y1="1543" x2="317.5" y2="1604" stroke="#222" stroke-width="1"/>
<line x1="277.5" y1="1546" x2="277.5" y2="1572" stroke="#222" stroke-width="1"/>
<line x1="221.6" y1="1548" x2="221.6" y2="1575" stroke="#222" stroke-width="1"/>
<line x1="276.7" y1="1470.2" x2="372.8" y2="1498.4" stroke="#333" stroke-width="1"/>
<line x1="372.8" y1="1498.4" x2="372.8" y2="1531.5" stroke="#333" stroke-width="1"/>
<line x1="372.8" y1="1531.5" x2="429" y2="1549.4" stroke="#333" stroke-width="1"/>
<line x1="429" y1="1549.4" x2="429" y2="1443" stroke="#333" stroke-width="1"/>
<line x1="1185" y1="553" x2="1185" y2="560" stroke="#333" stroke-width="1"/>
<line x1="1185" y1="581" x2="1185" y2="594" stroke="#333" stroke-width="1"/>
<line x1="1185" y1="619" x2="1185" y2="633" stroke="#333" stroke-width="1"/>
<line x1="1185" y1="827" x2="1185" y2="845.2" stroke="#333" stroke-width="1"/>
<line x1="1185" y1="845.2" x2="1366.4" y2="834.3" stroke="#333" stroke-width="1"/>
<line x1="1366.4" y1="834.3" x2="1366.4" y2="1001" stroke="#333" stroke-width="1"/>
<line x1="1412.2" y1="170" x2="1412.2" y2="211" stroke="#333" stroke-width="1"/>
<line x1="1412.2" y1="228" x2="1412.2" y2="257" stroke="#333" stroke-width="1"/>
<line x1="1412.2" y1="269" x2="1412.2" y2="313" stroke="#333" stroke-width="1"/>
<line x1="1412.2" y1="325" x2="1412.2" y2="353" stroke="#333" stroke-width="1"/>
<line x1="1412.2" y1="570" x2="1412.2" y2="610" stroke="#333" stroke-width="1"/>
<line x1="1412.2" y1="621" x2="1412.2" y2="640" stroke="#333" stroke-width="1"/>
<line x1="1412.2" y1="659" x2="1412.2" y2="673" stroke="#333" stroke-width="1"/>
<line x1="1412.2" y1="699" x2="1412.2" y2="779" stroke="#333" stroke-width="1"/>
<line x1="1412.2" y1="791" x2="1412.2" y2="850" stroke="#333" stroke-width="1"/>
<line x1="1412.2" y1="866" x2="1412.2" y2="1147" stroke="#333" stroke-width="1"/>
<line x1="1412.2" y1="1155" x2="1412.2" y2="1224.3" stroke="#333" stroke-width="1"/>
<line x1="746" y1="996.2" x2="789.4" y2="993" stroke="#333" stroke-width="1"/>
<line x1="775.6" y1="1039.4" x2="787.5" y2="1038.7" stroke="#333" stroke-width="1"/>
<line x1="773.7" y1="1089.4" x2="813" y2="1087" stroke="#333" stroke-width="1"/>
<line x1="826" y1="1002.5" x2="938" y2="992" stroke="#333" stroke-width="1"/>
<line x1="920" y1="1012" x2="957.5" y2="1009" stroke="#333" stroke-width="1"/>
<line x1="922" y1="1032.5" x2="952.5" y2="1030.6" stroke="#333" stroke-width="1"/>
<line x1="1010" y1="1053.7" x2="1051" y2="1051" stroke="#333" stroke-width="1"/>
<line x1="1118.7" y1="1033.7" x2="1226.7" y2="1027.3" stroke="#333" stroke-width="1"/>
<line x1="1122.5" y1="1053.7" x2="1236.6" y2="1047.2" stroke="#333" stroke-width="1"/>
<line x1="1041.2" y1="928.9" x2="1094.2" y2="944.4" stroke="#333" stroke-width="1"/>
<line x1="1148.9" y1="961" x2="1155.5" y2="963.3" stroke="#333" stroke-width="1"/>
<line x1="1240" y1="987.5" x2="1263.2" y2="994.8" stroke="#333" stroke-width="1"/>
<line x1="1293" y1="1005.3" x2="1324.7" y2="1013.3" stroke="#333" stroke-width="1"/>
<line x1="1238.7" y1="988" x2="1263" y2="995" stroke="#333" stroke-width="1"/>
<line x1="1272.5" y1="1024.4" x2="1326" y2="1020" stroke="#333" stroke-width="1"/>
<line x1="1277.5" y1="1043.7" x2="1325" y2="1040" stroke="#333" stroke-width="1"/>
<line x1="1290" y1="1061.9" x2="1304.4" y2="1055.6" stroke="#333" stroke-width="1"/>
<line x1="1311" y1="1052.5" x2="1337.5" y2="1041" stroke="#333" stroke-width="1"/>
<line x1="1170" y1="1031" x2="1227.5" y2="1026" stroke="#333" stroke-width="1"/>
<line x1="1170" y1="1050.6" x2="1237.5" y2="1046" stroke="#333" stroke-width="1"/>
<line x1="1440" y1="1070" x2="1465" y2="1078.7" stroke="#333" stroke-width="1"/>
<line x1="1475" y1="1083" x2="1486" y2="1088" stroke="#333" stroke-width="1"/>
<line x1="1498.7" y1="1009.4" x2="1526" y2="1007.5" stroke="#333" stroke-width="1"/>
<line x1="1501" y1="1029.4" x2="1528.7" y2="1027.5" stroke="#333" stroke-width="1"/>
<line x1="1577.5" y1="1004.4" x2="1627.5" y2="1000.6" stroke="#333" stroke-width="1"/>
<line x1="1592.5" y1="1024.4" x2="1632.5" y2="1021" stroke="#333" stroke-width="1"/>
<line x1="1681" y1="1005" x2="1695" y2="1004" stroke="#333" stroke-width="1"/>
<line x1="1800.7" y1="926.5" x2="1813" y2="926" stroke="#333" stroke-width="1"/>
<line x1="1817" y1="975.6" x2="1828" y2="975.6" stroke="#333" stroke-width="1"/>
<line x1="1829.5" y1="1023.5" x2="1839.5" y2="1023" stroke="#333" stroke-width="1"/>
<line x1="672" y1="1271" x2="829.4" y2="1261" stroke="#333" stroke-width="1"/>
<line x1="868.6" y1="1258.4" x2="907.2" y2="1256" stroke="#333" stroke-width="1"/>
<line x1="945.3" y1="1253.5" x2="1138" y2="1241.6" stroke="#333" stroke-width="1"/>
<line x1="1177.3" y1="1238.6" x2="1216.6" y2="1236.3" stroke="#333" stroke-width="1"/>
<line x1="1255.1" y1="1234.4" x2="1411.6" y2="1224.3" stroke="#333" stroke-width="1"/>
<line x1="928" y1="1342.3" x2="1002.9" y2="1337.6" stroke="#333" stroke-width="1"/>
<line x1="1002.9" y1="1337.6" x2="1002.9" y2="1401.2" stroke="#333" stroke-width="1"/>
<line x1="1002.9" y1="1401.2" x2="1064.6" y2="1397.5" stroke="#333" stroke-width="1"/>
<line x1="976.7" y1="1355.4" x2="1056.7" y2="1351" stroke="#333" stroke-width="1"/>
<line x1="1056.7" y1="1351" x2="1056.7" y2="1417" stroke="#333" stroke-width="1"/>
<line x1="1083.3" y1="1310.5" x2="1083.3" y2="1341" stroke="#333" stroke-width="1"/>
<line x1="1083.3" y1="1359" x2="1083.3" y2="1383.5" stroke="#333" stroke-width="1"/>
<line x1="1127.6" y1="1323.6" x2="1127.6" y2="1354.5" stroke="#333" stroke-width="1"/>
<line x1="1127.6" y1="1371" x2="1127.6" y2="1397.5" stroke="#333" stroke-width="1"/>
<line x1="691" y1="1448.8" x2="915.4" y2="1435" stroke="#333" stroke-width="1"/>
<line x1="724.6" y1="1458.5" x2="952.8" y2="1446.2" stroke="#333" stroke-width="1"/>
<line x1="755.3" y1="1468" x2="982.8" y2="1454.8" stroke="#333" stroke-width="1"/>
<line x1="789.3" y1="1478.7" x2="1018.3" y2="1464.9" stroke="#333" stroke-width="1"/>
<line x1="363" y1="259" x2="301.5" y2="280" stroke="#2a2a2a" stroke-width="1"/>
<circle cx="301.5" cy="280" r="2.6" fill="#111"/>
<line x1="363" y1="315" x2="318" y2="331" stroke="#2a2a2a" stroke-width="1"/>
<line x1="363" y1="363" x2="311" y2="390.8" stroke="#2a2a2a" stroke-width="1"/>
<circle cx="311" cy="390.8" r="2.6" fill="#111"/>
<line x1="364" y1="397" x2="319" y2="416" stroke="#2a2a2a" stroke-width="1"/>
<line x1="363" y1="419" x2="265" y2="440" stroke="#2a2a2a" stroke-width="1"/>
<circle cx="265" cy="440" r="2.6" fill="#111"/>
<line x1="352" y1="474" x2="322" y2="491" stroke="#2a2a2a" stroke-width="1"/>
<line x1="393" y1="480" x2="380" y2="513" stroke="#2a2a2a" stroke-width="1"/>
<line x1="455" y1="481" x2="421" y2="531" stroke="#2a2a2a" stroke-width="1"/>
<line x1="520" y1="480" x2="470" y2="540" stroke="#2a2a2a" stroke-width="1"/>
<line x1="33" y1="559" x2="75" y2="491" stroke="#2a2a2a" stroke-width="1"/>
<circle cx="75" cy="491" r="2.6" fill="#111"/>
<line x1="133" y1="570" x2="141" y2="553" stroke="#2a2a2a" stroke-width="1"/>
<line x1="484" y1="664" x2="285" y2="676" stroke="#2a2a2a" stroke-width="1"/>
<circle cx="285" cy="676" r="2.6" fill="#111"/>
<line x1="484" y1="746" x2="277" y2="762" stroke="#2a2a2a" stroke-width="1"/>
<line x1="486" y1="846" x2="290" y2="883" stroke="#2a2a2a" stroke-width="1"/>
<circle cx="290" cy="883" r="2.6" fill="#111"/>
<line x1="15" y1="909" x2="85" y2="1010" stroke="#2a2a2a" stroke-width="1"/>
<line x1="135" y1="908" x2="177" y2="1003" stroke="#2a2a2a" stroke-width="1"/>
<line x1="34" y1="1168" x2="187" y2="1210" stroke="#2a2a2a" stroke-width="1"/>
<circle cx="187" cy="1210" r="2.6" fill="#111"/>
<line x1="35" y1="1299" x2="170" y2="1360" stroke="#2a2a2a" stroke-width="1"/>
<circle cx="170" cy="1360" r="2.6" fill="#111"/>
<line x1="35" y1="1343" x2="176" y2="1406" stroke="#2a2a2a" stroke-width="1"/>
<line x1="36" y1="1385" x2="199" y2="1420" stroke="#2a2a2a" stroke-width="1"/>
<line x1="36" y1="1424" x2="198" y2="1438" stroke="#2a2a2a" stroke-width="1"/>
<line x1="36" y1="1462" x2="133" y2="1470" stroke="#2a2a2a" stroke-width="1"/>
<line x1="36" y1="1503" x2="127" y2="1504" stroke="#2a2a2a" stroke-width="1"/>
<line x1="36" y1="1539" x2="124" y2="1529" stroke="#2a2a2a" stroke-width="1"/>
<line x1="36" y1="1579" x2="118" y2="1560" stroke="#2a2a2a" stroke-width="1"/>
<line x1="35" y1="1651" x2="170" y2="1545" stroke="#2a2a2a" stroke-width="1"/>
<circle cx="170" cy="1545" r="2.6" fill="#111"/>
<line x1="118" y1="1649" x2="181" y2="1603" stroke="#2a2a2a" stroke-width="1"/>
<line x1="191" y1="1647" x2="220" y2="1607" stroke="#2a2a2a" stroke-width="1"/>
<line x1="486" y1="1485" x2="445" y2="1500" stroke="#2a2a2a" stroke-width="1"/>
<circle cx="445" cy="1500" r="2.6" fill="#111"/>
<line x1="486" y1="1430" x2="432" y2="1440" stroke="#2a2a2a" stroke-width="1"/>
<line x1="486" y1="1393" x2="318" y2="1446" stroke="#2a2a2a" stroke-width="1"/>
<line x1="486" y1="1314" x2="455" y2="1319" stroke="#2a2a2a" stroke-width="1"/>
<line x1="486" y1="1243" x2="457" y2="1249" stroke="#2a2a2a" stroke-width="1"/>
<line x1="486" y1="1168" x2="443" y2="1156" stroke="#2a2a2a" stroke-width="1"/>
<line x1="921" y1="537" x2="1185" y2="473.2" stroke="#2a2a2a" stroke-width="1"/>
<circle cx="1185" cy="473.2" r="2.6" fill="#111"/>
<line x1="921" y1="610" x2="1180" y2="564" stroke="#2a2a2a" stroke-width="1"/>
<circle cx="1180" cy="564" r="2.6" fill="#111"/>
<line x1="921" y1="693" x2="1175.6" y2="615.6" stroke="#2a2a2a" stroke-width="1"/>
<line x1="921" y1="777" x2="1178.6" y2="722.3" stroke="#2a2a2a" stroke-width="1"/>
<circle cx="1178.6" cy="722.3" r="2.6" fill="#111"/>
<line x1="1537.5" y1="190.9" x2="1427.8" y2="214.2" stroke="#2a2a2a" stroke-width="1"/>
<line x1="1537.5" y1="245.5" x2="1425.7" y2="264.2" stroke="#2a2a2a" stroke-width="1"/>
<line x1="1537.5" y1="306.8" x2="1429" y2="321.3" stroke="#2a2a2a" stroke-width="1"/>
<line x1="1537.5" y1="415" x2="1437.4" y2="440" stroke="#2a2a2a" stroke-width="1"/>
<line x1="1537.5" y1="581.7" x2="1422.8" y2="619.2" stroke="#2a2a2a" stroke-width="1"/>
<line x1="1537.5" y1="704.7" x2="1420" y2="690.2" stroke="#2a2a2a" stroke-width="1"/>
<line x1="1537.5" y1="767.2" x2="1439.5" y2="743.4" stroke="#2a2a2a" stroke-width="1"/>
<line x1="1537.5" y1="827.7" x2="1427" y2="789.3" stroke="#2a2a2a" stroke-width="1"/>
<circle cx="1427" cy="789.3" r="2.6" fill="#111"/>
<line x1="1537.5" y1="884" x2="1421.6" y2="860.2" stroke="#2a2a2a" stroke-width="1"/>
<circle cx="1421.6" cy="860.2" r="2.6" fill="#111"/>
<line x1="1811.6" y1="690.4" x2="1675" y2="714.6" stroke="#2a2a2a" stroke-width="1"/>
<circle cx="1675" cy="714.6" r="2.6" fill="#111"/>
<line x1="1811.6" y1="758.9" x2="1680" y2="751.6" stroke="#2a2a2a" stroke-width="1"/>
<circle cx="1680" cy="751.6" r="2.6" fill="#111"/>
<line x1="1811.6" y1="809.8" x2="1776" y2="817" stroke="#2a2a2a" stroke-width="1"/>
<line x1="1813.4" y1="851" x2="1724.4" y2="828" stroke="#2a2a2a" stroke-width="1"/>
<circle cx="1724.4" cy="828" r="2.6" fill="#111"/>
<line x1="720" y1="1110" x2="760" y2="1041" stroke="#2a2a2a" stroke-width="1"/>
<line x1="790" y1="1116" x2="830.6" y2="1087" stroke="#2a2a2a" stroke-width="1"/>
<circle cx="830.6" cy="1087" r="2.6" fill="#111"/>
<line x1="894.4" y1="1105.6" x2="915" y2="1036" stroke="#2a2a2a" stroke-width="1"/>
<line x1="935.6" y1="1105" x2="955" y2="1052.5" stroke="#2a2a2a" stroke-width="1"/>
<line x1="988" y1="1105.6" x2="996" y2="1061" stroke="#2a2a2a" stroke-width="1"/>
<line x1="1043.7" y1="1102.5" x2="1058" y2="1066" stroke="#2a2a2a" stroke-width="1"/>
<line x1="1093.7" y1="1102.5" x2="1112.5" y2="1058" stroke="#2a2a2a" stroke-width="1"/>
<circle cx="1112.5" cy="1058" r="2.6" fill="#111"/>
<line x1="1222.5" y1="1103.7" x2="1241.9" y2="1071" stroke="#2a2a2a" stroke-width="1"/>
<circle cx="1241.9" cy="1071" r="2.6" fill="#111"/>
<line x1="1265.6" y1="1103.7" x2="1282.5" y2="1072.5" stroke="#2a2a2a" stroke-width="1"/>
<line x1="1298" y1="1104.4" x2="1305.6" y2="1057.5" stroke="#2a2a2a" stroke-width="1"/>
<line x1="1332.5" y1="978.7" x2="1357.5" y2="972" stroke="#2a2a2a" stroke-width="1"/>
<line x1="1331.3" y1="903" x2="1349.6" y2="923.7" stroke="#2a2a2a" stroke-width="1"/>
<line x1="1254.9" y1="914.6" x2="1266.9" y2="989.4" stroke="#2a2a2a" stroke-width="1"/>
<circle cx="1266.9" cy="989.4" r="2.6" fill="#111"/>
<line x1="1179.7" y1="906.3" x2="1162" y2="961" stroke="#2a2a2a" stroke-width="1"/>
<line x1="1125" y1="901.4" x2="1125.7" y2="942.8" stroke="#2a2a2a" stroke-width="1"/>
<line x1="996.4" y1="894.7" x2="1031.2" y2="923.6" stroke="#2a2a2a" stroke-width="1"/>
<line x1="1606" y1="898" x2="1566" y2="943.7" stroke="#2a2a2a" stroke-width="1"/>
<line x1="1664.5" y1="902.5" x2="1673.7" y2="988.7" stroke="#2a2a2a" stroke-width="1"/>
<line x1="1713" y1="902.5" x2="1734.5" y2="945" stroke="#2a2a2a" stroke-width="1"/>
<line x1="1812.6" y1="909.4" x2="1793" y2="916" stroke="#2a2a2a" stroke-width="1"/>
<line x1="1764" y1="1085" x2="1750.5" y2="1011" stroke="#2a2a2a" stroke-width="1"/>
<circle cx="1750.5" cy="1011" r="2.6" fill="#111"/>
<line x1="1844.5" y1="1085" x2="1843" y2="1025.6" stroke="#2a2a2a" stroke-width="1"/>
<circle cx="1843" cy="1025.6" r="2.6" fill="#111"/>
<line x1="1557" y1="1093.5" x2="1519" y2="1096.9" stroke="#2a2a2a" stroke-width="1"/>
<line x1="1484.4" y1="1070" x2="1471" y2="1077.5" stroke="#2a2a2a" stroke-width="1"/>
<line x1="1481" y1="1104" x2="1400" y2="1063.7" stroke="#2a2a2a" stroke-width="1"/>
<circle cx="1400" cy="1063.7" r="2.6" fill="#111"/>
<line x1="1480.6" y1="1154.7" x2="1443.7" y2="1135" stroke="#2a2a2a" stroke-width="1"/>
<line x1="1478.5" y1="1244.6" x2="1434" y2="1208.6" stroke="#2a2a2a" stroke-width="1"/>
<line x1="747.8" y1="1408.8" x2="734" y2="1442.5" stroke="#2a2a2a" stroke-width="1"/>
<line x1="887.3" y1="1528.5" x2="775" y2="1485.5" stroke="#2a2a2a" stroke-width="1"/>
<line x1="1020.9" y1="1519.9" x2="918" y2="1475" stroke="#2a2a2a" stroke-width="1"/>
<line x1="1138" y1="1513.5" x2="922" y2="1345" stroke="#2a2a2a" stroke-width="1"/>
<line x1="1193.7" y1="1410.6" x2="1138.5" y2="1430" stroke="#2a2a2a" stroke-width="1"/>
<line x1="1190" y1="1291.8" x2="1133" y2="1294.6" stroke="#2a2a2a" stroke-width="1"/>
<circle cx="1133" cy="1294.6" r="2.6" fill="#111"/>
<line x1="1191.8" y1="1356.3" x2="1133.8" y2="1361" stroke="#2a2a2a" stroke-width="1"/>
<circle cx="1133.8" cy="1361" r="2.6" fill="#111"/>
<line x1="1243.6" y1="1494" x2="1235.4" y2="1570.9" stroke="#2a2a2a" stroke-width="1"/>
<line x1="1300.5" y1="1494" x2="1266.9" y2="1582.7" stroke="#2a2a2a" stroke-width="1"/>
<line x1="1405" y1="1493" x2="1379.9" y2="1558" stroke="#2a2a2a" stroke-width="1"/>
<circle cx="1379.9" cy="1558" r="2.6" fill="#111"/>
<line x1="1505.5" y1="1493" x2="1529.5" y2="1564.5" stroke="#2a2a2a" stroke-width="1"/>
<circle cx="1529.5" cy="1564.5" r="2.6" fill="#111"/>
<line x1="1609" y1="1492.5" x2="1634.3" y2="1562.3" stroke="#2a2a2a" stroke-width="1"/>
<circle cx="1634.3" cy="1562.3" r="2.6" fill="#111"/>
<line x1="1704" y1="1486.6" x2="1725.2" y2="1545.8" stroke="#2a2a2a" stroke-width="1"/>
<circle cx="1725.2" cy="1545.8" r="2.6" fill="#111"/>
<text transform="translate(380,262) scale(0.5,1)" text-anchor="middle">1</text>
<text transform="translate(381,318) scale(0.5,1)" text-anchor="middle">2</text>
<text transform="translate(380,366) scale(0.5,1)" text-anchor="middle">3</text>
<text transform="translate(380,400) scale(0.5,1)" text-anchor="middle">4</text>
<text transform="translate(380,425) scale(0.5,1)" text-anchor="middle">5</text>
<text transform="translate(357,474) scale(0.5,1)" text-anchor="middle">6</text>
<text transform="translate(397,475) scale(0.5,1)" text-anchor="middle">7</text>
<text transform="translate(458,474) scale(0.5,1)" text-anchor="middle">8</text>
<text transform="translate(523,475) scale(0.5,1)" text-anchor="middle">9</text>
<text transform="translate(23,582) scale(0.5,1)" text-anchor="middle">10</text>
<text transform="translate(126,594) scale(0.5,1)" text-anchor="middle">11</text>
<text transform="translate(499,671) scale(0.5,1)" text-anchor="middle">12</text>
<text transform="translate(501,751) scale(0.5,1)" text-anchor="middle">13</text>
<text transform="translate(502,851) scale(0.5,1)" text-anchor="middle">14</text>
<text transform="translate(8,901) scale(0.5,1)" text-anchor="middle">15</text>
<text transform="translate(128,899) scale(0.5,1)" text-anchor="middle">16</text>
<text transform="translate(20,1169) scale(0.5,1)" text-anchor="middle">17</text>
<text transform="translate(20,1300) scale(0.5,1)" text-anchor="middle">18</text>
<text transform="translate(20,1342) scale(0.5,1)" text-anchor="middle">19</text>
<text transform="translate(20,1389) scale(0.5,1)" text-anchor="middle">20</text>
<text transform="translate(20,1431) scale(0.5,1)" text-anchor="middle">21</text>
<text transform="translate(20,1468) scale(0.5,1)" text-anchor="middle">22</text>
<text transform="translate(20,1511) scale(0.5,1)" text-anchor="middle">23</text>
<text transform="translate(20,1550) scale(0.5,1)" text-anchor="middle">24</text>
<text transform="translate(20,1592) scale(0.5,1)" text-anchor="middle">25</text>
<text transform="translate(22,1670) scale(0.5,1)" text-anchor="middle">26</text>
<text transform="translate(105,1670) scale(0.5,1)" text-anchor="middle">27</text>
<text transform="translate(181,1670) scale(0.5,1)" text-anchor="middle">28</text>
<text transform="translate(503,1488) scale(0.5,1)" text-anchor="middle">29</text>
<text transform="translate(503,1435) scale(0.5,1)" text-anchor="middle">30</text>
<text transform="translate(503,1397) scale(0.5,1)" text-anchor="middle">31</text>
<text transform="translate(503,1318) scale(0.5,1)" text-anchor="middle">32</text>
<text transform="translate(503,1248) scale(0.5,1)" text-anchor="middle">33</text>
<text transform="translate(503,1180) scale(0.5,1)" text-anchor="middle">34</text>
<text transform="translate(703,1136) scale(0.5,1)" text-anchor="middle">1</text>
<text transform="translate(777,1134) scale(0.5,1)" text-anchor="middle">35</text>
<text transform="translate(888,1130) scale(0.5,1)" text-anchor="middle">36</text>
<text transform="translate(930,1129) scale(0.5,1)" text-anchor="middle">37</text>
<text transform="translate(984,1130) scale(0.5,1)" text-anchor="middle">38</text>
<text transform="translate(1038,1126) scale(0.5,1)" text-anchor="middle">39</text>
<text transform="translate(1088,1127) scale(0.5,1)" text-anchor="middle">40</text>
<text transform="translate(1214,1127) scale(0.5,1)" text-anchor="middle">41</text>
<text transform="translate(1258,1127) scale(0.5,1)" text-anchor="middle">42</text>
<text transform="translate(1297,1127) scale(0.5,1)" text-anchor="middle">43</text>
<text transform="translate(1317,993) scale(0.5,1)" text-anchor="middle">44</text>
<text transform="translate(1315,911) scale(0.5,1)" text-anchor="middle">45</text>
<text transform="translate(1252,907) scale(0.5,1)" text-anchor="middle">46</text>
<text transform="translate(1182,897) scale(0.5,1)" text-anchor="middle">47</text>
<text transform="translate(1123,893) scale(0.5,1)" text-anchor="middle">48</text>
<text transform="translate(988,887) scale(0.5,1)" text-anchor="middle">49</text>
<text transform="translate(904,789) scale(0.5,1)" text-anchor="middle">50</text>
<text transform="translate(904,705) scale(0.5,1)" text-anchor="middle">51</text>
<text transform="translate(904,622) scale(0.5,1)" text-anchor="middle">52</text>
<text transform="translate(904,549) scale(0.5,1)" text-anchor="middle">53</text>
<text transform="translate(1553,199) scale(0.5,1)" text-anchor="middle">54</text>
<text transform="translate(1553,251) scale(0.5,1)" text-anchor="middle">55</text>
<text transform="translate(1553,313) scale(0.5,1)" text-anchor="middle">56</text>
<text transform="translate(1553,420) scale(0.5,1)" text-anchor="middle">57</text>
<text transform="translate(1553,586) scale(0.5,1)" text-anchor="middle">58</text>
<text transform="translate(1553,714) scale(0.5,1)" text-anchor="middle">59</text>
<text transform="translate(1553,779) scale(0.5,1)" text-anchor="middle">27</text>
<text transform="translate(1553,841) scale(0.5,1)" text-anchor="middle">60</text>
<text transform="translate(1553,893) scale(0.5,1)" text-anchor="middle">61</text>
<text transform="translate(1617,892) scale(0.5,1)" text-anchor="middle">62</text>
<text transform="translate(1664,894) scale(0.5,1)" text-anchor="middle">63</text>
<text transform="translate(1705,896) scale(0.5,1)" text-anchor="middle">64</text>
<text transform="translate(1829,697) scale(0.5,1)" text-anchor="middle">65</text>
<text transform="translate(1829,768) scale(0.5,1)" text-anchor="middle">66</text>
<text transform="translate(1829,814) scale(0.5,1)" text-anchor="middle">1</text>
<text transform="translate(1829,864) scale(0.5,1)" text-anchor="middle">67</text>
<text transform="translate(1829,913) scale(0.5,1)" text-anchor="middle">68</text>
<text transform="translate(1766,1111) scale(0.5,1)" text-anchor="middle">69</text>
<text transform="translate(1844,1112) scale(0.5,1)" text-anchor="middle">1</text>
<text transform="translate(1570,1103) scale(0.5,1)" text-anchor="middle">70</text>
<text transform="translate(1496,1075) scale(0.5,1)" text-anchor="middle">71</text>
<text transform="translate(1495,1125) scale(0.5,1)" text-anchor="middle">72</text>
<text transform="translate(1495,1174) scale(0.5,1)" text-anchor="middle">73</text>
<text transform="translate(1495,1261) scale(0.5,1)" text-anchor="middle">74</text>
<text transform="translate(753,1402) scale(0.5,1)" text-anchor="middle">75</text>
<text transform="translate(904,1543) scale(0.5,1)" text-anchor="middle">76</text>
<text transform="translate(1036,1538) scale(0.5,1)" text-anchor="middle">77</text>
<text transform="translate(1148,1534) scale(0.5,1)" text-anchor="middle">78</text>
<text transform="translate(1210,1415) scale(0.5,1)" text-anchor="middle">79</text>
<text transform="translate(1208,1299) scale(0.5,1)" text-anchor="middle">18</text>
<text transform="translate(1209,1363) scale(0.5,1)" text-anchor="middle">19</text>
<text transform="translate(1243,1485) scale(0.5,1)" text-anchor="middle">80</text>
<text transform="translate(1300,1485) scale(0.5,1)" text-anchor="middle">81</text>
<text transform="translate(1411,1484) scale(0.5,1)" text-anchor="middle">82</text>
<text transform="translate(1500,1484) scale(0.5,1)" text-anchor="middle">83</text>
<text transform="translate(1603,1484) scale(0.5,1)" text-anchor="middle">84</text>
<text transform="translate(1697,1479) scale(0.5,1)" text-anchor="middle">85</text>
</svg>
</body></html>
